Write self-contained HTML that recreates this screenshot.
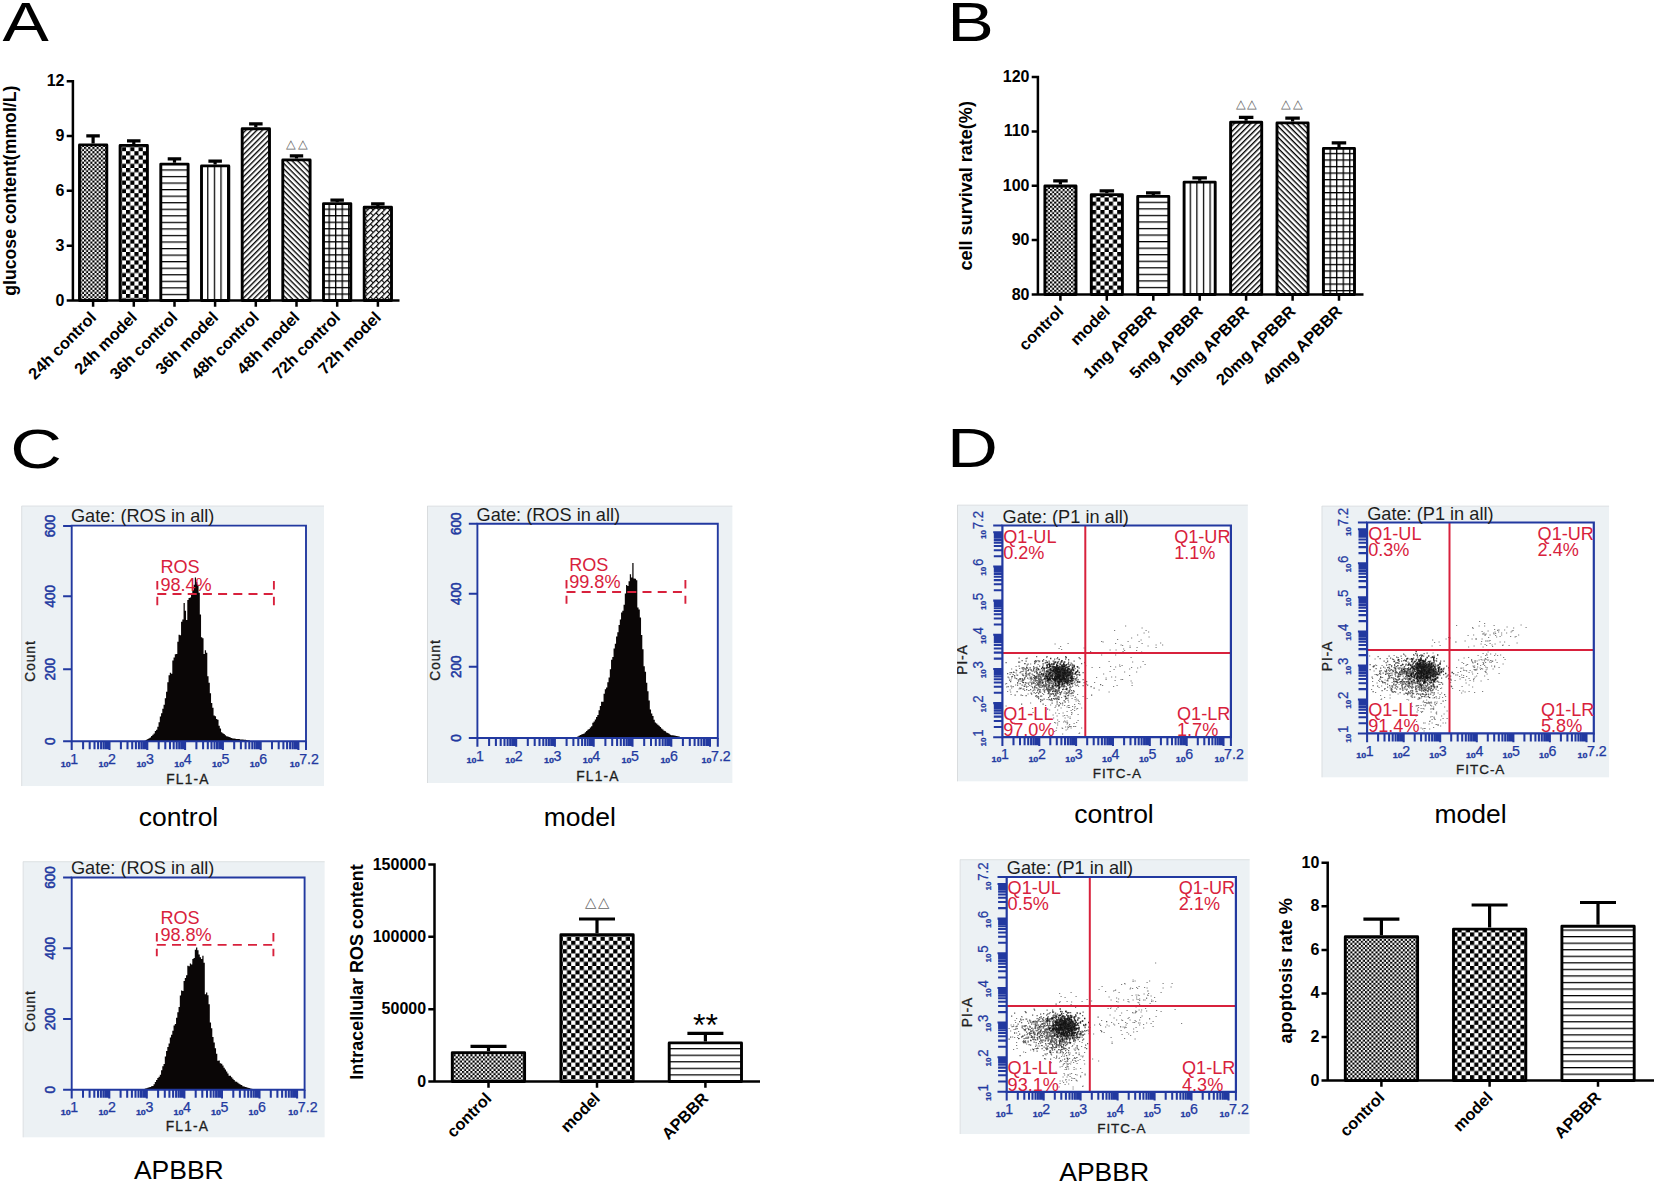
<!DOCTYPE html>
<html lang="en"><head><meta charset="utf-8"><title>Figure</title>
<style>html,body{margin:0;padding:0;background:#fff}svg{display:block}text{font-family:'Liberation Sans', sans-serif}</style>
</head><body>
<svg width="1654" height="1183" viewBox="0 0 1654 1183">
<rect width="1654" height="1183" fill="#fff"/>
<text transform="translate(2.6 40.7) scale(1.25 1)" font-size="55.5" fill="#000">A</text>
<text transform="translate(947.2 41.4) scale(1.26 1)" font-size="55.5" fill="#000">B</text>
<text transform="translate(10.2 467.8) scale(1.29 1)" font-size="55.5" fill="#000">C</text>
<text transform="translate(947 467.2) scale(1.27 1)" font-size="55.5" fill="#000">D</text>
<g><path d="M93.1 143.5V135.8M86.3 135.8H99.8" stroke="#000" stroke-width="3.2" fill="none"/><rect x="79.5" y="144.9" width="27.3" height="155.6" fill="url(#p1)" stroke="#000" stroke-width="2.9" stroke-linejoin="round"/><path d="M133.8 144V140.8M127 140.8H140.5" stroke="#000" stroke-width="3.2" fill="none"/><rect x="120.1" y="145.4" width="27.3" height="155.1" fill="url(#p2)" stroke="#000" stroke-width="2.9" stroke-linejoin="round"/><path d="M174.5 162.7V158.8M167.7 158.8H181.2" stroke="#000" stroke-width="3.2" fill="none"/><rect x="160.8" y="164.1" width="27.3" height="136.4" fill="url(#p3)" stroke="#000" stroke-width="2.9" stroke-linejoin="round"/><path d="M215.1 164.5V161.2M208.4 161.2H221.9" stroke="#000" stroke-width="3.2" fill="none"/><rect x="201.5" y="165.9" width="27.3" height="134.6" fill="url(#p4)" stroke="#000" stroke-width="2.9" stroke-linejoin="round"/><path d="M255.8 127.2V123.8M249.1 123.8H262.6" stroke="#000" stroke-width="3.2" fill="none"/><rect x="242.2" y="128.7" width="27.3" height="171.8" fill="url(#p5)" stroke="#000" stroke-width="2.9" stroke-linejoin="round"/><path d="M296.5 158.5V155.8M289.8 155.8H303.2" stroke="#000" stroke-width="3.2" fill="none"/><rect x="282.8" y="159.9" width="27.3" height="140.6" fill="url(#p6)" stroke="#000" stroke-width="2.9" stroke-linejoin="round"/><path d="M337.2 202.2V200.2M330.4 200.2H343.9" stroke="#000" stroke-width="3.2" fill="none"/><rect x="323.5" y="203.6" width="27.3" height="96.9" fill="url(#p7)" stroke="#000" stroke-width="2.9" stroke-linejoin="round"/><path d="M377.9 205.9V203.9M371.1 203.9H384.6" stroke="#000" stroke-width="3.2" fill="none"/><rect x="364.2" y="207.3" width="27.3" height="93.2" fill="url(#p8)" stroke="#000" stroke-width="2.9" stroke-linejoin="round"/><path d="M72.9 80V300.5M66.7 300.5H399.5M66.7 81.2H72.9M66.7 136H72.9M66.7 190.8H72.9M66.7 245.7H72.9M66.7 300.5H72.9M93.1 300.5V306.7M133.8 300.5V306.7M174.5 300.5V306.7M215.1 300.5V306.7M255.8 300.5V306.7M296.5 300.5V306.7M337.2 300.5V306.7M377.9 300.5V306.7" stroke="#000" stroke-width="2.5" fill="none"/><text x="64.5" y="86.2" text-anchor="end" font-size="16" font-weight="bold">12</text><text x="64.5" y="141" text-anchor="end" font-size="16" font-weight="bold">9</text><text x="64.5" y="195.8" text-anchor="end" font-size="16" font-weight="bold">6</text><text x="64.5" y="250.7" text-anchor="end" font-size="16" font-weight="bold">3</text><text x="64.5" y="305.5" text-anchor="end" font-size="16" font-weight="bold">0</text><text transform="translate(93.6 314.9) rotate(-45)" text-anchor="end" font-size="16.3" font-weight="bold" y="5">24h control</text><text transform="translate(134.3 314.9) rotate(-45)" text-anchor="end" font-size="16.3" font-weight="bold" y="5">24h model</text><text transform="translate(175 314.9) rotate(-45)" text-anchor="end" font-size="16.3" font-weight="bold" y="5">36h control</text><text transform="translate(215.6 314.9) rotate(-45)" text-anchor="end" font-size="16.3" font-weight="bold" y="5">36h model</text><text transform="translate(256.3 314.9) rotate(-45)" text-anchor="end" font-size="16.3" font-weight="bold" y="5">48h control</text><text transform="translate(297 314.9) rotate(-45)" text-anchor="end" font-size="16.3" font-weight="bold" y="5">48h model</text><text transform="translate(337.7 314.9) rotate(-45)" text-anchor="end" font-size="16.3" font-weight="bold" y="5">72h control</text><text transform="translate(378.4 314.9) rotate(-45)" text-anchor="end" font-size="16.3" font-weight="bold" y="5">72h model</text><text transform="translate(10.3 190.7) rotate(-90)" text-anchor="middle" font-size="17.7" font-weight="bold" y="6">glucose content(mmol/L)</text><text transform="translate(297.5 149) scale(1 0.95)" y="-1.45" text-anchor="middle" font-family="'DejaVu Sans', sans-serif" font-size="13" letter-spacing="1.4" fill="#666">△△</text></g>
<g><path d="M1060.4 184.6V180.8M1053.2 180.8H1067.7" stroke="#000" stroke-width="3.2" fill="none"/><rect x="1044.9" y="186" width="31.1" height="108.5" fill="url(#p1)" stroke="#000" stroke-width="2.9" stroke-linejoin="round"/><path d="M1106.8 193.2V190.8M1099.6 190.8H1114.1" stroke="#000" stroke-width="3.2" fill="none"/><rect x="1091.3" y="194.6" width="31.1" height="99.9" fill="url(#p2)" stroke="#000" stroke-width="2.9" stroke-linejoin="round"/><path d="M1153.3 195V192.8M1146 192.8H1160.5" stroke="#000" stroke-width="3.2" fill="none"/><rect x="1137.7" y="196.4" width="31.1" height="98.1" fill="url(#p9)" stroke="#000" stroke-width="2.9" stroke-linejoin="round"/><path d="M1199.7 180.7V177.8M1192.4 177.8H1206.9" stroke="#000" stroke-width="3.2" fill="none"/><rect x="1184.1" y="182.1" width="31.1" height="112.4" fill="url(#p10)" stroke="#000" stroke-width="2.9" stroke-linejoin="round"/><path d="M1246.1 120.8V117.3M1238.9 117.3H1253.4" stroke="#000" stroke-width="3.2" fill="none"/><rect x="1230.6" y="122.2" width="31.1" height="172.2" fill="url(#p5)" stroke="#000" stroke-width="2.9" stroke-linejoin="round"/><path d="M1292.6 121.4V118.2M1285.3 118.2H1299.8" stroke="#000" stroke-width="3.2" fill="none"/><rect x="1277" y="122.9" width="31.1" height="171.6" fill="url(#p6)" stroke="#000" stroke-width="2.9" stroke-linejoin="round"/><path d="M1339 147V142.8M1331.7 142.8H1346.2" stroke="#000" stroke-width="3.2" fill="none"/><rect x="1323.4" y="148.4" width="31.1" height="146.1" fill="url(#p11)" stroke="#000" stroke-width="2.9" stroke-linejoin="round"/><path d="M1037.9 75.8V294.5M1031.7 294.5H1363.5M1031.7 77H1037.9M1031.7 131.4H1037.9M1031.7 185.8H1037.9M1031.7 240.1H1037.9M1031.7 294.5H1037.9M1060.4 294.5V300.7M1106.8 294.5V300.7M1153.3 294.5V300.7M1199.7 294.5V300.7M1246.1 294.5V300.7M1292.6 294.5V300.7M1339 294.5V300.7" stroke="#000" stroke-width="2.5" fill="none"/><text x="1029.5" y="82" text-anchor="end" font-size="16" font-weight="bold">120</text><text x="1029.5" y="136.4" text-anchor="end" font-size="16" font-weight="bold">110</text><text x="1029.5" y="190.8" text-anchor="end" font-size="16" font-weight="bold">100</text><text x="1029.5" y="245.1" text-anchor="end" font-size="16" font-weight="bold">90</text><text x="1029.5" y="299.5" text-anchor="end" font-size="16" font-weight="bold">80</text><text transform="translate(1060.9 308.9) rotate(-45)" text-anchor="end" font-size="16.3" font-weight="bold" y="5">control</text><text transform="translate(1107.3 308.9) rotate(-45)" text-anchor="end" font-size="16.3" font-weight="bold" y="5">model</text><text transform="translate(1153.8 308.9) rotate(-45)" text-anchor="end" font-size="16.3" font-weight="bold" y="5">1mg APBBR</text><text transform="translate(1200.2 308.9) rotate(-45)" text-anchor="end" font-size="16.3" font-weight="bold" y="5">5mg APBBR</text><text transform="translate(1246.6 308.9) rotate(-45)" text-anchor="end" font-size="16.3" font-weight="bold" y="5">10mg APBBR</text><text transform="translate(1293.1 308.9) rotate(-45)" text-anchor="end" font-size="16.3" font-weight="bold" y="5">20mg APBBR</text><text transform="translate(1339.5 308.9) rotate(-45)" text-anchor="end" font-size="16.3" font-weight="bold" y="5">40mg APBBR</text><text transform="translate(965.9 185.8) rotate(-90)" text-anchor="middle" font-size="18.05" font-weight="bold" y="6">cell survival rate(%)</text><text transform="translate(1247.3 109.8) scale(1 0.95)" y="-1.45" text-anchor="middle" font-family="'DejaVu Sans', sans-serif" font-size="13" letter-spacing="1.4" fill="#666">△△</text><text transform="translate(1292.5 109.8) scale(1 0.95)" y="-1.45" text-anchor="middle" font-family="'DejaVu Sans', sans-serif" font-size="13" letter-spacing="1.4" fill="#666">△△</text></g>
<g><path d="M488.5 1051.1V1046.3M470.5 1046.3H506.5" stroke="#000" stroke-width="3.2" fill="none"/><rect x="452.3" y="1052.6" width="72.3" height="28.9" fill="url(#p1)" stroke="#000" stroke-width="2.9" stroke-linejoin="round"/><path d="M597 933.2V919M579 919H615" stroke="#000" stroke-width="3.2" fill="none"/><rect x="560.9" y="934.7" width="72.3" height="146.8" fill="url(#p2)" stroke="#000" stroke-width="2.9" stroke-linejoin="round"/><path d="M705.4 1041.4V1033.3M687.4 1033.3H723.4" stroke="#000" stroke-width="3.2" fill="none"/><rect x="669.2" y="1042.9" width="72.3" height="38.6" fill="url(#p12)" stroke="#000" stroke-width="2.9" stroke-linejoin="round"/><path d="M434.5 863.2V1081.5M428.3 1081.5H760M428.3 864.5H434.5M428.3 936.8H434.5M428.3 1009.2H434.5M428.3 1081.5H434.5M488.5 1081.5V1087.7M597 1081.5V1087.7M705.4 1081.5V1087.7" stroke="#000" stroke-width="2.5" fill="none"/><text x="426.1" y="869.5" text-anchor="end" font-size="16" font-weight="bold">150000</text><text x="426.1" y="941.8" text-anchor="end" font-size="16" font-weight="bold">100000</text><text x="426.1" y="1014.2" text-anchor="end" font-size="16" font-weight="bold">50000</text><text x="426.1" y="1086.5" text-anchor="end" font-size="16" font-weight="bold">0</text><text transform="translate(489 1095.9) rotate(-45)" text-anchor="end" font-size="16.3" font-weight="bold" y="5">control</text><text transform="translate(597.5 1095.9) rotate(-45)" text-anchor="end" font-size="16.3" font-weight="bold" y="5">model</text><text transform="translate(705.9 1095.9) rotate(-45)" text-anchor="end" font-size="16.3" font-weight="bold" y="5">APBBR</text><text transform="translate(356.7 972) rotate(-90)" text-anchor="middle" font-size="17.95" font-weight="bold" y="6">Intracellular ROS content</text><text transform="translate(598.2 908.6) scale(1 0.95)" y="-1.65" text-anchor="middle" font-family="'DejaVu Sans', sans-serif" font-size="14.82" letter-spacing="1.6" fill="#666">△△</text><text x="705.4" y="1035.6" text-anchor="middle" font-size="32">**</text></g>
<g><path d="M1381.4 935.2V919.1M1363.4 919.1H1399.4" stroke="#000" stroke-width="3.2" fill="none"/><rect x="1345.3" y="936.7" width="72.3" height="143.9" fill="url(#p1)" stroke="#000" stroke-width="2.9" stroke-linejoin="round"/><path d="M1489.6 927.6V905M1471.6 905H1507.6" stroke="#000" stroke-width="3.2" fill="none"/><rect x="1453.5" y="929.1" width="72.3" height="151.5" fill="url(#p2)" stroke="#000" stroke-width="2.9" stroke-linejoin="round"/><path d="M1598 924.7V902.5M1580 902.5H1616" stroke="#000" stroke-width="3.2" fill="none"/><rect x="1561.9" y="926.2" width="72.3" height="154.4" fill="url(#p13)" stroke="#000" stroke-width="2.9" stroke-linejoin="round"/><path d="M1327.7 861.5V1080.6M1321.5 1080.6H1654M1321.5 862.7H1327.7M1321.5 906.3H1327.7M1321.5 949.9H1327.7M1321.5 993.4H1327.7M1321.5 1037H1327.7M1321.5 1080.6H1327.7M1381.4 1080.6V1086.8M1489.6 1080.6V1086.8M1598 1080.6V1086.8" stroke="#000" stroke-width="2.5" fill="none"/><text x="1319.3" y="867.7" text-anchor="end" font-size="16" font-weight="bold">10</text><text x="1319.3" y="911.3" text-anchor="end" font-size="16" font-weight="bold">8</text><text x="1319.3" y="954.9" text-anchor="end" font-size="16" font-weight="bold">6</text><text x="1319.3" y="998.4" text-anchor="end" font-size="16" font-weight="bold">4</text><text x="1319.3" y="1042" text-anchor="end" font-size="16" font-weight="bold">2</text><text x="1319.3" y="1085.6" text-anchor="end" font-size="16" font-weight="bold">0</text><text transform="translate(1381.9 1095) rotate(-45)" text-anchor="end" font-size="16.3" font-weight="bold" y="5">control</text><text transform="translate(1490.1 1095) rotate(-45)" text-anchor="end" font-size="16.3" font-weight="bold" y="5">model</text><text transform="translate(1598.5 1095) rotate(-45)" text-anchor="end" font-size="16.3" font-weight="bold" y="5">APBBR</text><text transform="translate(1286.2 970.8) rotate(-90)" text-anchor="middle" font-size="18.15" font-weight="bold" y="6">apoptosis rate %</text></g>
<clipPath id="k1"><rect x="21.2" y="505.4" width="303" height="280.8"/></clipPath><g clip-path="url(#k1)"><rect x="21.2" y="505.4" width="303" height="280.8" fill="#ecf1f4"/><path d="M21.7 786.2V505.9H324.2" fill="none" stroke="#d9dcde" stroke-width="1"/><rect x="71.7" y="525.6" width="234.3" height="215.6" fill="#fff"/><path d="M144.8 741.2V740.6h1.25V739.8h1.25V739h1.25V738.3h1.25V737.5h1.25V736.1h1.25V734.7h1.25V733.5h1.25V731.1h1.25V729.7h1.25V726.8h1.25V722.2h1.25V716.5h1.25V713.2h1.25V708.7h1.25V704.7h1.25V698.2h1.25V691.8h1.25V682.2h1.25V675.3h1.25V672.8h1.25V673.7h1.25V660.5h1.25V657.5h1.25V654.3h1.25V653.9h1.25V641.7h1.25V634.8h1.25V635.3h1.25V621.8h1.25V619.5h1.25V603.1h1.25V610.8h1.25V620h1.25V600.1h1.25V598h1.25V597.4h1.25V593.7h1.25V589.9h1.25V584.8h1.25V577.4h1.25V581.9h1.25V585.2h1.25V592.7h1.25V614.6h1.25V637.3h1.25V638.3h1.25V653.9h1.25V650.3h1.25V652.7h1.25V676.3h1.25V682.8h1.25V693.2h1.25V703.1h1.25V707.8h1.25V715.5h1.25V716.3h1.25V718.9h1.25V719.8h1.25V725.7h1.25V728.6h1.25V732.2h1.25V733.2h1.25V734h1.25V735.2h1.25V736.2h1.25V736.5h1.25V737h1.25V737.4h1.25V738.1h1.25V738.6h1.25V738.6h1.25V738.7h1.25V738.9h1.25V738.9h1.25V739.1h1.25V739.5h1.25V739.5h1.25V739.5h1.25V739.7h1.25V739.8h1.25V740h1.25V740.2h1.25V740.3h1.25V741.2Z" fill="#0a0606"/><path d="M71.7 525.6H306V741.2H71.7Z" fill="none" stroke="#2239a0" stroke-width="1.9"/><path d="M71.7 741.2v8.8M83.1 741.2v8M89.7 741.2v8M94.5 741.2v8M98.1 741.2v8M101.1 741.2v8M103.6 741.2v8M105.8 741.2v8M107.8 741.2v8M109.5 741.2v8.8M120.9 741.2v8M127.5 741.2v8M132.2 741.2v8M135.9 741.2v8M138.9 741.2v8M141.4 741.2v8M143.6 741.2v8M145.6 741.2v8M147.3 741.2v8.8M158.7 741.2v8M165.3 741.2v8M170 741.2v8M173.7 741.2v8M176.7 741.2v8M179.2 741.2v8M181.4 741.2v8M183.3 741.2v8M185.1 741.2v8.8M196.4 741.2v8M203.1 741.2v8M207.8 741.2v8M211.5 741.2v8M214.5 741.2v8M217 741.2v8M219.2 741.2v8M221.1 741.2v8M222.9 741.2v8.8M234.2 741.2v8M240.9 741.2v8M245.6 741.2v8M249.3 741.2v8M252.3 741.2v8M254.8 741.2v8M257 741.2v8M258.9 741.2v8M260.7 741.2v8.8M272 741.2v8M278.7 741.2v8M283.4 741.2v8M287.1 741.2v8M290.1 741.2v8M292.6 741.2v8M294.8 741.2v8M296.7 741.2v8M298.4 741.2v8.8M306 741.2v8.8M71.7 741.2h-8.6M71.7 669.3h-8.6M71.7 596.2h-8.6M71.7 525.9h-8.6" fill="none" stroke="#2239a0" stroke-width="2.05"/><g fill="#2239a0" stroke="#2239a0" stroke-width="0.25"><text transform="translate(60.8 766.6) scale(1.28 1)" font-size="7" font-weight="bold">10</text><text x="70.3" y="763.8" font-size="14.2">1</text><text transform="translate(98.6 766.6) scale(1.28 1)" font-size="7" font-weight="bold">10</text><text x="108.1" y="763.8" font-size="14.2">2</text><text transform="translate(136.4 766.6) scale(1.28 1)" font-size="7" font-weight="bold">10</text><text x="145.9" y="763.8" font-size="14.2">3</text><text transform="translate(174.2 766.6) scale(1.28 1)" font-size="7" font-weight="bold">10</text><text x="183.7" y="763.8" font-size="14.2">4</text><text transform="translate(212 766.6) scale(1.28 1)" font-size="7" font-weight="bold">10</text><text x="221.5" y="763.8" font-size="14.2">5</text><text transform="translate(249.8 766.6) scale(1.28 1)" font-size="7" font-weight="bold">10</text><text x="259.3" y="763.8" font-size="14.2">6</text><text transform="translate(289.7 766.6) scale(1.28 1)" font-size="7" font-weight="bold">10</text><text x="299.2" y="763.8" font-size="14.2">7.2</text></g><text transform="translate(55.4 741.2) rotate(-90) scale(1 1.08)" text-anchor="middle" font-size="13.5" fill="#2239a0" stroke="#2239a0" stroke-width="0.5">0</text><text transform="translate(55.4 669.3) rotate(-90) scale(1 1.08)" text-anchor="middle" font-size="13.5" fill="#2239a0" stroke="#2239a0" stroke-width="0.5">200</text><text transform="translate(55.4 596.2) rotate(-90) scale(1 1.08)" text-anchor="middle" font-size="13.5" fill="#2239a0" stroke="#2239a0" stroke-width="0.5">400</text><text transform="translate(55.4 525.9) rotate(-90) scale(1 1.08)" text-anchor="middle" font-size="13.5" fill="#2239a0" stroke="#2239a0" stroke-width="0.5">600</text><text x="70.9" y="522.4" font-size="18.2" fill="#1d1d1d">Gate: (ROS in all)</text><text transform="translate(35.2 661) rotate(-90)" text-anchor="middle" font-size="13.8" letter-spacing="0.9" fill="#1d1d1d" stroke="#1d1d1d" stroke-width="0.3">Count</text><text x="188" y="783.6" text-anchor="middle" font-size="13.8" letter-spacing="1.2" fill="#1d1d1d" stroke="#1d1d1d" stroke-width="0.3">FL1-A</text><path d="M157.3 594H273.9" stroke="#d8213c" stroke-width="1.9" stroke-dasharray="9 6.2" fill="none"/><path d="M157.3 581V606.5M273.9 581V606.5" stroke="#d8213c" stroke-width="1.9" stroke-dasharray="8.4 7.4" fill="none"/><text font-size="18.1" fill="#d8213c"><tspan x="160.4" y="573.2">ROS</tspan><tspan x="160.4" y="590.9">98.4%</tspan></text></g>
<text x="178.5" y="826" text-anchor="middle" font-size="26.5" fill="#000">control</text>
<clipPath id="k2"><rect x="427" y="505.5" width="305.6" height="277.5"/></clipPath><g clip-path="url(#k2)"><rect x="427" y="505.5" width="305.6" height="277.5" fill="#ecf1f4"/><path d="M427.5 783V506H732.6" fill="none" stroke="#d9dcde" stroke-width="1"/><rect x="477.4" y="523.7" width="240.4" height="214.3" fill="#fff"/><path d="M574.8 738V737.4h1.25V737h1.25V736.4h1.25V735.8h1.25V735.1h1.25V734.6h1.25V734.1h1.25V733.5h1.25V732.3h1.25V731.1h1.25V729.8h1.25V728.9h1.25V727.5h1.25V726.2h1.25V722.7h1.25V721.6h1.25V719.6h1.25V716.9h1.25V714.9h1.25V710.2h1.25V706h1.25V701.8h1.25V701.7h1.25V693.8h1.25V689.2h1.25V687.5h1.25V682.2h1.25V677.4h1.25V669.2h1.25V659.7h1.25V657.1h1.25V648.5h1.25V643.7h1.25V636.4h1.25V632.3h1.25V625h1.25V619.6h1.25V612.6h1.25V610.8h1.25V604.8h1.25V593.5h1.25V585h1.25V585.9h1.25V581.2h1.25V574.2h1.25V577.4h1.25V563.1h1.25V578.4h1.25V578.8h1.25V580.2h1.25V607.5h1.25V609.5h1.25V617.6h1.25V634.9h1.25V649.3h1.25V666.3h1.25V671.8h1.25V682.8h1.25V691.3h1.25V700.5h1.25V709.5h1.25V713.5h1.25V715.9h1.25V719.8h1.25V722.4h1.25V723.6h1.25V724.7h1.25V725.7h1.25V727.1h1.25V728.5h1.25V729.6h1.25V730.7h1.25V731.3h1.25V732.5h1.25V733h1.25V733.8h1.25V734.7h1.25V735.2h1.25V735.3h1.25V735.5h1.25V735.8h1.25V736.1h1.25V736.3h1.25V736.6h1.25V736.9h1.25V737.2h1.25V738Z" fill="#0a0606"/><path d="M477.4 523.7H717.8V738H477.4Z" fill="none" stroke="#2239a0" stroke-width="1.9"/><path d="M477.4 738v8.8M489.1 738v8M495.9 738v8M500.7 738v8M504.5 738v8M507.6 738v8M510.2 738v8M512.4 738v8M514.4 738v8M516.2 738v8.8M527.8 738v8M534.7 738v8M539.5 738v8M543.3 738v8M546.3 738v8M548.9 738v8M551.2 738v8M553.2 738v8M554.9 738v8.8M566.6 738v8M573.4 738v8M578.3 738v8M582.1 738v8M585.1 738v8M587.7 738v8M590 738v8M591.9 738v8M593.7 738v8.8M605.4 738v8M612.2 738v8M617.1 738v8M620.8 738v8M623.9 738v8M626.5 738v8M628.7 738v8M630.7 738v8M632.5 738v8.8M644.2 738v8M651 738v8M655.8 738v8M659.6 738v8M662.7 738v8M665.3 738v8M667.5 738v8M669.5 738v8M671.3 738v8.8M682.9 738v8M689.8 738v8M694.6 738v8M698.4 738v8M701.4 738v8M704 738v8M706.3 738v8M708.3 738v8M710 738v8.8M717.8 738v8.8M477.4 738h-8.6M477.4 666.8h-8.6M477.4 593.8h-8.6M477.4 523.7h-8.6" fill="none" stroke="#2239a0" stroke-width="2.05"/><g fill="#2239a0" stroke="#2239a0" stroke-width="0.25"><text transform="translate(466.5 763.4) scale(1.28 1)" font-size="7" font-weight="bold">10</text><text x="476" y="760.6" font-size="14.2">1</text><text transform="translate(505.3 763.4) scale(1.28 1)" font-size="7" font-weight="bold">10</text><text x="514.8" y="760.6" font-size="14.2">2</text><text transform="translate(544 763.4) scale(1.28 1)" font-size="7" font-weight="bold">10</text><text x="553.5" y="760.6" font-size="14.2">3</text><text transform="translate(582.8 763.4) scale(1.28 1)" font-size="7" font-weight="bold">10</text><text x="592.3" y="760.6" font-size="14.2">4</text><text transform="translate(621.6 763.4) scale(1.28 1)" font-size="7" font-weight="bold">10</text><text x="631.1" y="760.6" font-size="14.2">5</text><text transform="translate(660.4 763.4) scale(1.28 1)" font-size="7" font-weight="bold">10</text><text x="669.9" y="760.6" font-size="14.2">6</text><text transform="translate(701.5 763.4) scale(1.28 1)" font-size="7" font-weight="bold">10</text><text x="711" y="760.6" font-size="14.2">7.2</text></g><text transform="translate(460.9 738) rotate(-90) scale(1 1.08)" text-anchor="middle" font-size="13.5" fill="#2239a0" stroke="#2239a0" stroke-width="0.5">0</text><text transform="translate(460.9 666.8) rotate(-90) scale(1 1.08)" text-anchor="middle" font-size="13.5" fill="#2239a0" stroke="#2239a0" stroke-width="0.5">200</text><text transform="translate(460.9 593.8) rotate(-90) scale(1 1.08)" text-anchor="middle" font-size="13.5" fill="#2239a0" stroke="#2239a0" stroke-width="0.5">400</text><text transform="translate(460.9 523.7) rotate(-90) scale(1 1.08)" text-anchor="middle" font-size="13.5" fill="#2239a0" stroke="#2239a0" stroke-width="0.5">600</text><text x="476.6" y="520.5" font-size="18.2" fill="#1d1d1d">Gate: (ROS in all)</text><text transform="translate(439.6 660) rotate(-90)" text-anchor="middle" font-size="13.8" letter-spacing="0.9" fill="#1d1d1d" stroke="#1d1d1d" stroke-width="0.3">Count</text><text x="598" y="780.6" text-anchor="middle" font-size="13.8" letter-spacing="1.2" fill="#1d1d1d" stroke="#1d1d1d" stroke-width="0.3">FL1-A</text><path d="M566.5 592H685.4" stroke="#d8213c" stroke-width="1.9" stroke-dasharray="9 6.2" fill="none"/><path d="M566.5 580V603.8M685.4 580V603.8" stroke="#d8213c" stroke-width="1.9" stroke-dasharray="8.4 7.4" fill="none"/><text font-size="18.1" fill="#d8213c"><tspan x="569.2" y="571.3">ROS</tspan><tspan x="569.2" y="588.3">99.8%</tspan></text></g>
<text x="579.8" y="826" text-anchor="middle" font-size="26.5" fill="#000">model</text>
<clipPath id="k3"><rect x="22.5" y="861.2" width="302.3" height="276.4"/></clipPath><g clip-path="url(#k3)"><rect x="22.5" y="861.2" width="302.3" height="276.4" fill="#ecf1f4"/><path d="M23 1137.6V861.7H324.8" fill="none" stroke="#d9dcde" stroke-width="1"/><rect x="71.7" y="877.5" width="232.9" height="212.3" fill="#fff"/><path d="M142.3 1089.8V1089.2h1.25V1089h1.25V1088.6h1.25V1088.2h1.25V1087.7h1.25V1087.3h1.25V1086.9h1.25V1086.3h1.25V1086.1h1.25V1084.3h1.25V1082.1h1.25V1080.1h1.25V1078.1h1.25V1076.8h1.25V1074.7h1.25V1070.2h1.25V1066.2h1.25V1064.1h1.25V1056.5h1.25V1050.9h1.25V1047.1h1.25V1043.5h1.25V1037.5h1.25V1034.7h1.25V1030.8h1.25V1025.6h1.25V1024h1.25V1017.7h1.25V1012.2h1.25V1007.1h1.25V995.4h1.25V990.6h1.25V991h1.25V981.1h1.25V977.9h1.25V975.3h1.25V965.7h1.25V966.2h1.25V963.5h1.25V964.4h1.25V959h1.25V958h1.25V949.8h1.25V947.6h1.25V950.3h1.25V954.5h1.25V957.3h1.25V959h1.25V955.7h1.25V962.8h1.25V994.3h1.25V992.4h1.25V995.3h1.25V1004.3h1.25V1022.4h1.25V1028.3h1.25V1037h1.25V1042.4h1.25V1048.3h1.25V1053.8h1.25V1060.8h1.25V1060.5h1.25V1063.3h1.25V1063.7h1.25V1065.6h1.25V1067.7h1.25V1069.6h1.25V1071.6h1.25V1073.4h1.25V1075.8h1.25V1075.8h1.25V1077.3h1.25V1078.7h1.25V1079.9h1.25V1081.5h1.25V1081.7h1.25V1082.8h1.25V1083.8h1.25V1084.5h1.25V1085.1h1.25V1086.2h1.25V1086.5h1.25V1086.9h1.25V1087.2h1.25V1087.7h1.25V1088h1.25V1088.4h1.25V1088.8h1.25V1089.8Z" fill="#0a0606"/><path d="M71.7 877.5H304.6V1089.8H71.7Z" fill="none" stroke="#2239a0" stroke-width="1.9"/><path d="M71.7 1089.8v8.8M83 1089.8v8M89.6 1089.8v8M94.3 1089.8v8M98 1089.8v8M100.9 1089.8v8M103.4 1089.8v8M105.6 1089.8v8M107.5 1089.8v8M109.3 1089.8v8.8M120.6 1089.8v8M127.2 1089.8v8M131.9 1089.8v8M135.5 1089.8v8M138.5 1089.8v8M141 1089.8v8M143.2 1089.8v8M145.1 1089.8v8M146.8 1089.8v8.8M158.1 1089.8v8M164.8 1089.8v8M169.4 1089.8v8M173.1 1089.8v8M176.1 1089.8v8M178.6 1089.8v8M180.8 1089.8v8M182.7 1089.8v8M184.4 1089.8v8.8M195.7 1089.8v8M202.3 1089.8v8M207 1089.8v8M210.7 1089.8v8M213.6 1089.8v8M216.1 1089.8v8M218.3 1089.8v8M220.2 1089.8v8M222 1089.8v8.8M233.3 1089.8v8M239.9 1089.8v8M244.6 1089.8v8M248.2 1089.8v8M251.2 1089.8v8M253.7 1089.8v8M255.9 1089.8v8M257.8 1089.8v8M259.5 1089.8v8.8M270.8 1089.8v8M277.4 1089.8v8M282.1 1089.8v8M285.8 1089.8v8M288.8 1089.8v8M291.3 1089.8v8M293.4 1089.8v8M295.4 1089.8v8M297.1 1089.8v8.8M304.6 1089.8v8.8M71.7 1089.8h-8.6M71.7 1019h-8.6M71.7 948.3h-8.6M71.7 877.5h-8.6" fill="none" stroke="#2239a0" stroke-width="2.05"/><g fill="#2239a0" stroke="#2239a0" stroke-width="0.25"><text transform="translate(60.8 1115.2) scale(1.28 1)" font-size="7" font-weight="bold">10</text><text x="70.3" y="1112.4" font-size="14.2">1</text><text transform="translate(98.4 1115.2) scale(1.28 1)" font-size="7" font-weight="bold">10</text><text x="107.9" y="1112.4" font-size="14.2">2</text><text transform="translate(135.9 1115.2) scale(1.28 1)" font-size="7" font-weight="bold">10</text><text x="145.4" y="1112.4" font-size="14.2">3</text><text transform="translate(173.5 1115.2) scale(1.28 1)" font-size="7" font-weight="bold">10</text><text x="183" y="1112.4" font-size="14.2">4</text><text transform="translate(211.1 1115.2) scale(1.28 1)" font-size="7" font-weight="bold">10</text><text x="220.6" y="1112.4" font-size="14.2">5</text><text transform="translate(248.6 1115.2) scale(1.28 1)" font-size="7" font-weight="bold">10</text><text x="258.1" y="1112.4" font-size="14.2">6</text><text transform="translate(288.3 1115.2) scale(1.28 1)" font-size="7" font-weight="bold">10</text><text x="297.8" y="1112.4" font-size="14.2">7.2</text></g><text transform="translate(55.4 1089.8) rotate(-90) scale(1 1.08)" text-anchor="middle" font-size="13.5" fill="#2239a0" stroke="#2239a0" stroke-width="0.5">0</text><text transform="translate(55.4 1019) rotate(-90) scale(1 1.08)" text-anchor="middle" font-size="13.5" fill="#2239a0" stroke="#2239a0" stroke-width="0.5">200</text><text transform="translate(55.4 948.3) rotate(-90) scale(1 1.08)" text-anchor="middle" font-size="13.5" fill="#2239a0" stroke="#2239a0" stroke-width="0.5">400</text><text transform="translate(55.4 877.5) rotate(-90) scale(1 1.08)" text-anchor="middle" font-size="13.5" fill="#2239a0" stroke="#2239a0" stroke-width="0.5">600</text><text x="70.9" y="874.3" font-size="18.2" fill="#1d1d1d">Gate: (ROS in all)</text><text transform="translate(35.2 1011) rotate(-90)" text-anchor="middle" font-size="13.8" letter-spacing="0.9" fill="#1d1d1d" stroke="#1d1d1d" stroke-width="0.3">Count</text><text x="187.5" y="1131" text-anchor="middle" font-size="13.8" letter-spacing="1.2" fill="#1d1d1d" stroke="#1d1d1d" stroke-width="0.3">FL1-A</text><path d="M156.8 944.9H273.4" stroke="#d8213c" stroke-width="1.9" stroke-dasharray="9 6.2" fill="none"/><path d="M156.8 933V956.2M273.4 933V956.2" stroke="#d8213c" stroke-width="1.9" stroke-dasharray="8.4 7.4" fill="none"/><text font-size="18.1" fill="#d8213c"><tspan x="160.4" y="924.2">ROS</tspan><tspan x="160.4" y="941.2">98.8%</tspan></text></g>
<text x="178.8" y="1179" text-anchor="middle" font-size="26.5" fill="#000">APBBR</text>
<clipPath id="k4"><rect x="957" y="504.5" width="290.9" height="277.1"/></clipPath><g clip-path="url(#k4)"><rect x="957" y="504.5" width="290.9" height="277.1" fill="#ecf1f4"/><path d="M957.5 781.6V505H1247.9" fill="none" stroke="#d9dcde" stroke-width="1"/><rect x="1002.4" y="525.5" width="228.5" height="211.7" fill="#fff"/><path d="M1065.5 679.5h1.4M1058 669.5h1.4M1063.5 681h1.4M1064 668.5h1.4M1058 673h1.4M1066.5 674h1.4M1060 672.5h1.4M1063 670.5h1.4M1062 674.5h1.4M1070 674h1.4M1066.5 669.5h1.4M1066 674.5h1.4M1059.5 673h1.4M1066.5 672.5h1.4M1067 680.5h1.4M1070 681h1.4M1055.5 674.5h1.4M1058.5 677.5h1.4M1062.5 674.5h1.4M1064 671h1.4M1062.5 670.5h1.4M1072 672.5h1.4M1062 666h1.4M1054.5 669.5h1.4M1066 677h1.4M1063.5 671h1.4M1071 670h1.4M1058 675.5h1.4M1057 674.5h1.4M1066.5 673.5h1.4M1064 674h1.4M1058.5 659.5h1.4M1056 673h1.4M1054 670.5h1.4M1063 679.5h1.4M1055.5 670.5h1.4M1063 676h1.4M1055 681h1.4M1058 678h1.4M1061 675h1.4M1070 677.5h1.4M1062.5 669.5h1.4M1058.5 667h1.4M1072 667.5h1.4M1049.5 679.5h1.4M1068.5 672.5h1.4M1066 670.5h1.4M1059 675.5h1.4M1064 672h1.4M1070 677.5h1.4M1062.5 668.5h1.4M1062.5 672.5h1.4M1061.5 677h1.4M1059 674.5h1.4M1066 675.5h1.4M1073.5 667h1.4M1061.5 668.5h1.4M1061.5 684.5h1.4M1054 671.5h1.4M1065 674h1.4M1066.5 667h1.4M1067 670h1.4M1056 675.5h1.4M1064.5 670.5h1.4M1058 672.5h1.4M1062 673h1.4M1057 663h1.4M1068.5 675h1.4M1056 666h1.4M1058.5 671.5h1.4M1051.5 678.5h1.4M1064 672.5h1.4M1063.5 674.5h1.4M1067 674.5h1.4M1068 681h1.4M1060.5 671.5h1.4M1057.5 672h1.4M1058.5 673h1.4M1063.5 676h1.4M1056 677.5h1.4M1060.5 673h1.4M1059.5 664.5h1.4M1063 666h1.4M1067.5 674h1.4M1069.5 677h1.4M1065.5 680h1.4M1061.5 680h1.4M1061 674.5h1.4M1058.5 675.5h1.4M1065 671.5h1.4M1055.5 672.5h1.4M1064 673h1.4M1057 670h1.4M1060.5 662h1.4M1059 679.5h1.4M1055.5 672h1.4M1070.5 677.5h1.4M1066.5 673h1.4M1055 685.5h1.4M1063.5 674.5h1.4M1070 677.5h1.4M1062 668.5h1.4M1061 672.5h1.4M1058.5 669.5h1.4M1057 672.5h1.4M1059 675h1.4M1067 675.5h1.4M1062 680h1.4M1065 667.5h1.4M1058.5 674h1.4M1057.5 676.5h1.4M1053 664.5h1.4M1066.5 676.5h1.4M1054 673h1.4M1068.5 669h1.4M1056 667.5h1.4M1057 665.5h1.4M1059.5 667h1.4M1062 683h1.4M1056.5 677h1.4M1067.5 664h1.4M1062.5 673.5h1.4M1060 676.5h1.4M1059.5 675h1.4M1060 672.5h1.4M1058 683h1.4M1061.5 668.5h1.4M1071.5 681h1.4M1061 670.5h1.4M1058 678.5h1.4M1060 670h1.4M1066 672.5h1.4M1061.5 682h1.4M1066 679h1.4M1064 679h1.4M1061 677.5h1.4M1067 672h1.4M1055.5 675h1.4M1061 676h1.4M1059 675.5h1.4M1066.5 684h1.4M1070.5 676h1.4M1069 671.5h1.4M1067.5 674.5h1.4M1068.5 675.5h1.4M1060.5 670h1.4M1068 674h1.4M1065.5 676h1.4M1051.5 675h1.4M1060 675h1.4M1064 666h1.4M1060 673h1.4M1063.5 677.5h1.4M1058.5 672h1.4M1065 665.5h1.4M1071 670h1.4M1068.5 674.5h1.4M1071 679h1.4M1061.5 666h1.4M1062.5 675h1.4M1064.5 668h1.4M1057.5 669.5h1.4M1063 669.5h1.4M1061 677.5h1.4M1059.5 679h1.4M1063.5 672.5h1.4M1067.5 676h1.4M1060.5 670.5h1.4M1061.5 675h1.4M1067.5 675h1.4M1058.5 667.5h1.4M1063 675h1.4M1067.5 671.5h1.4M1055.5 676.5h1.4M1061 668h1.4M1070 678h1.4M1062 674.5h1.4M1058 677.5h1.4M1059.5 671.5h1.4M1060.5 668.5h1.4M1067 681h1.4M1065.5 665h1.4M1060.5 670.5h1.4M1063.5 664.5h1.4M1051 670.5h1.4M1066.5 673h1.4M1073 670.5h1.4M1062 673h1.4M1057.5 678h1.4M1055 668h1.4M1060 671h1.4M1067.5 671.5h1.4M1064.5 671.5h1.4M1068 674h1.4M1063 666.5h1.4M1065.5 671h1.4M1066 676h1.4M1064.5 678.5h1.4M1063.5 670h1.4M1062.5 674h1.4M1056 675.5h1.4M1069 675h1.4M1062.5 675.5h1.4M1067.5 671.5h1.4M1066.5 670.5h1.4M1064.5 676h1.4M1055.5 675.5h1.4M1063 666.5h1.4M1059.5 670.5h1.4M1057.5 675h1.4M1058 673.5h1.4M1056.5 672h1.4M1071 676h1.4M1054 668.5h1.4M1061 666.5h1.4M1066.5 673.5h1.4M1061.5 673.5h1.4M1058.5 668h1.4M1046.5 665h1.4M1063 676.5h1.4M1061 665.5h1.4M1060 673.5h1.4M1055.5 679h1.4M1056 673h1.4M1056.5 677h1.4M1055.5 669h1.4M1067.5 668.5h1.4M1059 675.5h1.4M1063.5 666h1.4M1065 672.5h1.4M1068 666.5h1.4M1065.5 675.5h1.4M1060 671.5h1.4M1063.5 670.5h1.4M1060 670h1.4M1062.5 676.5h1.4M1054 673h1.4M1063.5 680h1.4M1058 678.5h1.4M1059.5 675.5h1.4M1063 674.5h1.4M1060 669h1.4M1069 680.5h1.4M1061 672.5h1.4M1060.5 667.5h1.4M1056.5 674.5h1.4M1066.5 673h1.4M1057 668.5h1.4M1058.5 676h1.4M1062 667h1.4M1056 674.5h1.4M1063.5 681h1.4M1069 675h1.4M1058.5 674h1.4M1056 670h1.4M1067 676.5h1.4M1066.5 680.5h1.4M1059.5 676.5h1.4M1062 675h1.4M1063 676h1.4M1055 667h1.4M1062 675.5h1.4M1059.5 672.5h1.4M1055 677h1.4M1064 680h1.4M1060 673h1.4M1062 679.5h1.4M1064.5 675.5h1.4M1053.5 669h1.4M1054.5 672h1.4M1066 674h1.4M1057 682h1.4M1056.5 679h1.4M1067.5 675h1.4M1068.5 669h1.4M1059 672h1.4M1063.5 673h1.4M1070 672.5h1.4M1060.5 668h1.4M1064 677h1.4M1058 667.5h1.4M1055 678h1.4M1065.5 675h1.4M1065.5 676h1.4M1064 666.5h1.4M1064.5 676.5h1.4M1067.5 678h1.4M1058.5 674h1.4M1055 679h1.4M1055 676h1.4M1058 669.5h1.4M1057.5 671.5h1.4M1063.5 678.5h1.4M1060.5 677h1.4M1066 682.5h1.4M1059 674.5h1.4M1065 674.5h1.4M1065 671h1.4M1060 670.5h1.4M1058.5 669h1.4M1059 666.5h1.4M1055 677.5h1.4M1046.5 666.5h1.4M1056.5 667h1.4M1051.5 686h1.4M1062.5 671.5h1.4M1053.5 664h1.4M1050 658.5h1.4M1064.5 671.5h1.4M1067.5 675h1.4M1043 685h1.4M1064 680.5h1.4M1055 670.5h1.4M1058 685.5h1.4M1049 666.5h1.4M1064 662h1.4M1072 668h1.4M1069.5 674h1.4M1056.5 667h1.4M1072 673.5h1.4M1048.5 677.5h1.4M1058.5 677.5h1.4M1056.5 676.5h1.4M1063.5 675h1.4M1046 676.5h1.4M1071.5 678h1.4M1067.5 680h1.4M1057 681h1.4M1057.5 668h1.4M1049 680h1.4M1065.5 679h1.4M1055 662.5h1.4M1066.5 674.5h1.4M1054.5 670h1.4M1055 662h1.4M1065 679.5h1.4M1067 672.5h1.4M1049 665h1.4M1057 685.5h1.4M1067.5 675h1.4M1063.5 680h1.4M1060 676h1.4M1061.5 671h1.4M1050 670h1.4M1069.5 665h1.4M1056 671.5h1.4M1060 671.5h1.4M1066.5 672.5h1.4M1059.5 679h1.4M1048 680.5h1.4M1068.5 666.5h1.4M1059 669.5h1.4M1056.5 679h1.4M1044 678.5h1.4M1063.5 674.5h1.4M1078.5 672.5h1.4M1047 676h1.4M1061 670.5h1.4M1042 661h1.4M1073.5 665.5h1.4M1071.5 680.5h1.4M1041 674h1.4M1065 682h1.4M1071 683.5h1.4M1059.5 673h1.4M1058 677.5h1.4M1052 667h1.4M1079 682h1.4M1068.5 673.5h1.4M1052.5 671h1.4M1053 670h1.4M1046.5 677.5h1.4M1062.5 679.5h1.4M1060.5 670h1.4M1077 681.5h1.4M1064.5 680.5h1.4M1057 679h1.4M1053.5 680.5h1.4M1067.5 680.5h1.4M1063 675.5h1.4M1061.5 679h1.4M1056 678.5h1.4M1066.5 667h1.4M1045.5 675h1.4M1057 669h1.4M1049.5 666.5h1.4M1046 671h1.4M1046.5 662.5h1.4M1058.5 684h1.4M1070 674h1.4M1063 673h1.4M1058.5 669.5h1.4M1060 667.5h1.4M1053.5 673h1.4M1059 687.5h1.4M1052.5 666.5h1.4M1065 678.5h1.4M1065.5 674h1.4M1047 671h1.4M1049 673h1.4M1074.5 673.5h1.4M1060.5 681.5h1.4M1048.5 678.5h1.4M1057 669.5h1.4M1056.5 667.5h1.4M1067 675.5h1.4M1056 677h1.4M1048.5 664h1.4M1048.5 674h1.4M1062 673h1.4M1054.5 679h1.4M1055 680h1.4M1072 678.5h1.4M1066 673.5h1.4M1063 680h1.4M1061.5 670h1.4M1060.5 670.5h1.4M1048.5 667.5h1.4M1058 672h1.4M1075.5 672h1.4M1043 674.5h1.4M1055.5 672h1.4M1047 680.5h1.4M1057.5 674.5h1.4M1062.5 678h1.4M1049.5 669h1.4M1051.5 676h1.4M1067.5 673.5h1.4M1057 670.5h1.4M1054.5 673.5h1.4M1065.5 678.5h1.4M1066 679h1.4M1053.5 667h1.4M1062.5 667.5h1.4M1071.5 680.5h1.4M1048 679.5h1.4M1070 674h1.4M1060 680.5h1.4M1052.5 674h1.4M1066.5 679h1.4M1051 664h1.4M1061 661h1.4M1062.5 668.5h1.4M1058 672.5h1.4M1063.5 665h1.4M1059 681.5h1.4M1057.5 685.5h1.4M1046.5 678.5h1.4M1073 670h1.4M1054 678h1.4M1077 671h1.4M1063 680.5h1.4M1063 664h1.4M1058 681h1.4M1063.5 674h1.4M1058 683.5h1.4M1077 667h1.4M1045 675.5h1.4M1067.5 674h1.4M1060.5 679.5h1.4M1060.5 671h1.4M1041 668.5h1.4M1063.5 683.5h1.4M1038 669.5h1.4M1050 673h1.4M1071.5 669h1.4M1069 684.5h1.4M1042 683h1.4M1069.5 673.5h1.4M1054.5 676.5h1.4M1059 678.5h1.4M1066.5 684h1.4M1070.5 678h1.4M1048.5 667.5h1.4M1042 667h1.4M1059 677h1.4M1054 671.5h1.4M1079 675h1.4M1053.5 662.5h1.4M1060 682h1.4M1054 678h1.4M1053 679h1.4M1058.5 673h1.4M1055.5 673h1.4M1070.5 673.5h1.4M1053.5 671h1.4M1056 664.5h1.4M1069.5 670.5h1.4M1058.5 683.5h1.4M1073 678.5h1.4M1055 683.5h1.4M1067.5 681.5h1.4M1061 676h1.4M1058.5 687h1.4M1052 679h1.4M1065.5 657.5h1.4M1059 684.5h1.4M1063 663.5h1.4M1054.5 680h1.4M1061 669.5h1.4M1048 674.5h1.4M1063.5 671h1.4M1057 670.5h1.4M1065 681h1.4M1052.5 666.5h1.4M1064.5 673.5h1.4M1050.5 672.5h1.4M1058.5 688.5h1.4M1064 678.5h1.4M1071.5 677.5h1.4M1056.5 670.5h1.4M1070.5 671h1.4M1066 689.5h1.4M1064.5 670.5h1.4M1063 672h1.4M1054.5 679.5h1.4M1066.5 673.5h1.4M1055.5 677h1.4M1062 671h1.4M1064.5 670h1.4M1043.5 669h1.4M1058.5 682h1.4M1052.5 667.5h1.4M1049.5 678.5h1.4M1058 677.5h1.4M1071.5 676h1.4M1046 668h1.4M1067 683h1.4M1050 676h1.4" stroke="#000" stroke-opacity="0.8" stroke-width="1.4" fill="none"/><path d="M1063 675.5h1.25M1100 684.5h1.25M1059 680.5h1.25M1050.5 669h1.25M1063.5 672.5h1.25M1067 675h1.25M1034.5 662.5h1.25M1046 657h1.25M1056 673.5h1.25M1068.5 669h1.25M1054 681.5h1.25M1066 667.5h1.25M1076 672h1.25M1072 674.5h1.25M1051.5 664.5h1.25M1055 698.5h1.25M1049 690h1.25M1073.5 674h1.25M1071 690.5h1.25M1053 671h1.25M1071 681h1.25M1083.5 682.5h1.25M1042.5 675h1.25M1042 682.5h1.25M1065.5 673h1.25M1045.5 684h1.25M1052 687.5h1.25M1044.5 673h1.25M1050 666h1.25M1091 695h1.25M1049 683.5h1.25M1034 686.5h1.25M1070.5 674.5h1.25M1052.5 678.5h1.25M1062.5 673.5h1.25M1046 673h1.25M1051.5 683.5h1.25M1058 679h1.25M1036 671.5h1.25M1052 671h1.25M1055.5 673.5h1.25M1037.5 684h1.25M1068.5 672.5h1.25M1065 668.5h1.25M1041 673.5h1.25M1076.5 677h1.25M1037.5 677.5h1.25M1050 669.5h1.25M1061.5 660.5h1.25M1034.5 661h1.25M1071 678.5h1.25M1049.5 669.5h1.25M1065.5 689h1.25M1048 678.5h1.25M1087 685h1.25M1053 679.5h1.25M1058.5 683.5h1.25M1062 672.5h1.25M1056 680.5h1.25M1049 677h1.25M1046 687.5h1.25M1077 670h1.25M1068 679.5h1.25M1058.5 674.5h1.25M1061 686.5h1.25M1042 685.5h1.25M1054 666.5h1.25M1057 683h1.25M1056.5 679.5h1.25M1053 671.5h1.25M1070 669h1.25M1070 681h1.25M1054 674.5h1.25M1054 676.5h1.25M1057 675.5h1.25M1058.5 687.5h1.25M1064 683h1.25M1071.5 665h1.25M1068.5 678h1.25M1052 672h1.25M1065 659h1.25M1046 673h1.25M1065 668.5h1.25M1060.5 683.5h1.25M1069 691.5h1.25M1038.5 674h1.25M1036.5 685h1.25M1057.5 667.5h1.25M1052.5 671h1.25M1059 679h1.25M1050.5 680.5h1.25M1025.5 671.5h1.25M1065.5 686.5h1.25M1067.5 668h1.25M1036.5 672.5h1.25M1086 681.5h1.25M1048.5 661h1.25M1059.5 673h1.25M1063.5 679h1.25M1028.5 673.5h1.25M1067 672h1.25M1042.5 665h1.25M1041 696h1.25M1075 672.5h1.25M1074.5 668.5h1.25M1050.5 669.5h1.25M1055 683h1.25M1082.5 685.5h1.25M1056 678h1.25M1054.5 680h1.25M1046.5 678.5h1.25M1063 686h1.25M1047 680h1.25M1061 669.5h1.25M1033 670h1.25M1068 675h1.25M1085.5 684h1.25M1048.5 675h1.25M1063 681.5h1.25M1054.5 681h1.25M1093.5 688h1.25M1059.5 672.5h1.25M1035.5 676.5h1.25M1052.5 676h1.25M1050.5 683.5h1.25M1070.5 671.5h1.25M1040.5 678.5h1.25M1074 682h1.25M1063 664.5h1.25M1050.5 681.5h1.25M1062 677h1.25M1064 685h1.25M1058.5 670.5h1.25M1040 677.5h1.25M1055 675h1.25M1071 672h1.25M1054 682.5h1.25M1046.5 656.5h1.25M1050.5 683.5h1.25M1050 674h1.25M1034.5 686h1.25M1036 669h1.25M1055 694.5h1.25M1058.5 670.5h1.25M1039 672.5h1.25M1042 670h1.25M1058 688h1.25M1043.5 688h1.25M1033.5 692.5h1.25M1049.5 672.5h1.25M1051.5 678.5h1.25M1056.5 673.5h1.25M1048.5 671h1.25M1058 672h1.25M1049 663h1.25M1057.5 681h1.25M1044.5 685h1.25M1056.5 677.5h1.25M1036.5 680.5h1.25M1072.5 695.5h1.25M1049.5 675.5h1.25M1066 682h1.25M1049.5 676.5h1.25M1069 682.5h1.25M1056.5 686h1.25M1039 679.5h1.25M1049 673h1.25M1067 693h1.25M1062.5 678.5h1.25M1077 685h1.25M1030.5 669.5h1.25M1049 670h1.25M1039 681h1.25M1059.5 692.5h1.25M1054 677.5h1.25M1048.5 685.5h1.25M1072.5 693h1.25M1069.5 672.5h1.25M1072 670h1.25M1050 674.5h1.25M1082.5 672.5h1.25M1045.5 678h1.25M1071.5 683h1.25M1064 670h1.25M1053 688h1.25M1059 671.5h1.25M1053.5 688.5h1.25M1078 682h1.25M1047.5 691h1.25M1050 677.5h1.25M1062.5 677.5h1.25M1055.5 691.5h1.25M1061.5 664.5h1.25M1050.5 688.5h1.25M1055.5 668h1.25M1068.5 682h1.25M1058 682h1.25M1053 678.5h1.25M1064.5 672.5h1.25M1072.5 669h1.25M1082.5 679.5h1.25M1062 666.5h1.25M1067 670.5h1.25M1063.5 677.5h1.25M1048 692h1.25M1059.5 672.5h1.25M1053.5 679.5h1.25M1058.5 685h1.25M1051 678.5h1.25M1052 670.5h1.25M1067.5 670.5h1.25M1038.5 681.5h1.25M1051.5 681.5h1.25M1064 682h1.25M1058.5 691h1.25M1045.5 686.5h1.25M1056 679.5h1.25M1053 684.5h1.25M1063.5 673.5h1.25M1058.5 681.5h1.25M1056 699h1.25M1064.5 674.5h1.25M1070 680.5h1.25M1052 674h1.25M1039 682.5h1.25M1076 678h1.25M1048.5 661.5h1.25M1043.5 676h1.25M1050.5 675.5h1.25M1048 675h1.25M1055 678.5h1.25M1059 679h1.25M1048.5 674h1.25M1043.5 672h1.25M1057.5 681h1.25M1042 667.5h1.25M1051.5 666h1.25M1054.5 675.5h1.25M1049.5 691h1.25M1053 679h1.25M1037 683h1.25M1061.5 679.5h1.25M1032.5 675h1.25M1050 680h1.25M1057.5 672.5h1.25M1052 687.5h1.25M1070.5 663h1.25M1052.5 682.5h1.25M1053 679.5h1.25M1054 691.5h1.25M1066 676h1.25M1074.5 684h1.25M1077.5 674.5h1.25M1040 683h1.25M1058 661.5h1.25M1012.5 674.5h1.25M1058.5 670h1.25M1052 677.5h1.25M1041 687h1.25M1042 676h1.25M1057.5 672.5h1.25M1048.5 684h1.25M1038.5 675.5h1.25M1076.5 671.5h1.25M1039.5 671.5h1.25M1022.5 667.5h1.25M1043.5 668.5h1.25M1047 681.5h1.25M1058 668h1.25M1072.5 669.5h1.25M1075 674h1.25M1046.5 672h1.25M1074.5 679h1.25M1057 662h1.25M1057 674h1.25M1053 669.5h1.25M1038.5 686.5h1.25M1045.5 681h1.25M1064 678.5h1.25M1059 682.5h1.25M1053 675.5h1.25M1061 678.5h1.25M1050.5 675.5h1.25M1058 672h1.25M1069.5 682.5h1.25M1063.5 671h1.25M1064 671h1.25M1076 675h1.25M1079.5 658.5h1.25M1060 671h1.25M1042 674h1.25M1055.5 670h1.25M1048 672.5h1.25M1062 686h1.25M1062 666h1.25M1051.5 681h1.25M1049 683h1.25M1055.5 684h1.25M1058 684h1.25M1049 664.5h1.25M1037.5 660.5h1.25M1053.5 672h1.25M1045 681.5h1.25M1056.5 665.5h1.25M1068 683h1.25M1045 662.5h1.25M1049 678h1.25M1070.5 679.5h1.25M1057 672h1.25M1041 673.5h1.25M1048.5 673.5h1.25M1059 677.5h1.25M1048 693.5h1.25M1026 687h1.25M1064 666.5h1.25M1042.5 679.5h1.25M1062.5 670h1.25M1071 693.5h1.25M1049 669.5h1.25M1052.5 678.5h1.25M1037.5 668.5h1.25M1038 675h1.25M1056 668.5h1.25M1036 656.5h1.25M1055 670.5h1.25M1048 664.5h1.25M1060 663h1.25M1085 665.5h1.25M1060.5 686.5h1.25M1090.5 686.5h1.25M1066.5 683h1.25M1047.5 669.5h1.25M1063.5 686h1.25M1059 687h1.25M1054.5 669h1.25M1041 679.5h1.25M1035.5 671.5h1.25M1081 663.5h1.25M1064 686h1.25M1070.5 687h1.25M1038 685.5h1.25M1035.5 676.5h1.25M1073 680h1.25M1037.5 683.5h1.25M1061 679h1.25M1052.5 668.5h1.25M1045.5 679h1.25M1073.5 676.5h1.25M1068 662.5h1.25M1065 669.5h1.25M1053 686.5h1.25M1076.5 666.5h1.25M1031 677h1.25M1057 674h1.25M1042.5 663.5h1.25M1068 679.5h1.25M1048 667.5h1.25M1051.5 675.5h1.25M1055 694.5h1.25M1049 684h1.25M1048.5 672h1.25M1044.5 681h1.25M1072.5 665h1.25M1063 686.5h1.25M1057 657.5h1.25M1040 672.5h1.25M1046 665h1.25M1084 662.5h1.25M1063 676.5h1.25M1054.5 667.5h1.25M1056 680.5h1.25M1078.5 668h1.25M1043 673.5h1.25M1064.5 696.5h1.25M1057 671h1.25M1021.5 660.5h1.25M1056 685h1.25M1049 682.5h1.25M1069.5 686h1.25M1057.5 690h1.25M1034 678h1.25M1056.5 658.5h1.25M1069 690.5h1.25M1058.5 669h1.25M1062.5 677h1.25M1057.5 685.5h1.25M1072.5 683h1.25M1071.5 664h1.25M1068 695h1.25M1058.5 671.5h1.25M1073.5 661h1.25M1071.5 667h1.25M1063 666.5h1.25M1075 678.5h1.25M1050 676h1.25M1073.5 691.5h1.25M1060 675h1.25M1075 679.5h1.25M1050.5 693.5h1.25M1038.5 678.5h1.25M1076.5 682.5h1.25M1061 685.5h1.25M1046 676.5h1.25M1057.5 686h1.25M1063.5 678.5h1.25M1073 690.5h1.25M1043.5 699h1.25M1062.5 673.5h1.25M1078.5 657.5h1.25M1044 679h1.25M1050.5 666.5h1.25M1055 691h1.25M1059 685h1.25M1067.5 678.5h1.25M1059 672h1.25M1061 685h1.25M1056.5 677.5h1.25M1064.5 679h1.25M1062.5 662h1.25M1063 664h1.25M1066 677h1.25M1053.5 666.5h1.25M1069.5 675h1.25M1053.5 661h1.25M1076.5 674.5h1.25M1048.5 687h1.25M1065 656.5h1.25M1057 691h1.25M1055.5 671h1.25M1068 685h1.25M1048 671h1.25M1052 672.5h1.25M1043.5 670.5h1.25M1066 664.5h1.25M1070 683h1.25M1067 685h1.25M1048.5 663h1.25M1071.5 678h1.25M1063.5 686.5h1.25M1043 676h1.25M1057.5 669h1.25M1048 676.5h1.25M1062.5 689h1.25M1068.5 691h1.25M1052.5 679h1.25M1057.5 674.5h1.25M1052 688.5h1.25M1075.5 679h1.25M1026.5 665h1.25M1048 691.5h1.25M1071 676h1.25M1066.5 681h1.25M1057 676.5h1.25M1047 667.5h1.25M1056 668h1.25M1062 675h1.25M1048 679.5h1.25M1049 673.5h1.25M1047 682h1.25M1059.5 675.5h1.25M1055.5 681h1.25M1052.5 661h1.25M1077.5 679.5h1.25M1066.5 670.5h1.25M1039 666h1.25M1064.5 674h1.25M1055.5 673h1.25M1039.5 690h1.25M1046.5 667.5h1.25M1044.5 679h1.25M1072 680h1.25M1062.5 675h1.25M1073 680.5h1.25M1062.5 668.5h1.25M1071.5 684h1.25M1052 670.5h1.25M1062.5 666.5h1.25M1059 670h1.25M1045.5 685.5h1.25M1045.5 660.5h1.25M1075 673h1.25M1070 678h1.25M1046.5 662h1.25M1055 679h1.25M1050 673h1.25M1048 675h1.25M1059 675h1.25M1034 668h1.25M1052.5 672h1.25M1035.5 670h1.25M1039 661h1.25M1061.5 668.5h1.25M1070 687h1.25M1035 676.5h1.25M1039 680h1.25M1069.5 689h1.25M1071.5 665.5h1.25M1059.5 663.5h1.25M1062 684h1.25M1055 683.5h1.25M1047 671.5h1.25M1043 659.5h1.25M1058 676.5h1.25M1044.5 668h1.25M1039 681h1.25M1063.5 672.5h1.25M1052 672h1.25M1046.5 678.5h1.25M1068 659.5h1.25M1067 669h1.25M1052.5 663.5h1.25M1050.5 674.5h1.25M1053 698.5h1.25M1052 673.5h1.25M1053 680h1.25M1065 683h1.25M1035 680h1.25M1022 680.5h1.25M1027.5 683h1.25M1031.5 683.5h1.25M1007.5 686.5h1.25M1016.5 691.5h1.25M1016 678.5h1.25M1022 679.5h1.25M1050 671h1.25M1040 685h1.25M1021.5 685h1.25M1028 683h1.25M1021 704h1.25M1034 661.5h1.25M1042 675.5h1.25M1014 675.5h1.25M1018.5 679.5h1.25M1022.5 669.5h1.25M1038 681h1.25M1035.5 680.5h1.25M1034.5 680.5h1.25M1052 686h1.25M1043.5 691h1.25M1012.5 686.5h1.25M1009.5 672.5h1.25M1023 682.5h1.25M1055 673h1.25M1010.5 686h1.25M1033 666.5h1.25M1064.5 681.5h1.25M1038 679.5h1.25M1031 683h1.25M1036.5 688h1.25M1014.5 678h1.25M1050 668.5h1.25M1045.5 671.5h1.25M1049 689h1.25M1044.5 678h1.25M1025.5 673h1.25M1039.5 678h1.25M1022.5 679.5h1.25M1020 688.5h1.25M1047 678.5h1.25M1051 676.5h1.25M1055 679.5h1.25M1018 662h1.25M1061.5 664.5h1.25M1034.5 686h1.25M1031.5 671h1.25M1033 680h1.25M1038 682.5h1.25M1020.5 688h1.25M1040 685h1.25M1048 682.5h1.25M1019.5 672.5h1.25M1025.5 670h1.25M1027.5 664h1.25M1036 678h1.25M1050.5 674.5h1.25M1059.5 678h1.25M1031.5 679h1.25M1055.5 687h1.25M1040.5 678.5h1.25M1029.5 667.5h1.25M1033.5 675.5h1.25M1058.5 674.5h1.25M1054 679h1.25M1031 684h1.25M1005.5 662.5h1.25M1060.5 681.5h1.25M1041 677h1.25M1037.5 677.5h1.25M1034.5 680h1.25M1039.5 683h1.25M1022 675h1.25M1059 675.5h1.25M1040.5 680h1.25M1031 694h1.25M1044.5 663h1.25M1051 668h1.25M1011 672.5h1.25M1047.5 664.5h1.25M1048.5 671h1.25M1052.5 684.5h1.25M1025.5 658.5h1.25M1035 660.5h1.25M1046.5 674.5h1.25M1052 673.5h1.25M1022 682h1.25M1021.5 678.5h1.25M1034 672h1.25M1017 683h1.25M1058 676h1.25M1023 675.5h1.25M1019 662h1.25M1049.5 679.5h1.25M1030.5 693h1.25M1035.5 678h1.25M1047 673h1.25M1040 681.5h1.25M1045.5 681h1.25M1055 685h1.25M1045.5 685.5h1.25M1027.5 670.5h1.25M1032 687.5h1.25M1018 681h1.25M1025.5 674.5h1.25M1024 663.5h1.25M1055 676h1.25M1035.5 678.5h1.25M1058 677.5h1.25M1039 684h1.25M1044 686h1.25M1045 676.5h1.25M1043 668.5h1.25M1034 687.5h1.25M1054.5 682.5h1.25M1046 674h1.25M1047 677h1.25M1022.5 689h1.25M1036.5 680.5h1.25M1019.5 678.5h1.25M1040.5 683h1.25M1042.5 682h1.25M1047.5 688.5h1.25M1050.5 671h1.25M1038 689h1.25M1048.5 676h1.25M1035.5 677.5h1.25M1038.5 661.5h1.25M1007 673.5h1.25M1015.5 670h1.25M1022 679h1.25M1033.5 689h1.25M1036.5 676h1.25M1034 676.5h1.25M1022 668h1.25M1053.5 672h1.25M1023.5 668h1.25M1026 667h1.25M1024.5 663.5h1.25M1014.5 695h1.25M1037.5 681h1.25M1052.5 682h1.25M1040.5 675h1.25M1048 672h1.25M1031.5 674h1.25M1051.5 678h1.25M1037 690h1.25M1055.5 682h1.25M1039.5 674.5h1.25M1035.5 685h1.25M1042.5 689.5h1.25M1042 670h1.25M1025.5 661h1.25M1041.5 671h1.25M1043 675h1.25M1038.5 675h1.25M1033 682h1.25M1029.5 677h1.25M1029 675h1.25M1028 669.5h1.25M1033 682.5h1.25M1036 673h1.25M1020.5 695h1.25M1052 669h1.25M1018.5 666h1.25M1049.5 664.5h1.25M1036 669.5h1.25M1036.5 670h1.25M1033 677.5h1.25M1047.5 689h1.25M1041.5 680.5h1.25M1057 665.5h1.25M1060 676h1.25M1030 689.5h1.25M1030 678h1.25M1046 688.5h1.25M1019.5 683.5h1.25M1040.5 677h1.25M1057 698h1.25M1046 684h1.25M1025.5 676h1.25M1029.5 682h1.25M1039.5 672.5h1.25M1033 669h1.25M1030 678.5h1.25M1037.5 677.5h1.25M1037.5 677h1.25M1024.5 684.5h1.25M1027.5 674h1.25M1048.5 678.5h1.25M1040 692h1.25M1025.5 668.5h1.25M1063.5 673.5h1.25M1025.5 695.5h1.25M1039.5 676.5h1.25M1007.5 677h1.25M1025.5 683h1.25M1009 680h1.25M1056 679.5h1.25M1026.5 658h1.25M1029 673h1.25M1022.5 667.5h1.25M1052.5 689h1.25M1020.5 671.5h1.25M1024.5 669h1.25M1040.5 682.5h1.25M1048 678.5h1.25M1039.5 689.5h1.25M1042 681h1.25M1011.5 676.5h1.25M1031 678.5h1.25M1052 673.5h1.25M1056 671h1.25M1057 669.5h1.25M1035.5 661.5h1.25M1018.5 658h1.25M1043 676h1.25M1027 668h1.25M1030.5 680h1.25M1034.5 679h1.25M1043.5 686.5h1.25M1017 682.5h1.25M1016 670.5h1.25M1013 672h1.25M1051 680.5h1.25M1057.5 673h1.25M1054 659h1.25M1044.5 686.5h1.25M1045 673.5h1.25M1027 678h1.25M1063.5 686.5h1.25M1034 663.5h1.25M1050 672h1.25M1049 666h1.25M1020.5 681h1.25M1040 687h1.25M1038 676.5h1.25M1044.5 676.5h1.25M1024 678h1.25M1055 681h1.25M1042 686.5h1.25M1043.5 670.5h1.25M1031.5 682h1.25M1061 680h1.25M1024 679h1.25M1036.5 668h1.25M1040.5 700h1.25M1025 682.5h1.25M1050.5 677.5h1.25M1010 681.5h1.25M1029.5 673h1.25M1040.5 679.5h1.25M1050 689.5h1.25M1023.5 686h1.25M1035 681h1.25M1066.5 688.5h1.25M1046.5 680.5h1.25M1069.5 693.5h1.25M1057 685.5h1.25M1068 675.5h1.25M1062 703h1.25M1068 692.5h1.25M1057.5 689h1.25M1050 690h1.25M1048.5 689h1.25M1045.5 689.5h1.25M1057.5 699h1.25M1052 693.5h1.25M1049.5 696h1.25M1046 681h1.25M1038.5 684h1.25M1050 700h1.25M1056 690.5h1.25M1038.5 685.5h1.25M1047 709h1.25M1065.5 698h1.25M1039 687h1.25M1048.5 690.5h1.25M1038 693.5h1.25M1051 676.5h1.25M1048 697.5h1.25M1059.5 694.5h1.25M1036 695.5h1.25M1054.5 690.5h1.25M1039 680.5h1.25M1065.5 694h1.25M1063.5 700.5h1.25M1047.5 686h1.25M1038 698.5h1.25M1054.5 689h1.25M1047.5 691h1.25M1075.5 685.5h1.25M1035 696h1.25M1051.5 703h1.25M1055.5 695h1.25M1035.5 687.5h1.25M1047 690h1.25M1057.5 690.5h1.25M1049 699.5h1.25M1060 703.5h1.25M1046.5 684.5h1.25M1034.5 683.5h1.25M1051 699.5h1.25M1040 679.5h1.25M1050 687.5h1.25M1056.5 685.5h1.25M1048 687h1.25M1056 676.5h1.25M1057 679h1.25M1062.5 685h1.25M1056.5 685h1.25M1056.5 693h1.25M1037.5 696.5h1.25M1053 683.5h1.25M1055 674.5h1.25M1040 696h1.25M1049 696h1.25M1054 695.5h1.25M1060.5 692.5h1.25M1053.5 685h1.25M1056.5 704h1.25M1047.5 693.5h1.25M1053 691h1.25M1063.5 681.5h1.25M1072 686h1.25M1034.5 677.5h1.25M1051.5 700.5h1.25M1054 685.5h1.25M1075.5 680.5h1.25M1053 693.5h1.25M1057 692h1.25M1042 700h1.25M1053 694.5h1.25M1044 678h1.25M1069.5 689.5h1.25M1048 684h1.25M1048.5 690h1.25M1051 689.5h1.25M1051.5 681h1.25M1055 693.5h1.25M1044.5 686.5h1.25M1053 680h1.25M1052.5 686h1.25M1058.5 705.5h1.25M1050 682h1.25M1055.5 689.5h1.25M1047.5 687h1.25M1049.5 694h1.25M1049 691h1.25M1058.5 699h1.25M1057.5 696.5h1.25M1069 687.5h1.25M1065 696h1.25M1041 685h1.25M1059.5 672.5h1.25M1040 699.5h1.25M1055.5 698h1.25M1065 681.5h1.25M1040 701.5h1.25M1033.5 682h1.25M1055.5 682h1.25M1048.5 692.5h1.25M1056 687h1.25M1059 692.5h1.25M1056.5 693.5h1.25M1049 683.5h1.25M1058 684h1.25M1064.5 679.5h1.25M1051 698.5h1.25M1049 685.5h1.25M1071.5 692.5h1.25M1058.5 690h1.25M1065 699h1.25M1045 682.5h1.25M1026 689.5h1.25M1056.5 702h1.25M1049.5 694.5h1.25M1048 682.5h1.25M1038.5 684.5h1.25M1061 691.5h1.25M1036.5 697h1.25M1054 682h1.25M1038 697h1.25M1051.5 687.5h1.25M1059 676.5h1.25M1048.5 699.5h1.25M1044 690h1.25M1063.5 693h1.25M1050.5 682h1.25M1048 686h1.25M1059.5 679.5h1.25M1047 689.5h1.25M1062 689.5h1.25M1052 691.5h1.25M1042.5 704h1.25M1036.5 688h1.25M1044 692h1.25M1058.5 697h1.25M1047.5 681.5h1.25M1039 691.5h1.25M1058.5 705h1.25M1055.5 686.5h1.25M1061.5 681h1.25M1068.5 692h1.25M1055 684h1.25" stroke="#000" stroke-opacity="0.62" stroke-width="1.25" fill="none"/><path d="M1068.5 669h1.2M1037.5 678.5h1.2M1017 675h1.2M1023 680.5h1.2M1038.5 692.5h1.2M1035 693.5h1.2M1039 682h1.2M1027.5 670.5h1.2M1028 684.5h1.2M1036.5 667h1.2M1019 668.5h1.2M1047.5 679.5h1.2M1033 671h1.2M1009.5 674.5h1.2M1029 685.5h1.2M1005 684h1.2M1016 675h1.2M1025 676h1.2M1038.5 690h1.2M1036.5 675h1.2M1037.5 684.5h1.2M1045 683.5h1.2M1024 690.5h1.2M1028.5 690.5h1.2M1035.5 667.5h1.2M1031.5 686.5h1.2M1037.5 664.5h1.2M1037.5 674.5h1.2M1054.5 707.5h1.2M1048.5 685.5h1.2M1062.5 684.5h1.2M1052 677h1.2M1060 680h1.2M1005.5 706h1.2M1024 686.5h1.2M1048.5 687h1.2M1045 705.5h1.2M1043 679h1.2M1048.5 689.5h1.2M1042 693.5h1.2M1037 673.5h1.2M1017 685h1.2M1056 669h1.2M1052.5 671h1.2M1009.5 690h1.2M1043.5 667.5h1.2M1033 690.5h1.2M1007 691.5h1.2M1011.5 676.5h1.2M1035.5 676.5h1.2M1021.5 674h1.2M1032 708.5h1.2M1051 688h1.2M1020 679.5h1.2M1014 677h1.2M1006 687h1.2M1048.5 681.5h1.2M1034 675.5h1.2M1039.5 676h1.2M1027.5 675h1.2M1015 685h1.2M1055 690h1.2M1006 683.5h1.2M1011 678h1.2M1017.5 680h1.2M1037.5 678.5h1.2M1056 666h1.2M1021 668h1.2M1028 690.5h1.2M1023.5 689h1.2M1047 679h1.2M1018.5 689h1.2M1039.5 670h1.2M1019.5 678.5h1.2M1030.5 686h1.2M1034.5 690h1.2M1044 671h1.2M1046.5 689h1.2M1047.5 691h1.2M1030 703h1.2M1032.5 712.5h1.2M1028.5 679h1.2M1036.5 673h1.2M1025.5 686h1.2M1035.5 677.5h1.2M1030.5 670.5h1.2M1025.5 673h1.2M1065 693h1.2M1026 676h1.2M1069 678h1.2M1033 683.5h1.2M1024.5 677.5h1.2M1029.5 669h1.2M1026 667.5h1.2M1036 661h1.2M1013.5 672.5h1.2M1027.5 686.5h1.2M1060 693.5h1.2M1036.5 692.5h1.2M1022 695.5h1.2M1017 685.5h1.2M1015.5 666.5h1.2M1045 677h1.2M1068 661h1.2M1040.5 681h1.2M1010.5 694.5h1.2M1034 678.5h1.2M1010 692h1.2M1033 668h1.2M1036 692.5h1.2M1045.5 685h1.2M1017 675.5h1.2M1032 691h1.2M1023 671h1.2M1046.5 699.5h1.2M1008.5 678h1.2M1011 688h1.2M1073.5 666.5h1.2M1022 671.5h1.2M1062 689.5h1.2M1019 688h1.2M1036 682.5h1.2M1030 664h1.2M1025 673.5h1.2M1043 694.5h1.2M1052.5 687h1.2M1010.5 680h1.2M1036.5 684h1.2M1022.5 682.5h1.2M1022.5 674h1.2M1011 669h1.2M1015.5 673h1.2M1037 691h1.2M1045 680h1.2M1027.5 694h1.2M1019.5 708.5h1.2M1078 703.5h1.2M1048 693h1.2M1071 712.5h1.2M1075 697h1.2M1077.5 714.5h1.2M1067.5 700.5h1.2M1065.5 698h1.2M1076 709h1.2M1060 679h1.2M1057.5 693.5h1.2M1062.5 713h1.2M1075.5 701h1.2M1067.5 697h1.2M1062.5 687h1.2M1077 708.5h1.2M1066.5 707h1.2M1074.5 706.5h1.2M1077.5 720.5h1.2M1078.5 701.5h1.2M1064.5 689.5h1.2M1051 694.5h1.2M1061 697.5h1.2M1066 693.5h1.2M1055.5 696h1.2M1070.5 696h1.2M1066 698.5h1.2M1058.5 713.5h1.2M1052.5 690.5h1.2M1067.5 717h1.2M1065 696.5h1.2M1070.5 710.5h1.2M1074.5 699.5h1.2M1055 706h1.2M1067.5 691h1.2M1053.5 698.5h1.2M1077 694.5h1.2M1067 695.5h1.2M1052 691.5h1.2M1060 679.5h1.2M1067.5 699h1.2M1056.5 701h1.2M1066.5 711.5h1.2M1077.5 700h1.2M1068.5 705.5h1.2M1052.5 715h1.2M1059 702.5h1.2M1058 699.5h1.2M1074 704.5h1.2M1077.5 700.5h1.2M1063.5 696h1.2M1053.5 696.5h1.2M1064.5 691.5h1.2M1081 708h1.2M1062.5 716h1.2M1050 705h1.2M1062 705h1.2M1055.5 706h1.2M1066 692.5h1.2M1060 694h1.2M1063.5 696h1.2M1078 686.5h1.2M1079.5 704h1.2M1066 688h1.2M1074 710.5h1.2M1065.5 689h1.2M1082.5 696.5h1.2M1051.5 686h1.2M1068 707.5h1.2M1054 699.5h1.2M1074.5 697.5h1.2M1055.5 692.5h1.2M1071.5 698.5h1.2M1063 689h1.2M1058 706h1.2M1064.5 702.5h1.2M1060.5 708h1.2M1072 706.5h1.2M1053 718h1.2M1066 688.5h1.2M1067.5 695.5h1.2M1072 709.5h1.2M1067 727h1.2M1049 710h1.2M1064 705.5h1.2M1055 691.5h1.2M1063 722h1.2M1076 699h1.2M1086.5 698.5h1.2M1071.5 713h1.2M1063.5 687h1.2M1062 734h1.2M1055 713h1.2M1073 726.5h1.2M1068.5 726h1.2M1069.5 726.5h1.2M1054 731.5h1.2M1065 727h1.2M1064 715.5h1.2M1056.5 716h1.2M1056 728h1.2M1057 710h1.2M1068 702h1.2M1066.5 715.5h1.2M1055 723h1.2M1069 707.5h1.2M1074 708h1.2M1057 720h1.2M1074.5 726.5h1.2M1064.5 701.5h1.2M1071 714.5h1.2M1064.5 718h1.2M1081 728h1.2M1064 721h1.2M1076 722.5h1.2M1067.5 705.5h1.2M1055.5 730.5h1.2M1070.5 728h1.2M1066.5 724h1.2M1069.5 718.5h1.2M1069.5 717h1.2M1065.5 730h1.2M1070.5 726.5h1.2M1075 726.5h1.2M1073.5 723.5h1.2M1066.5 721h1.2M1061.5 728h1.2M1057 725h1.2M1079 733h1.2M1069 726.5h1.2M1068 727.5h1.2M1067 729h1.2M1078.5 733.5h1.2M1058.5 721.5h1.2M1054 722.5h1.2M1069 724.5h1.2M1066.5 722.5h1.2M1057 723h1.2M1067 723h1.2M1062 728.5h1.2M1065 722h1.2M1067 698.5h1.2M1102.5 642h1.2M1145.5 630.5h1.2M1137 635h1.2M1155.5 647.5h1.2M1143.5 633h1.2M1108.5 661.5h1.2M1117 639.5h1.2M1131 638h1.2M1130.5 657.5h1.2M1162 645h1.2M1109.5 650h1.2M1114 630.5h1.2M1129.5 646h1.2M1115 643.5h1.2M1120.5 645h1.2M1147.5 646h1.2M1141.5 643.5h1.2M1122 645.5h1.2M1141.5 628h1.2M1160 643h1.2M1141 652h1.2M1155.5 645h1.2M1140.5 640h1.2M1136.5 647.5h1.2M1148 632h1.2M1149.5 653.5h1.2M1125 626h1.2M1138.5 641.5h1.2M1127.5 641.5h1.2M1136 650.5h1.2M1129.5 647.5h1.2M1115.5 650h1.2M1148.5 637h1.2M1101 641.5h1.2M1131.5 685.5h1.2M1124 650.5h1.2M1105.5 678h1.2M1136 672h1.2M1101 655h1.2M1132 662h1.2M1123 649h1.2M1142.5 661.5h1.2M1108.5 692h1.2M1140 667h1.2M1094 682.5h1.2M1115 667h1.2M1124 672h1.2M1122.5 651.5h1.2M1115 677h1.2M1113.5 669.5h1.2M1109.5 671.5h1.2M1113 686.5h1.2M1122 679.5h1.2M1091.5 667.5h1.2M1129 675.5h1.2M1120.5 679.5h1.2M1096 677.5h1.2M1131.5 683h1.2M1105.5 679.5h1.2M1103 674h1.2M1130.5 681h1.2M1102 685.5h1.2M1110 666.5h1.2M1131 667.5h1.2M1129 669h1.2M1119.5 666.5h1.2M1121.5 665.5h1.2M1116.5 685.5h1.2M1137 668h1.2M1144.5 664.5h1.2M1098.5 690h1.2M1099 667.5h1.2M1114.5 680.5h1.2M1115 655h1.2M1119 665h1.2M1111 677h1.2M1061 649.5h1.2M1060 646.5h1.2M1058.5 648.5h1.2M1054.5 644h1.2M1090 651.5h1.2M1083.5 648h1.2M1067.5 643.5h1.2" stroke="#000" stroke-opacity="0.5" stroke-width="1.2" fill="none"/><path d="M1085.3 525.5V737.2M1002.4 653H1230.9" stroke="#d8213c" stroke-width="2" fill="none"/><path d="M1002.4 525.5H1230.9V737.2H1002.4Z" fill="none" stroke="#2239a0" stroke-width="2.2"/><path d="M1002.4 737.2v8.8M1013.5 737.2v8M1020 737.2v8M1024.6 737.2v8M1028.2 737.2v8M1031.1 737.2v8M1033.5 737.2v8M1035.7 737.2v8M1037.6 737.2v8M1039.3 737.2v8.8M1050.3 737.2v8M1056.8 737.2v8M1061.4 737.2v8M1065 737.2v8M1067.9 737.2v8M1070.4 737.2v8M1072.5 737.2v8M1074.4 737.2v8M1076.1 737.2v8.8M1087.2 737.2v8M1093.7 737.2v8M1098.3 737.2v8M1101.9 737.2v8M1104.8 737.2v8M1107.3 737.2v8M1109.4 737.2v8M1111.3 737.2v8M1113 737.2v8.8M1124.1 737.2v8M1130.5 737.2v8M1135.2 737.2v8M1138.7 737.2v8M1141.6 737.2v8M1144.1 737.2v8M1146.2 737.2v8M1148.1 737.2v8M1149.8 737.2v8.8M1160.9 737.2v8M1167.4 737.2v8M1172 737.2v8M1175.6 737.2v8M1178.5 737.2v8M1181 737.2v8M1183.1 737.2v8M1185 737.2v8M1186.7 737.2v8.8M1197.8 737.2v8M1204.3 737.2v8M1208.9 737.2v8M1212.4 737.2v8M1215.4 737.2v8M1217.8 737.2v8M1220 737.2v8M1221.8 737.2v8M1223.5 737.2v8.8M1230.9 737.2v8.8M1002.4 737.2h-9.2M1002.4 726.9h-8.6M1002.4 720.9h-8.6M1002.4 716.6h-8.6M1002.4 713.3h-8.6M1002.4 710.6h-8.6M1002.4 708.3h-8.6M1002.4 706.4h-8.6M1002.4 704.6h-8.6M1002.4 703.1h-9.2M1002.4 692.8h-8.6M1002.4 686.8h-8.6M1002.4 682.5h-8.6M1002.4 679.2h-8.6M1002.4 676.5h-8.6M1002.4 674.2h-8.6M1002.4 672.2h-8.6M1002.4 670.5h-8.6M1002.4 668.9h-9.2M1002.4 658.6h-8.6M1002.4 652.6h-8.6M1002.4 648.4h-8.6M1002.4 645h-8.6M1002.4 642.3h-8.6M1002.4 640.1h-8.6M1002.4 638.1h-8.6M1002.4 636.3h-8.6M1002.4 634.8h-9.2M1002.4 624.5h-8.6M1002.4 618.5h-8.6M1002.4 614.2h-8.6M1002.4 610.9h-8.6M1002.4 608.2h-8.6M1002.4 605.9h-8.6M1002.4 603.9h-8.6M1002.4 602.2h-8.6M1002.4 600.6h-9.2M1002.4 590.3h-8.6M1002.4 584.3h-8.6M1002.4 580.1h-8.6M1002.4 576.8h-8.6M1002.4 574h-8.6M1002.4 571.8h-8.6M1002.4 569.8h-8.6M1002.4 568h-8.6M1002.4 566.5h-9.2M1002.4 556.2h-8.6M1002.4 550.2h-8.6M1002.4 545.9h-8.6M1002.4 542.6h-8.6M1002.4 539.9h-8.6M1002.4 537.6h-8.6M1002.4 535.6h-8.6M1002.4 533.9h-8.6M1002.4 532.3h-9.2M1002.4 525.5h-9.2" fill="none" stroke="#2239a0" stroke-width="2.05"/><g fill="#2239a0" stroke="#2239a0" stroke-width="0.25"><text transform="translate(991.5 762.2) scale(1.28 1)" font-size="7" font-weight="bold">10</text><text x="1001" y="759.4" font-size="14.2">1</text><text transform="translate(1028.4 762.2) scale(1.28 1)" font-size="7" font-weight="bold">10</text><text x="1037.9" y="759.4" font-size="14.2">2</text><text transform="translate(1065.2 762.2) scale(1.28 1)" font-size="7" font-weight="bold">10</text><text x="1074.7" y="759.4" font-size="14.2">3</text><text transform="translate(1102.1 762.2) scale(1.28 1)" font-size="7" font-weight="bold">10</text><text x="1111.6" y="759.4" font-size="14.2">4</text><text transform="translate(1138.9 762.2) scale(1.28 1)" font-size="7" font-weight="bold">10</text><text x="1148.4" y="759.4" font-size="14.2">5</text><text transform="translate(1175.8 762.2) scale(1.28 1)" font-size="7" font-weight="bold">10</text><text x="1185.3" y="759.4" font-size="14.2">6</text><text transform="translate(1214.6 762.2) scale(1.28 1)" font-size="7" font-weight="bold">10</text><text x="1224.1" y="759.4" font-size="14.2">7.2</text></g><g fill="#2239a0" stroke="#2239a0" stroke-width="0.25"><text transform="translate(986.2 746.5) rotate(-90) scale(1.08 1)" font-size="7.6" font-weight="bold">10</text><text transform="translate(983.3 736.8) rotate(-90) scale(0.9 1)" font-size="14.8">1</text><text transform="translate(986.2 712.4) rotate(-90) scale(1.08 1)" font-size="7.6" font-weight="bold">10</text><text transform="translate(983.3 702.7) rotate(-90) scale(0.9 1)" font-size="14.8">2</text><text transform="translate(986.2 678.2) rotate(-90) scale(1.08 1)" font-size="7.6" font-weight="bold">10</text><text transform="translate(983.3 668.5) rotate(-90) scale(0.9 1)" font-size="14.8">3</text><text transform="translate(986.2 644.1) rotate(-90) scale(1.08 1)" font-size="7.6" font-weight="bold">10</text><text transform="translate(983.3 634.4) rotate(-90) scale(0.9 1)" font-size="14.8">4</text><text transform="translate(986.2 609.9) rotate(-90) scale(1.08 1)" font-size="7.6" font-weight="bold">10</text><text transform="translate(983.3 600.2) rotate(-90) scale(0.9 1)" font-size="14.8">5</text><text transform="translate(986.2 575.8) rotate(-90) scale(1.08 1)" font-size="7.6" font-weight="bold">10</text><text transform="translate(983.3 566.1) rotate(-90) scale(0.9 1)" font-size="14.8">6</text><text transform="translate(986.2 539) rotate(-90) scale(1.08 1)" font-size="7.6" font-weight="bold">10</text><text transform="translate(983.3 529.3) rotate(-90) scale(0.9 1)" font-size="14.8">7.2</text></g><text x="1002.5" y="522.5" font-size="18.2" fill="#1d1d1d">Gate: (P1 in all)</text><text transform="translate(966.6 659.5) rotate(-90)" text-anchor="middle" font-size="13.8" letter-spacing="0.9" fill="#1d1d1d" stroke="#1d1d1d" stroke-width="0.3">PI-A</text><text x="1117.3" y="778.4" text-anchor="middle" font-size="13.5" letter-spacing="0.95" fill="#1d1d1d" stroke="#1d1d1d" stroke-width="0.3">FITC-A</text><text font-size="18.1" fill="#d8213c"><tspan x="1003.2" y="543">Q1-UL</tspan><tspan x="1003.2" y="558.6">0.2%</tspan></text><text font-size="18.1" fill="#d8213c"><tspan x="1174.2" y="543">Q1-UR</tspan><tspan x="1174.2" y="558.6">1.1%</tspan></text><text font-size="18.1" fill="#d8213c"><tspan x="1003.2" y="719.8">Q1-LL</tspan><tspan x="1003.2" y="736.2">97.0%</tspan></text><text font-size="18.1" fill="#d8213c"><tspan x="1177" y="719.8">Q1-LR</tspan><tspan x="1177" y="736.2">1.7%</tspan></text></g>
<text x="1114" y="822.6" text-anchor="middle" font-size="26.5" fill="#000">control</text>
<clipPath id="k5"><rect x="1321.4" y="505.5" width="287.9" height="272.1"/></clipPath><g clip-path="url(#k5)"><rect x="1321.4" y="505.5" width="287.9" height="272.1" fill="#ecf1f4"/><path d="M1321.9 777.6V506H1609.3" fill="none" stroke="#d9dcde" stroke-width="1"/><rect x="1367.1" y="522.5" width="226.7" height="210.9" fill="#fff"/><path d="M1427.5 670h1.4M1419.5 673.5h1.4M1427 671.5h1.4M1426.5 677h1.4M1430 676h1.4M1424 667.5h1.4M1420 668.5h1.4M1411 676h1.4M1426 670.5h1.4M1430 668.5h1.4M1426.5 673.5h1.4M1417 677.5h1.4M1426 673h1.4M1420 666.5h1.4M1434.5 668h1.4M1423 672h1.4M1433 659h1.4M1433.5 672h1.4M1430 665.5h1.4M1427 677.5h1.4M1425 667h1.4M1423 667h1.4M1429.5 671h1.4M1423 673.5h1.4M1419.5 662.5h1.4M1438.5 668h1.4M1434 670.5h1.4M1424 672.5h1.4M1421 665.5h1.4M1424.5 668h1.4M1429.5 679.5h1.4M1419 665h1.4M1429.5 672.5h1.4M1431.5 667h1.4M1428.5 670h1.4M1416.5 671h1.4M1417 671.5h1.4M1423 669h1.4M1437 678h1.4M1427.5 672h1.4M1421.5 675.5h1.4M1429 666h1.4M1416.5 669h1.4M1424.5 674h1.4M1420 665.5h1.4M1427.5 670.5h1.4M1430.5 675.5h1.4M1420.5 658.5h1.4M1425.5 666.5h1.4M1426.5 657.5h1.4M1425 670.5h1.4M1422.5 672h1.4M1426 671h1.4M1432.5 676.5h1.4M1432 672h1.4M1426 672.5h1.4M1427 666.5h1.4M1427.5 674.5h1.4M1423 664.5h1.4M1428.5 666.5h1.4M1417.5 668h1.4M1417.5 671h1.4M1422.5 670h1.4M1431.5 675.5h1.4M1425 659.5h1.4M1423 664h1.4M1430 677.5h1.4M1429 673.5h1.4M1428.5 673.5h1.4M1423.5 674h1.4M1424 664.5h1.4M1425.5 677.5h1.4M1424.5 661.5h1.4M1432 671.5h1.4M1428.5 668h1.4M1428 677.5h1.4M1422 673h1.4M1427.5 666h1.4M1426.5 673h1.4M1421 675h1.4M1419.5 675h1.4M1429 671.5h1.4M1421.5 666h1.4M1413.5 669h1.4M1425 672.5h1.4M1431 671.5h1.4M1423.5 674.5h1.4M1425.5 670h1.4M1419 674.5h1.4M1422 678.5h1.4M1421 667.5h1.4M1426 666.5h1.4M1417.5 664h1.4M1421 668.5h1.4M1430.5 673.5h1.4M1427 674h1.4M1414 666h1.4M1422.5 665h1.4M1428 667h1.4M1419.5 673.5h1.4M1422 668.5h1.4M1417.5 673.5h1.4M1425.5 676.5h1.4M1437 674h1.4M1423.5 666h1.4M1434 670h1.4M1429 671.5h1.4M1407.5 669h1.4M1426.5 671h1.4M1424.5 671h1.4M1420 672.5h1.4M1422.5 670.5h1.4M1434 671.5h1.4M1420 671h1.4M1418 670h1.4M1433 665.5h1.4M1424.5 666h1.4M1426.5 671.5h1.4M1426.5 668.5h1.4M1415.5 665h1.4M1423 673.5h1.4M1415 674h1.4M1421.5 662h1.4M1433 672h1.4M1420.5 670.5h1.4M1428.5 663.5h1.4M1432 666.5h1.4M1430 667.5h1.4M1417 666.5h1.4M1422.5 670.5h1.4M1416.5 664.5h1.4M1427 668.5h1.4M1422.5 671.5h1.4M1418.5 678.5h1.4M1421.5 671.5h1.4M1424.5 674.5h1.4M1423 666h1.4M1426.5 673h1.4M1424.5 679h1.4M1429.5 676.5h1.4M1432 675h1.4M1424.5 677.5h1.4M1423.5 670.5h1.4M1432.5 675h1.4M1419.5 668h1.4M1420.5 675h1.4M1423.5 670h1.4M1422 667h1.4M1429 665.5h1.4M1425.5 667.5h1.4M1423.5 664h1.4M1431.5 663h1.4M1419 667.5h1.4M1425.5 666.5h1.4M1417 667h1.4M1420 666.5h1.4M1433.5 661h1.4M1425 671.5h1.4M1423 668h1.4M1431 669.5h1.4M1416.5 667.5h1.4M1427 668h1.4M1422.5 670.5h1.4M1422.5 670h1.4M1428.5 667h1.4M1417 675h1.4M1427.5 666.5h1.4M1418 669h1.4M1426.5 672h1.4M1427 668h1.4M1423 662.5h1.4M1421.5 667.5h1.4M1431 664.5h1.4M1435 674.5h1.4M1422.5 667h1.4M1426.5 671.5h1.4M1429 662h1.4M1423.5 672h1.4M1430 672h1.4M1425 671h1.4M1422.5 677.5h1.4M1430 672h1.4M1422.5 669.5h1.4M1427 670.5h1.4M1433.5 680h1.4M1430.5 665h1.4M1429 668h1.4M1425.5 678.5h1.4M1416.5 663h1.4M1422 673h1.4M1423 660.5h1.4M1427.5 673h1.4M1431.5 671h1.4M1431 667.5h1.4M1430 675.5h1.4M1424 668h1.4M1431.5 667h1.4M1420.5 669.5h1.4M1428.5 674h1.4M1423 672h1.4M1421 664.5h1.4M1438 667.5h1.4M1417.5 670.5h1.4M1421.5 673h1.4M1412.5 663.5h1.4M1430.5 671.5h1.4M1420.5 676h1.4M1430.5 669h1.4M1431 673h1.4M1419 666h1.4M1426 665h1.4M1417 667h1.4M1429 670.5h1.4M1420 658h1.4M1429 669h1.4M1429.5 669.5h1.4M1422.5 670.5h1.4M1421.5 667h1.4M1420.5 659.5h1.4M1430.5 675h1.4M1422 667.5h1.4M1437 673h1.4M1423 664h1.4M1434 676h1.4M1421 672.5h1.4M1420 667.5h1.4M1430.5 669h1.4M1421.5 662.5h1.4M1428 669h1.4M1419 678.5h1.4M1421.5 667h1.4M1427 668.5h1.4M1425.5 671.5h1.4M1422.5 665h1.4M1423.5 674h1.4M1425 676.5h1.4M1425.5 665.5h1.4M1426.5 669h1.4M1422.5 668.5h1.4M1430 674h1.4M1427 671h1.4M1428.5 673.5h1.4M1427.5 667h1.4M1431.5 675.5h1.4M1432 657h1.4M1428 671h1.4M1411 674h1.4M1415.5 666.5h1.4M1426 675h1.4M1424 667h1.4M1416 668h1.4M1428.5 664h1.4M1433 657.5h1.4M1422.5 667.5h1.4M1425.5 671.5h1.4M1431 667.5h1.4M1417 663.5h1.4M1423.5 665.5h1.4M1423.5 668.5h1.4M1425 674h1.4M1427.5 664h1.4M1421.5 667h1.4M1422.5 673h1.4M1430 671.5h1.4M1433 666h1.4M1425.5 675h1.4M1425 667h1.4M1421 674h1.4M1429.5 679h1.4M1435.5 672h1.4M1423 665.5h1.4M1423 678h1.4M1424.5 667h1.4M1424.5 671.5h1.4M1421.5 666h1.4M1422 675.5h1.4M1425 672h1.4M1428.5 661.5h1.4M1427.5 665h1.4M1423.5 661h1.4M1429.5 671h1.4M1420.5 675h1.4M1421 676h1.4M1424.5 680.5h1.4M1419 671.5h1.4M1419 663.5h1.4M1422 668.5h1.4M1419.5 671.5h1.4M1433.5 674h1.4M1421.5 678.5h1.4M1417 677h1.4M1424.5 665.5h1.4M1425.5 669.5h1.4M1431 673h1.4M1423.5 674h1.4M1423.5 665h1.4M1419 664.5h1.4M1426.5 668h1.4M1429 664h1.4M1425.5 671.5h1.4M1424.5 673.5h1.4M1398 660h1.4M1416.5 670.5h1.4M1434 687h1.4M1417.5 669h1.4M1431 668h1.4M1433.5 671h1.4M1423 675h1.4M1439 673h1.4M1417 679.5h1.4M1428 665.5h1.4M1409.5 669h1.4M1418.5 665.5h1.4M1425.5 676h1.4M1435.5 673h1.4M1414 661.5h1.4M1410.5 673.5h1.4M1408 665h1.4M1411 667h1.4M1418.5 668h1.4M1437 677.5h1.4M1419.5 663.5h1.4M1428 669h1.4M1422 663h1.4M1427 673h1.4M1428.5 672h1.4M1425 663.5h1.4M1433 673.5h1.4M1438 670h1.4M1420 677.5h1.4M1419 674h1.4M1422.5 669.5h1.4M1404 672h1.4M1424 661.5h1.4M1433.5 657.5h1.4M1420.5 686h1.4M1431 666.5h1.4M1430 677.5h1.4M1395 669h1.4M1423.5 681h1.4M1424 662h1.4M1419.5 684.5h1.4M1423 683.5h1.4M1431.5 666.5h1.4M1429.5 673h1.4M1428.5 673h1.4M1416.5 677h1.4M1424 669h1.4M1423 667.5h1.4M1423 670h1.4M1411 681.5h1.4M1425.5 669.5h1.4M1409 679h1.4M1427.5 677.5h1.4M1423 676h1.4M1418.5 670.5h1.4M1436.5 686.5h1.4M1424 662h1.4M1426.5 673.5h1.4M1415 664h1.4M1445 673.5h1.4M1418.5 674h1.4M1411 659h1.4M1417.5 676.5h1.4M1432.5 673.5h1.4M1439.5 663h1.4M1413.5 680.5h1.4M1430.5 671h1.4M1427.5 667h1.4M1441 669h1.4M1432 670h1.4M1418 661h1.4M1421 669.5h1.4M1415.5 660h1.4M1412 659h1.4M1435 669.5h1.4M1417 676.5h1.4M1426 675h1.4M1432.5 670.5h1.4M1406 672h1.4M1424 669h1.4M1414.5 674.5h1.4M1424.5 682h1.4M1411 661.5h1.4M1427 674h1.4M1420 678h1.4M1423 678.5h1.4M1421.5 672.5h1.4M1428 664h1.4M1431.5 667h1.4M1430.5 664.5h1.4M1403 669.5h1.4M1408.5 683.5h1.4M1405.5 661h1.4M1432 676h1.4M1417 681.5h1.4M1437.5 665h1.4M1421 672h1.4M1429 670.5h1.4M1428.5 663.5h1.4M1421.5 660.5h1.4M1424 677h1.4M1413.5 676.5h1.4M1421 673.5h1.4M1412.5 673h1.4M1422.5 669.5h1.4M1427 680h1.4M1428 656h1.4M1432 679.5h1.4M1412.5 672.5h1.4M1420 664.5h1.4M1406 659h1.4M1434 672.5h1.4M1440.5 672h1.4M1423 682h1.4M1431 668h1.4M1416.5 668.5h1.4M1428.5 671h1.4M1415.5 651.5h1.4M1428.5 665.5h1.4M1439 667h1.4M1416 673h1.4M1419.5 675.5h1.4M1415.5 667.5h1.4M1423.5 671h1.4M1416 666h1.4M1451.5 672.5h1.4M1420 660.5h1.4M1413.5 677h1.4M1424 682.5h1.4M1418 668.5h1.4M1425.5 677h1.4M1416 678h1.4M1421 671h1.4M1419 677h1.4M1442.5 671.5h1.4M1407 658.5h1.4M1426.5 674.5h1.4M1427 675h1.4M1421.5 678.5h1.4M1429.5 667.5h1.4M1419 677h1.4M1433 669h1.4M1430.5 670.5h1.4M1412 667h1.4M1420 658.5h1.4M1427.5 674h1.4M1435 678.5h1.4M1413.5 670.5h1.4M1438 674.5h1.4M1424.5 670.5h1.4M1433 671h1.4M1425 672h1.4M1418.5 659.5h1.4M1409 676.5h1.4M1440.5 672.5h1.4M1426.5 674.5h1.4M1419.5 675.5h1.4M1431.5 667h1.4M1409.5 675h1.4M1416.5 672.5h1.4M1417 677.5h1.4M1439.5 664h1.4M1431.5 672.5h1.4M1420 663.5h1.4M1421.5 655.5h1.4M1436 674.5h1.4M1424 680h1.4M1425 674h1.4M1430.5 663.5h1.4M1417.5 665h1.4M1423 673h1.4M1437.5 668.5h1.4M1423.5 668h1.4M1433 672h1.4M1432.5 677h1.4M1418 681h1.4M1428.5 677.5h1.4M1418 673h1.4M1420.5 674.5h1.4M1420.5 677h1.4M1413.5 676h1.4M1430.5 666h1.4M1426.5 678.5h1.4M1433 681.5h1.4M1430 672h1.4M1433.5 668h1.4M1422 672h1.4M1430.5 682.5h1.4M1435 676.5h1.4M1431 680.5h1.4M1426.5 673.5h1.4M1430.5 686.5h1.4M1433 672.5h1.4M1434 666.5h1.4M1436 672.5h1.4M1421 675h1.4M1426 673.5h1.4M1410 665.5h1.4M1433 666h1.4M1406 675h1.4M1432.5 684.5h1.4M1434 670.5h1.4M1423 662h1.4M1419 661h1.4M1418.5 661.5h1.4M1418 671h1.4M1419.5 675.5h1.4M1421.5 667.5h1.4M1420 663.5h1.4M1431 668h1.4M1423 667h1.4M1433.5 681.5h1.4M1426 666.5h1.4M1410.5 675h1.4M1434.5 676.5h1.4M1416.5 655.5h1.4M1438 671.5h1.4M1435 679.5h1.4M1427 675.5h1.4M1427.5 664h1.4M1407.5 676h1.4M1427.5 666.5h1.4M1437 655h1.4M1421 666.5h1.4M1412.5 668.5h1.4M1420 681h1.4M1427 674h1.4M1430.5 669.5h1.4" stroke="#000" stroke-opacity="0.8" stroke-width="1.4" fill="none"/><path d="M1427.5 676.5h1.25M1412 690.5h1.25M1401 671.5h1.25M1432 680h1.25M1428.5 664.5h1.25M1443.5 668h1.25M1420 673h1.25M1420.5 668h1.25M1439.5 675h1.25M1433 659.5h1.25M1428 671.5h1.25M1425.5 675.5h1.25M1426 672.5h1.25M1421.5 674.5h1.25M1423.5 674h1.25M1416 676.5h1.25M1410 691h1.25M1431 688h1.25M1419 661h1.25M1402 664.5h1.25M1413 669h1.25M1416 678.5h1.25M1391.5 686h1.25M1416 674h1.25M1398.5 673.5h1.25M1402.5 676h1.25M1424 675h1.25M1418.5 670.5h1.25M1416.5 681h1.25M1421.5 675h1.25M1450 676h1.25M1443 669.5h1.25M1409.5 664.5h1.25M1411.5 672h1.25M1406.5 682h1.25M1428 690h1.25M1404 671h1.25M1428 661.5h1.25M1426 678.5h1.25M1423 673h1.25M1435.5 670.5h1.25M1441 671.5h1.25M1407.5 693.5h1.25M1432 669h1.25M1429.5 677.5h1.25M1426 680.5h1.25M1437 681h1.25M1428.5 672.5h1.25M1423.5 661.5h1.25M1394.5 673h1.25M1404.5 683h1.25M1450.5 680h1.25M1420.5 673.5h1.25M1434.5 664h1.25M1411 658.5h1.25M1416 675.5h1.25M1408 692h1.25M1429 672.5h1.25M1408 675.5h1.25M1421.5 672.5h1.25M1424.5 667h1.25M1414.5 671h1.25M1442 684h1.25M1388 670h1.25M1433.5 662.5h1.25M1434.5 679.5h1.25M1434.5 673.5h1.25M1427.5 675.5h1.25M1453 673.5h1.25M1420.5 680.5h1.25M1417 662h1.25M1434 697.5h1.25M1412 666.5h1.25M1434.5 675.5h1.25M1420.5 667h1.25M1436.5 681.5h1.25M1430.5 669.5h1.25M1403.5 673.5h1.25M1414 671.5h1.25M1419 678.5h1.25M1422 676.5h1.25M1414 676.5h1.25M1426.5 667h1.25M1441.5 670.5h1.25M1419.5 678h1.25M1408 667.5h1.25M1414.5 671.5h1.25M1400.5 668.5h1.25M1411.5 674.5h1.25M1429 670h1.25M1438.5 674h1.25M1433.5 674h1.25M1433 686.5h1.25M1416 674.5h1.25M1441 669.5h1.25M1408 664.5h1.25M1451 686.5h1.25M1415.5 683h1.25M1407 672.5h1.25M1445.5 677h1.25M1408.5 672.5h1.25M1435.5 660.5h1.25M1415 653.5h1.25M1417 676h1.25M1411 682h1.25M1425 659h1.25M1409 663h1.25M1412.5 662h1.25M1435.5 675h1.25M1419.5 676h1.25M1403 660.5h1.25M1416.5 685.5h1.25M1407.5 662h1.25M1433 664h1.25M1435 680h1.25M1413 680h1.25M1417 667.5h1.25M1400.5 656h1.25M1441 682.5h1.25M1417 664h1.25M1421 669h1.25M1442.5 701h1.25M1415 668.5h1.25M1429.5 680.5h1.25M1385.5 662.5h1.25M1427 685h1.25M1406 676h1.25M1426 671.5h1.25M1430 661h1.25M1419.5 677h1.25M1420 655h1.25M1416.5 676.5h1.25M1403.5 667h1.25M1412.5 679.5h1.25M1425.5 676h1.25M1424 688h1.25M1426 677.5h1.25M1412.5 673.5h1.25M1421.5 687.5h1.25M1422 684.5h1.25M1433 679h1.25M1416 663h1.25M1421.5 675h1.25M1418.5 681.5h1.25M1430.5 679h1.25M1416 672.5h1.25M1398.5 676.5h1.25M1448 667.5h1.25M1440 669.5h1.25M1439.5 669h1.25M1417.5 677h1.25M1401.5 672.5h1.25M1419 681h1.25M1423.5 674.5h1.25M1419 690h1.25M1426.5 675h1.25M1395 685h1.25M1421 675.5h1.25M1431 676h1.25M1438 674.5h1.25M1427.5 675.5h1.25M1428.5 676.5h1.25M1426.5 676h1.25M1423.5 679h1.25M1412.5 666h1.25M1421 674h1.25M1436 661h1.25M1438 669.5h1.25M1410.5 675.5h1.25M1424.5 682h1.25M1395.5 681.5h1.25M1426 686.5h1.25M1418 659.5h1.25M1417.5 671h1.25M1429 682h1.25M1396 657h1.25M1422 667h1.25M1432.5 686h1.25M1446.5 676h1.25M1434 680h1.25M1423 670h1.25M1434 681.5h1.25M1420 671.5h1.25M1399.5 674.5h1.25M1422 664h1.25M1437 674.5h1.25M1408 670h1.25M1407 665h1.25M1405.5 673h1.25M1401 665.5h1.25M1421 671h1.25M1422 666.5h1.25M1413 675h1.25M1416 681h1.25M1415 673.5h1.25M1416.5 682h1.25M1409 679h1.25M1434 678.5h1.25M1436.5 666h1.25M1400 665.5h1.25M1415 676h1.25M1413.5 668h1.25M1417.5 687.5h1.25M1413 672h1.25M1424.5 687.5h1.25M1405 656h1.25M1419.5 665.5h1.25M1413 654.5h1.25M1440 661h1.25M1426 678.5h1.25M1430.5 688h1.25M1415 661.5h1.25M1424.5 682h1.25M1419 670.5h1.25M1435 665h1.25M1443.5 661h1.25M1410 671.5h1.25M1410 679h1.25M1412.5 668h1.25M1417 683h1.25M1420 671.5h1.25M1434.5 666.5h1.25M1405 671.5h1.25M1426 664.5h1.25M1418 676h1.25M1418 675.5h1.25M1420 685.5h1.25M1404 687h1.25M1398 674.5h1.25M1429 697.5h1.25M1436 658.5h1.25M1425.5 663h1.25M1433.5 688h1.25M1433 671h1.25M1422 660.5h1.25M1423.5 653.5h1.25M1416.5 668.5h1.25M1406.5 676h1.25M1423 687h1.25M1418 676h1.25M1408 683h1.25M1413.5 666.5h1.25M1404.5 678.5h1.25M1423.5 669.5h1.25M1424.5 682h1.25M1422 678.5h1.25M1418 677.5h1.25M1432.5 676h1.25M1405 676.5h1.25M1446 666h1.25M1410.5 673h1.25M1410.5 665.5h1.25M1397 660h1.25M1420 659.5h1.25M1435 671.5h1.25M1407.5 679.5h1.25M1428 688h1.25M1409 671h1.25M1412 659.5h1.25M1412.5 667h1.25M1418.5 672.5h1.25M1418 673.5h1.25M1416.5 670.5h1.25M1422.5 688.5h1.25M1418 666.5h1.25M1450 679h1.25M1416.5 674h1.25M1398.5 668.5h1.25M1412 668h1.25M1409 671h1.25M1440.5 669h1.25M1424.5 685h1.25M1423 667.5h1.25M1430 682.5h1.25M1412 665h1.25M1404.5 668.5h1.25M1418.5 669h1.25M1416.5 677h1.25M1425 692.5h1.25M1404 660h1.25M1413.5 676h1.25M1438 682h1.25M1433 662.5h1.25M1424 688h1.25M1428.5 668.5h1.25M1386 671h1.25M1425.5 685.5h1.25M1423 661.5h1.25M1432.5 668.5h1.25M1426.5 680.5h1.25M1414.5 682h1.25M1404.5 683.5h1.25M1405 660.5h1.25M1416.5 670.5h1.25M1423 677h1.25M1418 664.5h1.25M1431.5 657h1.25M1431 663h1.25M1420.5 676.5h1.25M1399 672h1.25M1424 670.5h1.25M1432 676.5h1.25M1412 667.5h1.25M1413 658h1.25M1433.5 656h1.25M1433.5 692.5h1.25M1435 679h1.25M1421 668.5h1.25M1418.5 686h1.25M1415 674.5h1.25M1436 678h1.25M1425 677h1.25M1419 684h1.25M1429.5 677.5h1.25M1418.5 679.5h1.25M1420 663h1.25M1426.5 653h1.25M1428.5 671h1.25M1417.5 668h1.25M1437 677h1.25M1413.5 671.5h1.25M1415 686h1.25M1416 669.5h1.25M1421.5 671.5h1.25M1406.5 678.5h1.25M1420.5 678h1.25M1394.5 668h1.25M1423.5 676.5h1.25M1409.5 693.5h1.25M1436 677.5h1.25M1403 654h1.25M1433.5 685h1.25M1397.5 679.5h1.25M1435.5 669h1.25M1416 669.5h1.25M1410.5 690.5h1.25M1414.5 667h1.25M1428 689h1.25M1425 660.5h1.25M1423.5 667.5h1.25M1396 672.5h1.25M1418.5 664h1.25M1402 683h1.25M1417.5 667.5h1.25M1415.5 678h1.25M1412.5 680h1.25M1422 673h1.25M1419 663h1.25M1433.5 674.5h1.25M1413.5 666h1.25M1427 691h1.25M1425.5 663h1.25M1411.5 660.5h1.25M1410.5 668.5h1.25M1414 677h1.25M1417.5 675.5h1.25M1423 666h1.25M1428.5 674h1.25M1426.5 662.5h1.25M1421.5 675.5h1.25M1408 678.5h1.25M1415.5 669.5h1.25M1423 656h1.25M1389.5 664.5h1.25M1421 679.5h1.25M1427.5 691.5h1.25M1425.5 668.5h1.25M1418.5 664.5h1.25M1424 666h1.25M1408 663.5h1.25M1401 661h1.25M1413.5 668h1.25M1414 677.5h1.25M1407.5 671h1.25M1410 672h1.25M1424.5 664h1.25M1407.5 673.5h1.25M1409 672h1.25M1418 673h1.25M1412 672h1.25M1416 675h1.25M1430 677.5h1.25M1419.5 672.5h1.25M1427.5 670.5h1.25M1417 679h1.25M1443 668.5h1.25M1439.5 671h1.25M1421 669h1.25M1415.5 691.5h1.25M1413.5 674h1.25M1409.5 678h1.25M1412 660h1.25M1411.5 672.5h1.25M1405 665h1.25M1392.5 692h1.25M1415.5 673.5h1.25M1409.5 679.5h1.25M1409 685h1.25M1417.5 663h1.25M1417 657h1.25M1426.5 703h1.25M1450 676h1.25M1421 656.5h1.25M1443 674.5h1.25M1422 680h1.25M1430.5 666.5h1.25M1438 671h1.25M1432.5 665.5h1.25M1437 671h1.25M1413 677.5h1.25M1412 670h1.25M1448.5 674.5h1.25M1437.5 665.5h1.25M1431 664h1.25M1426.5 673h1.25M1423.5 683h1.25M1423 675h1.25M1409.5 659h1.25M1438 669h1.25M1428.5 669.5h1.25M1420.5 683h1.25M1425.5 673.5h1.25M1412.5 683h1.25M1430.5 667h1.25M1414 669h1.25M1437.5 667.5h1.25M1418.5 673.5h1.25M1419.5 664h1.25M1421.5 666.5h1.25M1432 665h1.25M1408 671h1.25M1417.5 680.5h1.25M1413 682h1.25M1426 676h1.25M1422.5 668.5h1.25M1447.5 675h1.25M1421 688h1.25M1408.5 692.5h1.25M1427 678h1.25M1416.5 668h1.25M1413 679.5h1.25M1427.5 661.5h1.25M1411 673h1.25M1450.5 686h1.25M1416.5 676h1.25M1415 674.5h1.25M1413.5 676h1.25M1410 664.5h1.25M1448.5 670h1.25M1414.5 683.5h1.25M1444 694.5h1.25M1428 666h1.25M1419.5 666.5h1.25M1423 673h1.25M1414.5 682h1.25M1420 679.5h1.25M1418 666.5h1.25M1417 680.5h1.25M1448 678.5h1.25M1418 670.5h1.25M1429 675h1.25M1426 678.5h1.25M1420 655h1.25M1420.5 671h1.25M1416.5 659h1.25M1414 669h1.25M1415.5 669.5h1.25M1398.5 669h1.25M1419 655.5h1.25M1429 670h1.25M1422 681h1.25M1417.5 666h1.25M1432.5 682.5h1.25M1421 671h1.25M1410 668.5h1.25M1407.5 681.5h1.25M1425 665.5h1.25M1423.5 679h1.25M1427.5 672h1.25M1409 669.5h1.25M1423 664h1.25M1397 662.5h1.25M1430.5 657.5h1.25M1413.5 662.5h1.25M1417.5 683.5h1.25M1433 680.5h1.25M1394.5 674.5h1.25M1432.5 670h1.25M1403 684h1.25M1406.5 677.5h1.25M1428.5 689h1.25M1412 664.5h1.25M1432 674h1.25M1433 660.5h1.25M1430 672.5h1.25M1412.5 673.5h1.25M1420 663.5h1.25M1433.5 677h1.25M1429 689h1.25M1420.5 670h1.25M1405.5 669h1.25M1416 674h1.25M1417.5 676h1.25M1426.5 673h1.25M1430 676h1.25M1410 670h1.25M1416.5 654h1.25M1415 678h1.25M1431.5 679h1.25M1418 676h1.25M1397.5 657.5h1.25M1419.5 666h1.25M1420 660.5h1.25M1421.5 671h1.25M1405.5 676h1.25M1402 679.5h1.25M1401 685h1.25M1410.5 665h1.25M1380 676.5h1.25M1393.5 681h1.25M1387 667.5h1.25M1424.5 687h1.25M1396.5 681h1.25M1395 692h1.25M1415.5 667.5h1.25M1410.5 675.5h1.25M1415.5 678h1.25M1402 680.5h1.25M1399.5 671.5h1.25M1404.5 671h1.25M1419.5 672h1.25M1405.5 668.5h1.25M1380 668h1.25M1413 669h1.25M1431.5 690.5h1.25M1412 683h1.25M1382 681.5h1.25M1403.5 678h1.25M1396 679.5h1.25M1406 682h1.25M1395.5 672.5h1.25M1439 664h1.25M1419 681h1.25M1383 667h1.25M1394.5 668h1.25M1393 659.5h1.25M1395 679h1.25M1405.5 664.5h1.25M1405.5 674h1.25M1419.5 676.5h1.25M1388.5 676h1.25M1369.5 669.5h1.25M1391 688.5h1.25M1387 687h1.25M1391.5 675h1.25M1394 665.5h1.25M1421 655h1.25M1408 682h1.25M1402 670h1.25M1432.5 689.5h1.25M1413.5 680.5h1.25M1388.5 664.5h1.25M1380 677.5h1.25M1402 688h1.25M1393 679.5h1.25M1408 676.5h1.25M1410.5 667.5h1.25M1411.5 671h1.25M1388 675h1.25M1421 696.5h1.25M1423.5 679.5h1.25M1390.5 690h1.25M1388.5 673.5h1.25M1420.5 670.5h1.25M1403 671.5h1.25M1404 670h1.25M1397 677h1.25M1379 671h1.25M1399.5 674h1.25M1409.5 681h1.25M1403.5 669h1.25M1408 671h1.25M1381 681h1.25M1399.5 676h1.25M1422.5 685.5h1.25M1406.5 670.5h1.25M1416 675h1.25M1430 667.5h1.25M1408 675.5h1.25M1397.5 663h1.25M1393.5 661.5h1.25M1407.5 686h1.25M1392 659h1.25M1406.5 672h1.25M1394.5 667h1.25M1415 687.5h1.25M1395.5 681.5h1.25M1395 670.5h1.25M1408.5 669.5h1.25M1389 685.5h1.25M1419.5 694h1.25M1399.5 672h1.25M1411.5 688.5h1.25M1399.5 674.5h1.25M1397 665.5h1.25M1391 666.5h1.25M1415 689.5h1.25M1397.5 673.5h1.25M1391.5 691.5h1.25M1421.5 665h1.25M1396 666.5h1.25M1405.5 664h1.25M1411 674.5h1.25M1414.5 668h1.25M1404 681.5h1.25M1393 671h1.25M1393.5 667.5h1.25M1413 687h1.25M1423.5 670h1.25M1389 668.5h1.25M1376 674.5h1.25M1419 667h1.25M1395 676h1.25M1403.5 668h1.25M1419.5 671.5h1.25M1388.5 676.5h1.25M1372.5 666.5h1.25M1371.5 677h1.25M1398.5 661.5h1.25M1395 671h1.25M1402 674h1.25M1407 670h1.25M1387 661.5h1.25M1404 678h1.25M1394 664.5h1.25M1415.5 668h1.25M1391 669.5h1.25M1407 686h1.25M1415.5 673h1.25M1381.5 690.5h1.25M1398 659.5h1.25M1397.5 668h1.25M1415.5 674h1.25M1386.5 673.5h1.25M1396 689h1.25M1386.5 658.5h1.25M1390 670h1.25M1384.5 682.5h1.25M1406.5 673.5h1.25M1410.5 678.5h1.25M1400 683h1.25M1418.5 689.5h1.25M1421 686h1.25M1388.5 656h1.25M1395.5 671.5h1.25M1430 683h1.25M1373.5 665.5h1.25M1386 670.5h1.25M1417.5 665h1.25M1385.5 672h1.25M1408.5 664h1.25M1387 680h1.25M1391 677.5h1.25M1408.5 692.5h1.25M1404 670.5h1.25M1409.5 683.5h1.25M1385.5 671h1.25M1397.5 677h1.25M1401.5 671h1.25M1387.5 678.5h1.25M1394.5 678.5h1.25M1431.5 676h1.25M1387 661h1.25M1420.5 662.5h1.25M1408 687h1.25M1397 682.5h1.25M1410 675h1.25M1399 674h1.25M1418 673.5h1.25M1416.5 691.5h1.25M1402 664h1.25M1383.5 682.5h1.25M1391 690.5h1.25M1401.5 685.5h1.25M1400.5 670.5h1.25M1414 682.5h1.25M1401.5 687h1.25M1394 661h1.25M1403 672h1.25M1380.5 670.5h1.25M1447.5 675h1.25M1407.5 683.5h1.25M1377 686h1.25M1404 666.5h1.25M1396 657h1.25M1390 675.5h1.25M1411 687.5h1.25M1412 676.5h1.25M1394.5 685h1.25M1403 681.5h1.25M1388.5 667h1.25M1402.5 664.5h1.25M1388.5 678h1.25M1384 689h1.25M1420 680h1.25M1382.5 673h1.25M1418 683h1.25M1382 682.5h1.25M1402.5 690h1.25M1410.5 677h1.25M1418.5 687h1.25M1377.5 656.5h1.25M1386.5 680.5h1.25M1424.5 669.5h1.25M1394.5 688h1.25M1386 665h1.25M1402 671.5h1.25M1394.5 681.5h1.25M1401 681.5h1.25M1400.5 674.5h1.25M1372.5 691.5h1.25M1417.5 673.5h1.25M1391 665.5h1.25M1424.5 670.5h1.25M1395.5 662.5h1.25M1405 683.5h1.25M1407 668.5h1.25M1399.5 689h1.25M1411.5 668h1.25M1399.5 681.5h1.25M1389 671h1.25M1414 682.5h1.25M1383.5 661h1.25M1423 674.5h1.25M1415.5 679h1.25M1379 673.5h1.25M1389 673.5h1.25M1388 667.5h1.25M1401.5 668h1.25M1417.5 663.5h1.25M1392 670.5h1.25M1379.5 658.5h1.25M1390 658h1.25M1407 668.5h1.25M1388.5 677h1.25M1380 674h1.25M1412 676.5h1.25M1422 670h1.25M1398.5 668h1.25M1396 672h1.25M1397.5 665.5h1.25M1401.5 670h1.25M1379.5 672h1.25M1394 668h1.25M1375.5 668.5h1.25M1398 676h1.25M1400.5 673h1.25M1405.5 668.5h1.25M1411.5 677.5h1.25M1385 674h1.25M1372.5 685.5h1.25M1408.5 673.5h1.25M1390.5 689h1.25M1369.5 664.5h1.25M1401.5 679.5h1.25M1393 678h1.25M1399 679h1.25M1394.5 672.5h1.25M1405 684h1.25M1415.5 675.5h1.25M1422.5 694h1.25M1405 686h1.25M1433 685h1.25M1430 694h1.25M1390.5 673h1.25M1416 673h1.25M1432 690h1.25M1415 689.5h1.25M1414.5 683h1.25M1412 687h1.25M1425.5 689.5h1.25M1420.5 672h1.25M1399.5 681.5h1.25M1413 693.5h1.25M1427 683h1.25M1428 678h1.25M1415 688h1.25M1435.5 689h1.25M1407 681.5h1.25M1412 693.5h1.25M1417 673h1.25M1417.5 680.5h1.25M1430.5 682h1.25M1407.5 675h1.25M1395.5 684.5h1.25M1394 691.5h1.25M1421 687h1.25M1403.5 682h1.25M1419.5 683.5h1.25M1415.5 675h1.25M1402.5 673h1.25M1417 683.5h1.25M1425 677h1.25M1412.5 687h1.25M1418 694h1.25M1401.5 680.5h1.25M1421 688.5h1.25M1418.5 684.5h1.25M1405 693h1.25M1417.5 687h1.25M1411.5 681h1.25M1408 691.5h1.25M1410.5 692.5h1.25M1414 675.5h1.25M1423 690.5h1.25M1408.5 686h1.25M1405 683.5h1.25M1397.5 680h1.25M1421 684.5h1.25M1428 694h1.25M1431.5 692.5h1.25M1412 684.5h1.25M1418.5 697.5h1.25M1423.5 679h1.25M1425 695h1.25M1415.5 686.5h1.25M1426 682h1.25M1410.5 690.5h1.25M1407 694.5h1.25M1427 684h1.25M1427.5 688.5h1.25M1411.5 697h1.25M1405 686.5h1.25M1426 694h1.25M1410.5 665h1.25M1418.5 681h1.25M1433.5 694h1.25M1401.5 685h1.25M1404.5 689h1.25M1431 682h1.25M1416 673.5h1.25M1421.5 690h1.25M1420 690h1.25M1419.5 687.5h1.25M1416 691h1.25M1410.5 696h1.25M1416 694h1.25M1423.5 682.5h1.25M1420.5 684.5h1.25M1426.5 688h1.25M1433 686.5h1.25M1400 681.5h1.25M1421 686h1.25M1420.5 686h1.25M1417.5 699h1.25M1392 687h1.25M1396.5 682h1.25M1416.5 705.5h1.25M1421 691h1.25M1423 680h1.25M1416 689h1.25M1406.5 689h1.25M1393 684h1.25M1401.5 680h1.25M1424 689.5h1.25M1420 695h1.25M1434.5 682h1.25M1411.5 686h1.25M1413.5 680h1.25M1402 690h1.25M1441 678h1.25M1411.5 684.5h1.25M1427 685.5h1.25M1413 674.5h1.25M1391.5 685.5h1.25M1397 687h1.25M1430 690.5h1.25M1401.5 683h1.25M1427.5 696.5h1.25M1406 690h1.25M1428 681h1.25M1399.5 688.5h1.25M1420 672.5h1.25M1425 690.5h1.25M1407.5 685h1.25M1406.5 693h1.25M1416 677.5h1.25M1420.5 678.5h1.25M1411.5 695h1.25M1415.5 688.5h1.25M1416.5 675h1.25M1414 697h1.25M1412 697h1.25M1421.5 685h1.25M1424 696.5h1.25M1430.5 685.5h1.25M1415 687.5h1.25M1425.5 682.5h1.25M1429 684h1.25M1414 677.5h1.25M1403.5 694h1.25M1424 681.5h1.25M1420.5 685h1.25M1419 682.5h1.25M1422 693.5h1.25M1426.5 690.5h1.25M1409.5 683h1.25M1406.5 681.5h1.25M1408 687h1.25M1403.5 681.5h1.25M1424.5 695h1.25M1399.5 692.5h1.25M1427.5 684h1.25M1401.5 686h1.25M1414 682.5h1.25M1412 692h1.25M1425 689h1.25M1410 686.5h1.25M1426.5 677h1.25M1419 698.5h1.25" stroke="#000" stroke-opacity="0.62" stroke-width="1.25" fill="none"/><path d="M1373.5 671h1.2M1401 669.5h1.2M1374.5 659h1.2M1404.5 674h1.2M1381.5 665.5h1.2M1377 675.5h1.2M1418 672.5h1.2M1390.5 687h1.2M1389.5 678h1.2M1373.5 666.5h1.2M1415 671.5h1.2M1392 673h1.2M1440 688.5h1.2M1393 685h1.2M1418 666.5h1.2M1406 684.5h1.2M1396 686.5h1.2M1416 678.5h1.2M1389.5 688h1.2M1398.5 682.5h1.2M1429 682.5h1.2M1395 663.5h1.2M1402 682h1.2M1406 684.5h1.2M1408 681h1.2M1398.5 684.5h1.2M1384.5 668h1.2M1379.5 679.5h1.2M1393 681.5h1.2M1379 679h1.2M1397 672.5h1.2M1397.5 676.5h1.2M1377.5 674.5h1.2M1381 699h1.2M1392.5 671.5h1.2M1372 678.5h1.2M1402.5 679h1.2M1373 667h1.2M1378 680.5h1.2M1382 677.5h1.2M1426.5 658h1.2M1392 678h1.2M1371 689.5h1.2M1391.5 682.5h1.2M1406 693.5h1.2M1385 671.5h1.2M1375 665h1.2M1426.5 673.5h1.2M1426 668h1.2M1395.5 663h1.2M1376 665.5h1.2M1396.5 682.5h1.2M1392.5 692h1.2M1385 674.5h1.2M1411 703h1.2M1430.5 688.5h1.2M1398.5 663.5h1.2M1421 677.5h1.2M1435.5 679h1.2M1399 672.5h1.2M1398.5 678.5h1.2M1401 658.5h1.2M1396.5 683h1.2M1375 692.5h1.2M1393.5 655.5h1.2M1423 674h1.2M1397 676h1.2M1429 678.5h1.2M1384 671h1.2M1406 685h1.2M1384.5 688.5h1.2M1384.5 680h1.2M1405.5 681.5h1.2M1400.5 681.5h1.2M1387.5 681h1.2M1402 664.5h1.2M1372 681.5h1.2M1395.5 680h1.2M1409 682.5h1.2M1387 684h1.2M1384 697.5h1.2M1414 678.5h1.2M1385 684h1.2M1393.5 670h1.2M1405 679.5h1.2M1411 676.5h1.2M1429 697.5h1.2M1369 656h1.2M1380 695.5h1.2M1407.5 680h1.2M1401 665h1.2M1399.5 667.5h1.2M1400 674.5h1.2M1387.5 673h1.2M1406.5 699.5h1.2M1389.5 695h1.2M1415 669.5h1.2M1397.5 694h1.2M1424.5 672h1.2M1379 681.5h1.2M1419 688.5h1.2M1402 684.5h1.2M1405.5 679h1.2M1381 686h1.2M1403.5 688h1.2M1395.5 673h1.2M1409 688h1.2M1426.5 664h1.2M1388.5 676h1.2M1432.5 653h1.2M1412 670h1.2M1378.5 687.5h1.2M1380.5 677.5h1.2M1374.5 674.5h1.2M1391.5 689.5h1.2M1406 673.5h1.2M1395 687h1.2M1404.5 670.5h1.2M1413.5 655.5h1.2M1417 664h1.2M1401.5 689h1.2M1401 670.5h1.2M1409.5 673.5h1.2M1398.5 679.5h1.2M1386.5 690.5h1.2M1389.5 698h1.2M1381.5 665.5h1.2M1402.5 669h1.2M1386 669.5h1.2M1393.5 683h1.2M1404 655h1.2M1422 681h1.2M1411.5 682h1.2M1380.5 699.5h1.2M1376.5 683h1.2M1387 684.5h1.2M1395.5 681.5h1.2M1416.5 679h1.2M1393.5 661.5h1.2M1392.5 710.5h1.2M1411 683.5h1.2M1425 702.5h1.2M1439.5 694.5h1.2M1430.5 702h1.2M1430 689.5h1.2M1425 705h1.2M1422.5 708.5h1.2M1423.5 709h1.2M1436.5 702h1.2M1421 694h1.2M1439.5 682.5h1.2M1423 690h1.2M1433 708.5h1.2M1426 703h1.2M1422 696.5h1.2M1418.5 686h1.2M1438.5 698.5h1.2M1430 705.5h1.2M1424 675h1.2M1422 711.5h1.2M1416.5 715.5h1.2M1433 709.5h1.2M1436 703.5h1.2M1426.5 678h1.2M1428.5 686.5h1.2M1418 705.5h1.2M1420.5 688h1.2M1424.5 683.5h1.2M1437.5 693h1.2M1436.5 687.5h1.2M1417 709h1.2M1417.5 710.5h1.2M1439.5 684.5h1.2M1437.5 690.5h1.2M1420.5 698h1.2M1416.5 683h1.2M1424 702.5h1.2M1428 678h1.2M1428.5 702.5h1.2M1435 705h1.2M1430.5 692h1.2M1428 695h1.2M1430 709h1.2M1428 687.5h1.2M1424.5 690h1.2M1420.5 705.5h1.2M1432.5 698h1.2M1420.5 708.5h1.2M1429.5 704h1.2M1439 697h1.2M1415.5 706h1.2M1424 681.5h1.2M1417 693.5h1.2M1434 703h1.2M1422.5 702h1.2M1416.5 712h1.2M1428 702h1.2M1425 702.5h1.2M1445 700.5h1.2M1425.5 697h1.2M1422.5 696.5h1.2M1408 700h1.2M1435.5 696.5h1.2M1429 687.5h1.2M1434.5 702h1.2M1432.5 683.5h1.2M1423.5 671.5h1.2M1418 707.5h1.2M1435 679h1.2M1438.5 684.5h1.2M1423 705h1.2M1424.5 694.5h1.2M1424.5 706h1.2M1428.5 703.5h1.2M1423.5 691.5h1.2M1440.5 703.5h1.2M1432.5 695.5h1.2M1426 694.5h1.2M1428 703h1.2M1421 689h1.2M1432.5 686h1.2M1428 679.5h1.2M1422.5 694.5h1.2M1435.5 713h1.2M1432 686h1.2M1441 693h1.2M1423 701h1.2M1411.5 706.5h1.2M1428 697h1.2M1436 698h1.2M1441 688h1.2M1431.5 716.5h1.2M1424.5 723h1.2M1431.5 719.5h1.2M1416 721.5h1.2M1426 700h1.2M1434 719h1.2M1430.5 712h1.2M1442.5 718.5h1.2M1436 712h1.2M1442.5 723h1.2M1420.5 711.5h1.2M1437.5 725.5h1.2M1434.5 704.5h1.2M1433 727.5h1.2M1423 723h1.2M1446.5 718.5h1.2M1440 720h1.2M1415.5 716h1.2M1444 707h1.2M1431.5 723h1.2M1431.5 708.5h1.2M1431.5 709h1.2M1420.5 728h1.2M1424.5 728.5h1.2M1422 729h1.2M1437.5 724.5h1.2M1421 712.5h1.2M1436 714h1.2M1441 716h1.2M1423.5 728.5h1.2M1423.5 731h1.2M1445 723h1.2M1429.5 721h1.2M1436 724.5h1.2M1429 729h1.2M1443.5 714h1.2M1433.5 718h1.2M1440 726h1.2M1428.5 724h1.2M1435.5 724.5h1.2M1434.5 719.5h1.2M1433 707h1.2M1445 696.5h1.2M1433.5 717h1.2M1429.5 702.5h1.2M1429 721.5h1.2M1431 706h1.2M1431 703h1.2M1430 717h1.2M1446.5 711h1.2M1506 633h1.2M1480.5 644h1.2M1494 629.5h1.2M1479 621.5h1.2M1468 647h1.2M1504 642h1.2M1498.5 630h1.2M1488.5 641h1.2M1481 641.5h1.2M1481.5 639h1.2M1482 634h1.2M1489.5 643.5h1.2M1501 633h1.2M1502 645.5h1.2M1484.5 634.5h1.2M1501 635h1.2M1483.5 633h1.2M1497.5 630h1.2M1472.5 628.5h1.2M1487.5 631h1.2M1484.5 644.5h1.2M1467.5 635.5h1.2M1496 637h1.2M1518 635h1.2M1502.5 645h1.2M1455 642h1.2M1472 627.5h1.2M1516.5 643h1.2M1488 637.5h1.2M1498 632h1.2M1489.5 635h1.2M1475.5 639.5h1.2M1464.5 641h1.2M1483 650h1.2M1512 649.5h1.2M1486 645.5h1.2M1511.5 631h1.2M1495 633.5h1.2M1495 635.5h1.2M1478.5 626h1.2M1493.5 625.5h1.2M1456 625.5h1.2M1496.5 650h1.2M1494.5 632h1.2M1475.5 638.5h1.2M1508.5 645.5h1.2M1506.5 627h1.2M1514.5 637h1.2M1512.5 630.5h1.2M1525.5 627.5h1.2M1484 626h1.2M1482.5 647h1.2M1486.5 641h1.2M1485 641h1.2M1499.5 636.5h1.2M1489.5 640.5h1.2M1515.5 636.5h1.2M1497 630.5h1.2M1484 623.5h1.2M1510 636.5h1.2M1483 634h1.2M1513 628h1.2M1473 635h1.2M1493.5 634h1.2M1504 630h1.2M1487 641h1.2M1484.5 635.5h1.2M1498 630h1.2M1520.5 625h1.2M1493 633h1.2M1491.5 645h1.2M1510.5 632h1.2M1473.5 646h1.2M1471.5 639h1.2M1455.5 642h1.2M1485.5 634h1.2M1481.5 631.5h1.2M1499.5 642h1.2M1487.5 652h1.2M1494.5 644h1.2M1491 661h1.2M1471 660.5h1.2M1471 659.5h1.2M1472.5 663h1.2M1497 655.5h1.2M1504.5 659.5h1.2M1486.5 667.5h1.2M1463.5 658h1.2M1485 667h1.2M1460.5 668.5h1.2M1460 671.5h1.2M1485 662.5h1.2M1461 675h1.2M1492 646.5h1.2M1475 669.5h1.2M1468 657.5h1.2M1485 655.5h1.2M1494 667h1.2M1480 665.5h1.2M1492 661h1.2M1468.5 672.5h1.2M1465.5 670.5h1.2M1474.5 662.5h1.2M1486 654h1.2M1486.5 655h1.2M1456 667.5h1.2M1474.5 661.5h1.2M1485.5 659.5h1.2M1476 676h1.2M1473 667h1.2M1494 655.5h1.2M1492 661.5h1.2M1474 669.5h1.2M1478.5 660h1.2M1502.5 664h1.2M1467 664.5h1.2M1495 654h1.2M1487 657.5h1.2M1476 670h1.2M1463 670h1.2M1485.5 670h1.2M1500 655h1.2M1495 660h1.2M1477 663.5h1.2M1503 657.5h1.2M1465.5 665.5h1.2M1471.5 661.5h1.2M1466.5 664.5h1.2M1471.5 672h1.2M1496.5 662.5h1.2M1481 668.5h1.2M1492.5 669h1.2M1463.5 670.5h1.2M1462.5 668h1.2M1473.5 669.5h1.2M1482.5 653.5h1.2M1484 665.5h1.2M1466 676.5h1.2M1476.5 669h1.2M1466 671h1.2M1472 662.5h1.2M1450 682.5h1.2M1480.5 659.5h1.2M1472.5 666h1.2M1490 660.5h1.2M1488 660h1.2M1482 669h1.2M1474.5 670.5h1.2M1469.5 670.5h1.2M1494 666h1.2M1476.5 661h1.2M1482.5 664.5h1.2M1486.5 669h1.2M1458 660h1.2M1483.5 660h1.2M1479.5 668h1.2M1483 664h1.2M1448.5 668.5h1.2M1483 663h1.2M1480 669.5h1.2M1484 661h1.2M1455.5 675h1.2M1481.5 660h1.2M1460.5 668h1.2M1498.5 667.5h1.2M1474.5 660.5h1.2M1477 667h1.2M1487 660h1.2M1463 663.5h1.2M1461.5 662.5h1.2M1477 673.5h1.2M1485 672h1.2M1480.5 657h1.2M1477.5 655.5h1.2M1489 662h1.2M1485 671.5h1.2M1484.5 659h1.2M1487.5 660h1.2M1457 675h1.2M1474.5 677h1.2M1490.5 662.5h1.2M1490 654h1.2M1491 666h1.2M1477 664.5h1.2M1482.5 662.5h1.2M1484.5 671.5h1.2M1461.5 677.5h1.2M1468.5 691.5h1.2M1473 679.5h1.2M1452 688.5h1.2M1486.5 674h1.2M1485.5 672.5h1.2M1442 697.5h1.2M1487.5 679.5h1.2M1473 681h1.2M1480.5 681h1.2M1474 666h1.2M1459.5 679h1.2M1464.5 692h1.2M1461 693h1.2M1465 680h1.2M1473.5 678.5h1.2M1469.5 680.5h1.2M1498.5 673.5h1.2M1462.5 691h1.2M1468.5 678.5h1.2M1449 677.5h1.2M1465.5 683h1.2M1482 691.5h1.2M1474 692.5h1.2M1455 675h1.2M1459 676.5h1.2M1474 667.5h1.2M1468.5 685h1.2M1454.5 680.5h1.2M1463 677.5h1.2M1484 676h1.2M1461.5 686.5h1.2M1472 687h1.2M1463 675.5h1.2M1472 674h1.2M1485 658.5h1.2M1457.5 672.5h1.2M1464.5 692h1.2M1459 690.5h1.2M1445.5 639h1.2M1449.5 638h1.2M1439.5 645.5h1.2M1434 642.5h1.2M1448 637.5h1.2M1432 640h1.2M1438.5 642h1.2M1431.5 646h1.2" stroke="#000" stroke-opacity="0.5" stroke-width="1.2" fill="none"/><path d="M1449.5 522.5V733.4M1367.1 649.9H1593.8" stroke="#d8213c" stroke-width="2" fill="none"/><path d="M1367.1 522.5H1593.8V733.4H1367.1Z" fill="none" stroke="#2239a0" stroke-width="2.2"/><path d="M1367.1 733.4v8.8M1378.1 733.4v8M1384.5 733.4v8M1389.1 733.4v8M1392.7 733.4v8M1395.6 733.4v8M1398 733.4v8M1400.1 733.4v8M1402 733.4v8M1403.7 733.4v8.8M1414.7 733.4v8M1421.1 733.4v8M1425.7 733.4v8M1429.2 733.4v8M1432.1 733.4v8M1434.6 733.4v8M1436.7 733.4v8M1438.6 733.4v8M1440.2 733.4v8.8M1451.2 733.4v8M1457.7 733.4v8M1462.2 733.4v8M1465.8 733.4v8M1468.7 733.4v8M1471.1 733.4v8M1473.3 733.4v8M1475.1 733.4v8M1476.8 733.4v8.8M1487.8 733.4v8M1494.2 733.4v8M1498.8 733.4v8M1502.4 733.4v8M1505.2 733.4v8M1507.7 733.4v8M1509.8 733.4v8M1511.7 733.4v8M1513.4 733.4v8.8M1524.4 733.4v8M1530.8 733.4v8M1535.4 733.4v8M1538.9 733.4v8M1541.8 733.4v8M1544.3 733.4v8M1546.4 733.4v8M1548.2 733.4v8M1549.9 733.4v8.8M1560.9 733.4v8M1567.4 733.4v8M1571.9 733.4v8M1575.5 733.4v8M1578.4 733.4v8M1580.8 733.4v8M1582.9 733.4v8M1584.8 733.4v8M1586.5 733.4v8.8M1593.8 733.4v8.8M1367.1 733.4h-9.2M1367.1 723.2h-8.6M1367.1 717.2h-8.6M1367.1 712.9h-8.6M1367.1 709.6h-8.6M1367.1 706.9h-8.6M1367.1 704.7h-8.6M1367.1 702.7h-8.6M1367.1 700.9h-8.6M1367.1 699.4h-9.2M1367.1 689.1h-8.6M1367.1 683.2h-8.6M1367.1 678.9h-8.6M1367.1 675.6h-8.6M1367.1 672.9h-8.6M1367.1 670.6h-8.6M1367.1 668.7h-8.6M1367.1 666.9h-8.6M1367.1 665.4h-9.2M1367.1 655.1h-8.6M1367.1 649.1h-8.6M1367.1 644.9h-8.6M1367.1 641.6h-8.6M1367.1 638.9h-8.6M1367.1 636.6h-8.6M1367.1 634.6h-8.6M1367.1 632.9h-8.6M1367.1 631.4h-9.2M1367.1 621.1h-8.6M1367.1 615.1h-8.6M1367.1 610.9h-8.6M1367.1 607.6h-8.6M1367.1 604.9h-8.6M1367.1 602.6h-8.6M1367.1 600.6h-8.6M1367.1 598.9h-8.6M1367.1 597.3h-9.2M1367.1 587.1h-8.6M1367.1 581.1h-8.6M1367.1 576.9h-8.6M1367.1 573.6h-8.6M1367.1 570.9h-8.6M1367.1 568.6h-8.6M1367.1 566.6h-8.6M1367.1 564.9h-8.6M1367.1 563.3h-9.2M1367.1 553.1h-8.6M1367.1 547.1h-8.6M1367.1 542.8h-8.6M1367.1 539.5h-8.6M1367.1 536.8h-8.6M1367.1 534.6h-8.6M1367.1 532.6h-8.6M1367.1 530.9h-8.6M1367.1 529.3h-9.2M1367.1 522.5h-9.2" fill="none" stroke="#2239a0" stroke-width="2.05"/><g fill="#2239a0" stroke="#2239a0" stroke-width="0.25"><text transform="translate(1356.2 758.4) scale(1.28 1)" font-size="7" font-weight="bold">10</text><text x="1365.7" y="755.6" font-size="14.2">1</text><text transform="translate(1392.8 758.4) scale(1.28 1)" font-size="7" font-weight="bold">10</text><text x="1402.3" y="755.6" font-size="14.2">2</text><text transform="translate(1429.3 758.4) scale(1.28 1)" font-size="7" font-weight="bold">10</text><text x="1438.8" y="755.6" font-size="14.2">3</text><text transform="translate(1465.9 758.4) scale(1.28 1)" font-size="7" font-weight="bold">10</text><text x="1475.4" y="755.6" font-size="14.2">4</text><text transform="translate(1502.5 758.4) scale(1.28 1)" font-size="7" font-weight="bold">10</text><text x="1512" y="755.6" font-size="14.2">5</text><text transform="translate(1539 758.4) scale(1.28 1)" font-size="7" font-weight="bold">10</text><text x="1548.5" y="755.6" font-size="14.2">6</text><text transform="translate(1577.5 758.4) scale(1.28 1)" font-size="7" font-weight="bold">10</text><text x="1587" y="755.6" font-size="14.2">7.2</text></g><g fill="#2239a0" stroke="#2239a0" stroke-width="0.25"><text transform="translate(1350.9 742.7) rotate(-90) scale(1.08 1)" font-size="7.6" font-weight="bold">10</text><text transform="translate(1348 733) rotate(-90) scale(0.9 1)" font-size="14.8">1</text><text transform="translate(1350.9 708.7) rotate(-90) scale(1.08 1)" font-size="7.6" font-weight="bold">10</text><text transform="translate(1348 699) rotate(-90) scale(0.9 1)" font-size="14.8">2</text><text transform="translate(1350.9 674.7) rotate(-90) scale(1.08 1)" font-size="7.6" font-weight="bold">10</text><text transform="translate(1348 665) rotate(-90) scale(0.9 1)" font-size="14.8">3</text><text transform="translate(1350.9 640.7) rotate(-90) scale(1.08 1)" font-size="7.6" font-weight="bold">10</text><text transform="translate(1348 631) rotate(-90) scale(0.9 1)" font-size="14.8">4</text><text transform="translate(1350.9 606.6) rotate(-90) scale(1.08 1)" font-size="7.6" font-weight="bold">10</text><text transform="translate(1348 596.9) rotate(-90) scale(0.9 1)" font-size="14.8">5</text><text transform="translate(1350.9 572.6) rotate(-90) scale(1.08 1)" font-size="7.6" font-weight="bold">10</text><text transform="translate(1348 562.9) rotate(-90) scale(0.9 1)" font-size="14.8">6</text><text transform="translate(1350.9 536) rotate(-90) scale(1.08 1)" font-size="7.6" font-weight="bold">10</text><text transform="translate(1348 526.3) rotate(-90) scale(0.9 1)" font-size="14.8">7.2</text></g><text x="1367.2" y="519.5" font-size="18.2" fill="#1d1d1d">Gate: (P1 in all)</text><text transform="translate(1331.6 656) rotate(-90)" text-anchor="middle" font-size="13.8" letter-spacing="0.9" fill="#1d1d1d" stroke="#1d1d1d" stroke-width="0.3">PI-A</text><text x="1480.7" y="774.4" text-anchor="middle" font-size="13.5" letter-spacing="0.95" fill="#1d1d1d" stroke="#1d1d1d" stroke-width="0.3">FITC-A</text><text font-size="18.1" fill="#d8213c"><tspan x="1368.2" y="539.6">Q1-UL</tspan><tspan x="1368.2" y="555.6">0.3%</tspan></text><text font-size="18.1" fill="#d8213c"><tspan x="1537.6" y="539.6">Q1-UR</tspan><tspan x="1537.6" y="555.6">2.4%</tspan></text><text font-size="18.1" fill="#d8213c"><tspan x="1368.2" y="716.2">Q1-LL</tspan><tspan x="1368.2" y="732.4">91.4%</tspan></text><text font-size="18.1" fill="#d8213c"><tspan x="1541" y="716.2">Q1-LR</tspan><tspan x="1541" y="732.4">5.8%</tspan></text></g>
<text x="1470.5" y="822.6" text-anchor="middle" font-size="26.5" fill="#000">model</text>
<clipPath id="k6"><rect x="959.5" y="859.2" width="290.3" height="275"/></clipPath><g clip-path="url(#k6)"><rect x="959.5" y="859.2" width="290.3" height="275" fill="#ecf1f4"/><path d="M960 1134.2V859.7H1249.8" fill="none" stroke="#d9dcde" stroke-width="1"/><rect x="1006.7" y="877" width="229.2" height="214.8" fill="#fff"/><path d="M1063.5 1028h1.4M1071.5 1035h1.4M1059 1022.5h1.4M1061.5 1024h1.4M1065 1020h1.4M1067.5 1020h1.4M1069 1022.5h1.4M1067.5 1028h1.4M1065.5 1023.5h1.4M1062 1020.5h1.4M1074 1029.5h1.4M1076 1028.5h1.4M1068 1023.5h1.4M1065 1019h1.4M1071.5 1031h1.4M1074 1033.5h1.4M1061 1014h1.4M1070 1027.5h1.4M1061 1021.5h1.4M1070.5 1034.5h1.4M1068.5 1023h1.4M1070.5 1031.5h1.4M1060 1029h1.4M1061 1025.5h1.4M1068.5 1026.5h1.4M1058 1027h1.4M1058.5 1028.5h1.4M1056 1023h1.4M1063.5 1022.5h1.4M1067 1027.5h1.4M1075.5 1029h1.4M1072 1021.5h1.4M1071.5 1030.5h1.4M1073.5 1033h1.4M1061.5 1019.5h1.4M1062 1023h1.4M1073.5 1017.5h1.4M1066.5 1030.5h1.4M1065 1019.5h1.4M1061.5 1028h1.4M1070 1025.5h1.4M1068 1032.5h1.4M1064 1035h1.4M1061 1034.5h1.4M1058.5 1031.5h1.4M1066 1019h1.4M1066.5 1028.5h1.4M1069 1027h1.4M1065 1024.5h1.4M1066.5 1031.5h1.4M1068.5 1029.5h1.4M1067 1032.5h1.4M1078.5 1037.5h1.4M1059.5 1021.5h1.4M1060.5 1024h1.4M1076.5 1025h1.4M1066.5 1025h1.4M1056 1019.5h1.4M1062 1021.5h1.4M1064 1023.5h1.4M1065 1018.5h1.4M1071.5 1028.5h1.4M1062 1023.5h1.4M1061.5 1016.5h1.4M1069.5 1024h1.4M1071.5 1033.5h1.4M1059 1020h1.4M1069 1023.5h1.4M1062.5 1023.5h1.4M1068.5 1020h1.4M1066.5 1031h1.4M1063 1024h1.4M1068.5 1030.5h1.4M1071.5 1028.5h1.4M1074.5 1024h1.4M1075 1029.5h1.4M1064.5 1019h1.4M1074.5 1028h1.4M1069 1033.5h1.4M1064 1029.5h1.4M1070.5 1034h1.4M1068 1035h1.4M1063 1025.5h1.4M1062.5 1021h1.4M1075 1028h1.4M1066 1027h1.4M1067 1019h1.4M1063.5 1027.5h1.4M1059.5 1024.5h1.4M1064 1021h1.4M1058.5 1022.5h1.4M1067 1028.5h1.4M1057.5 1026h1.4M1069 1018h1.4M1058.5 1028h1.4M1070 1029h1.4M1074.5 1030h1.4M1073.5 1026.5h1.4M1066 1022h1.4M1066.5 1024.5h1.4M1063 1028.5h1.4M1068 1024h1.4M1067 1027.5h1.4M1068.5 1023h1.4M1069.5 1024h1.4M1067.5 1023.5h1.4M1077 1020h1.4M1071.5 1022h1.4M1075 1021h1.4M1070 1025.5h1.4M1071 1020.5h1.4M1064.5 1028h1.4M1070.5 1023.5h1.4M1056 1023.5h1.4M1062 1026h1.4M1063.5 1021h1.4M1065 1032.5h1.4M1069 1024.5h1.4M1069 1019.5h1.4M1063 1025.5h1.4M1064 1023h1.4M1066 1034.5h1.4M1065.5 1028h1.4M1075 1015h1.4M1064.5 1030h1.4M1058 1023.5h1.4M1073 1027h1.4M1067 1036h1.4M1055.5 1030.5h1.4M1059 1027.5h1.4M1069.5 1027h1.4M1064.5 1030h1.4M1068.5 1030.5h1.4M1071.5 1029.5h1.4M1075.5 1025h1.4M1056 1016.5h1.4M1065 1020h1.4M1064 1026.5h1.4M1074.5 1021h1.4M1068.5 1020h1.4M1071 1016h1.4M1074.5 1025.5h1.4M1078 1028h1.4M1061 1023.5h1.4M1062.5 1027h1.4M1073 1028h1.4M1064.5 1024.5h1.4M1075.5 1022.5h1.4M1070 1022.5h1.4M1062 1029h1.4M1057.5 1033h1.4M1075.5 1022.5h1.4M1060 1025h1.4M1064.5 1022.5h1.4M1072 1038h1.4M1065.5 1029.5h1.4M1064 1026h1.4M1063 1025.5h1.4M1067 1024.5h1.4M1067.5 1023h1.4M1068 1018.5h1.4M1069 1025.5h1.4M1069 1026h1.4M1065.5 1026.5h1.4M1064 1026h1.4M1055 1021.5h1.4M1067.5 1020h1.4M1078.5 1034h1.4M1058 1033.5h1.4M1068.5 1029h1.4M1074 1024.5h1.4M1068 1030.5h1.4M1062.5 1025h1.4M1066.5 1028h1.4M1061 1025.5h1.4M1062.5 1030h1.4M1063 1029.5h1.4M1066 1023.5h1.4M1070.5 1029h1.4M1064.5 1030.5h1.4M1073.5 1018.5h1.4M1070.5 1017.5h1.4M1066.5 1030h1.4M1069 1028.5h1.4M1066 1029h1.4M1060 1034.5h1.4M1055.5 1024h1.4M1058 1024h1.4M1063 1020.5h1.4M1072 1024h1.4M1062.5 1025.5h1.4M1070.5 1029h1.4M1064 1027h1.4M1067 1026h1.4M1062.5 1027h1.4M1058 1030h1.4M1071 1025.5h1.4M1063.5 1017h1.4M1064.5 1030h1.4M1057.5 1028.5h1.4M1062.5 1034.5h1.4M1069 1032.5h1.4M1065 1025h1.4M1061.5 1033h1.4M1064.5 1026.5h1.4M1060 1026.5h1.4M1061 1026.5h1.4M1073 1024h1.4M1061 1027h1.4M1066.5 1023h1.4M1057.5 1026h1.4M1068.5 1027.5h1.4M1073 1028.5h1.4M1068.5 1020h1.4M1065 1025h1.4M1062.5 1029.5h1.4M1064 1028.5h1.4M1063.5 1028h1.4M1072 1029h1.4M1071.5 1027h1.4M1058.5 1030h1.4M1064.5 1021h1.4M1074 1027h1.4M1065 1019.5h1.4M1072 1026h1.4M1061 1029h1.4M1071.5 1030h1.4M1071 1031h1.4M1060 1021h1.4M1069 1032.5h1.4M1079.5 1022.5h1.4M1066.5 1023.5h1.4M1066.5 1023.5h1.4M1067.5 1026h1.4M1071 1027h1.4M1077 1032h1.4M1069.5 1025h1.4M1069 1023.5h1.4M1067 1024h1.4M1071 1024.5h1.4M1066.5 1031h1.4M1067.5 1026h1.4M1059.5 1026.5h1.4M1072 1026.5h1.4M1064 1028.5h1.4M1077 1028.5h1.4M1065 1022.5h1.4M1066.5 1019.5h1.4M1062.5 1022h1.4M1074 1019.5h1.4M1066 1023h1.4M1059 1027.5h1.4M1071.5 1025h1.4M1064 1026h1.4M1069.5 1027.5h1.4M1064.5 1023h1.4M1066 1019.5h1.4M1064.5 1031h1.4M1066.5 1025h1.4M1060 1020.5h1.4M1070.5 1025.5h1.4M1060 1019.5h1.4M1063 1033h1.4M1066 1015h1.4M1064 1027h1.4M1058.5 1024.5h1.4M1073 1023h1.4M1056.5 1022.5h1.4M1070 1021.5h1.4M1066 1026.5h1.4M1065.5 1025.5h1.4M1057 1036h1.4M1065.5 1032.5h1.4M1065.5 1022h1.4M1057.5 1020h1.4M1065.5 1022h1.4M1073.5 1026.5h1.4M1066.5 1034h1.4M1068 1017.5h1.4M1070.5 1019.5h1.4M1059.5 1030h1.4M1067 1018h1.4M1069 1039h1.4M1056.5 1021h1.4M1057.5 1024.5h1.4M1062.5 1023.5h1.4M1056.5 1025.5h1.4M1064 1035.5h1.4M1065 1018.5h1.4M1058.5 1024h1.4M1062.5 1022.5h1.4M1072.5 1026.5h1.4M1063.5 1020.5h1.4M1061 1029h1.4M1071.5 1030.5h1.4M1068.5 1027h1.4M1077 1032h1.4M1072 1023h1.4M1069 1025h1.4M1063 1021.5h1.4M1072.5 1033h1.4M1069.5 1031h1.4M1068 1031h1.4M1072 1023h1.4M1059.5 1025.5h1.4M1066.5 1029.5h1.4M1060.5 1018.5h1.4M1063.5 1018.5h1.4M1064 1033.5h1.4M1051 1037h1.4M1059.5 1015h1.4M1052 1012h1.4M1064 1027h1.4M1066 1028h1.4M1068.5 1024.5h1.4M1053 1028h1.4M1065 1032h1.4M1068 1024.5h1.4M1068.5 1021h1.4M1061 1021h1.4M1058 1017.5h1.4M1057.5 1029h1.4M1051.5 1030.5h1.4M1070 1027.5h1.4M1056 1034.5h1.4M1058 1026.5h1.4M1072 1022h1.4M1070.5 1023.5h1.4M1074.5 1025h1.4M1061 1030h1.4M1065.5 1023.5h1.4M1071 1017h1.4M1073 1035.5h1.4M1063 1024h1.4M1065 1011.5h1.4M1058.5 1033.5h1.4M1058.5 1029h1.4M1070.5 1035.5h1.4M1068.5 1026.5h1.4M1074.5 1029h1.4M1062.5 1040h1.4M1063.5 1028.5h1.4M1061 1033h1.4M1056 1029h1.4M1059 1043h1.4M1070 1028h1.4M1066.5 1023.5h1.4M1066 1033.5h1.4M1053.5 1017.5h1.4M1065 1023h1.4M1069 1025.5h1.4M1070 1015.5h1.4M1070 1031.5h1.4M1066 1034h1.4M1067 1016h1.4M1064 1025.5h1.4M1059.5 1041h1.4M1063 1016h1.4M1066.5 1030.5h1.4M1052.5 1026.5h1.4M1076.5 1037h1.4M1046.5 1019h1.4M1071 1024h1.4M1061.5 1039h1.4M1052.5 1026.5h1.4M1059.5 1009h1.4M1054.5 1025.5h1.4M1066 1025h1.4M1058.5 1028.5h1.4M1052 1018.5h1.4M1059 1028.5h1.4M1077 1037.5h1.4M1047 1018h1.4M1063 1032h1.4M1069 1035.5h1.4M1048.5 1021h1.4M1057.5 1023.5h1.4M1076 1034.5h1.4M1071 1025.5h1.4M1060 1034h1.4M1054 1034h1.4M1054.5 1027h1.4M1059.5 1030h1.4M1082 1021h1.4M1066 1033h1.4M1062.5 1021h1.4M1054 1029h1.4M1063 1033.5h1.4M1060 1011.5h1.4M1080 1033.5h1.4M1074.5 1032.5h1.4M1074 1030.5h1.4M1066 1039h1.4M1074 1029h1.4M1074 1026h1.4M1052.5 1029.5h1.4M1067.5 1018h1.4M1059 1029h1.4M1066 1019.5h1.4M1071.5 1026h1.4M1060.5 1033.5h1.4M1078.5 1027.5h1.4M1060.5 1036.5h1.4M1065.5 1025h1.4M1064 1019.5h1.4M1074.5 1020.5h1.4M1061.5 1029h1.4M1057 1030h1.4M1067.5 1036.5h1.4M1070 1022h1.4M1072 1033h1.4M1062.5 1028.5h1.4M1071 1031h1.4M1068.5 1028h1.4M1074 1025h1.4M1065 1029h1.4M1062.5 1032.5h1.4M1069 1026h1.4M1073 1024h1.4M1067.5 1019.5h1.4M1085 1024.5h1.4M1058.5 1022.5h1.4M1062.5 1030.5h1.4M1065.5 1036h1.4M1055 1030.5h1.4M1077 1025h1.4M1077 1023.5h1.4M1064 1029h1.4M1062.5 1023.5h1.4M1062 1024.5h1.4M1055 1022.5h1.4M1049 1029h1.4M1062 1022.5h1.4M1055 1026.5h1.4M1059.5 1029.5h1.4M1066 1036h1.4M1072.5 1030h1.4M1054.5 1026.5h1.4M1058.5 1015.5h1.4M1059 1025.5h1.4M1073 1041h1.4M1054.5 1028h1.4M1066.5 1036h1.4M1056 1032h1.4M1046.5 1021h1.4M1067 1013h1.4M1066.5 1025h1.4M1059 1023h1.4M1058.5 1033h1.4M1053 1025h1.4M1060 1028h1.4M1066.5 1027h1.4M1088 1022.5h1.4M1061 1023h1.4M1061.5 1021.5h1.4M1053.5 1036h1.4M1063.5 1025.5h1.4M1072 1025.5h1.4M1061.5 1033h1.4M1066.5 1033.5h1.4M1076.5 1013h1.4M1070.5 1020h1.4M1055.5 1029.5h1.4M1068 1031.5h1.4M1078 1031.5h1.4M1068 1030h1.4M1050 1031h1.4M1076.5 1033h1.4M1061.5 1033h1.4M1040 1031h1.4M1070.5 1027.5h1.4M1058 1023h1.4M1056.5 1037h1.4M1057.5 1020h1.4M1061 1032.5h1.4M1048.5 1028h1.4M1063 1035.5h1.4M1065 1025h1.4M1066 1038h1.4M1082.5 1035h1.4M1053 1030h1.4M1071 1032h1.4M1049.5 1028h1.4M1060 1024.5h1.4M1070 1030h1.4M1060.5 1025h1.4M1068.5 1032.5h1.4M1065 1036h1.4M1065 1031.5h1.4M1064 1018h1.4M1063.5 1023.5h1.4M1058 1022h1.4M1058 1027.5h1.4M1070.5 1016.5h1.4M1056 1028h1.4M1064 1034.5h1.4M1061 1033.5h1.4M1051 1018h1.4M1066 1025.5h1.4M1065.5 1021h1.4M1071 1032.5h1.4M1070 1023h1.4M1060.5 1034.5h1.4M1046.5 1020h1.4M1084 1018.5h1.4M1076.5 1032.5h1.4M1052.5 1027h1.4M1068 1022.5h1.4M1070.5 1027.5h1.4M1083 1025h1.4M1059.5 1027.5h1.4M1063.5 1021.5h1.4M1071.5 1022h1.4M1063 1029h1.4M1063 1033h1.4M1060 1037h1.4M1071 1020h1.4M1052 1029h1.4M1073.5 1030h1.4M1052.5 1024h1.4M1062 1040h1.4M1058.5 1032.5h1.4M1071.5 1033h1.4M1074.5 1028h1.4M1069.5 1043h1.4M1058 1028h1.4M1061.5 1024h1.4M1055 1025.5h1.4M1077 1024.5h1.4M1079.5 1013.5h1.4" stroke="#000" stroke-opacity="0.8" stroke-width="1.4" fill="none"/><path d="M1059.5 1027.5h1.25M1059.5 1035h1.25M1059.5 1015.5h1.25M1065 1027h1.25M1058.5 1030h1.25M1064 1039.5h1.25M1069 1030.5h1.25M1052 1019h1.25M1064 1041h1.25M1061.5 1028h1.25M1067.5 1016.5h1.25M1057.5 1033h1.25M1071.5 1027.5h1.25M1065.5 1031.5h1.25M1070.5 1019.5h1.25M1068 1016h1.25M1029.5 1021h1.25M1050 1036h1.25M1069 1018.5h1.25M1071 1021h1.25M1060 1026.5h1.25M1062.5 1036.5h1.25M1068.5 1032.5h1.25M1069 1034h1.25M1053.5 1022h1.25M1055.5 1033h1.25M1058 1049.5h1.25M1051 1018.5h1.25M1070 1042.5h1.25M1067 1037h1.25M1078 1029.5h1.25M1044 1023h1.25M1072.5 1017h1.25M1061.5 1031.5h1.25M1057 1035h1.25M1068 1050.5h1.25M1068.5 1024h1.25M1054.5 1021h1.25M1072.5 1025h1.25M1060 1035.5h1.25M1052.5 1025.5h1.25M1039 1017.5h1.25M1054 1032h1.25M1075.5 1030h1.25M1064 1030.5h1.25M1074 1038h1.25M1064.5 1020h1.25M1072 1033h1.25M1075.5 1030h1.25M1084.5 1027.5h1.25M1080 1031.5h1.25M1055 1018.5h1.25M1059 1041.5h1.25M1071 1036h1.25M1032.5 1033h1.25M1067.5 1024.5h1.25M1053.5 1028.5h1.25M1081.5 1021h1.25M1056 1041h1.25M1055.5 1025.5h1.25M1062 1018h1.25M1063.5 1018.5h1.25M1071.5 1030h1.25M1088.5 1033.5h1.25M1077.5 1018.5h1.25M1059.5 1032h1.25M1082 1015.5h1.25M1073 1035h1.25M1079.5 1037h1.25M1061.5 1024.5h1.25M1046 1029.5h1.25M1058.5 1047h1.25M1053.5 1031.5h1.25M1042 1024h1.25M1064 1036.5h1.25M1078.5 1030h1.25M1047.5 1032h1.25M1067 1034h1.25M1052.5 1038.5h1.25M1062 1035.5h1.25M1076.5 1035.5h1.25M1064.5 1048.5h1.25M1064 1026.5h1.25M1062.5 1042.5h1.25M1062.5 1034h1.25M1075.5 1025.5h1.25M1040.5 1030h1.25M1064 1024h1.25M1071.5 1035h1.25M1049 1032.5h1.25M1058.5 1015.5h1.25M1066.5 1029h1.25M1052 1033h1.25M1067 1024.5h1.25M1066 1038.5h1.25M1052.5 1032h1.25M1061 1049.5h1.25M1038.5 1033.5h1.25M1057.5 1028h1.25M1084 1030.5h1.25M1088 1027h1.25M1065 1025h1.25M1052.5 1029h1.25M1057.5 1030.5h1.25M1035.5 1045h1.25M1059 1044.5h1.25M1049 1030.5h1.25M1099 1024h1.25M1043 1023h1.25M1066.5 1035.5h1.25M1076.5 1028h1.25M1042 1023.5h1.25M1076 1034.5h1.25M1037.5 1027h1.25M1078 1049.5h1.25M1067.5 1032.5h1.25M1046 1020.5h1.25M1061.5 1033.5h1.25M1068 1025h1.25M1047 1021h1.25M1047 1033.5h1.25M1033.5 1024h1.25M1066.5 1043h1.25M1062 1038h1.25M1056 1022h1.25M1053 1042h1.25M1073 1034.5h1.25M1101 1031.5h1.25M1068.5 1032.5h1.25M1058.5 1049.5h1.25M1079 1018h1.25M1056 1032.5h1.25M1070.5 1017.5h1.25M1034 1010h1.25M1060 1028h1.25M1065 1022.5h1.25M1046.5 1010h1.25M1065 1032.5h1.25M1073 1037h1.25M1058.5 1041h1.25M1059.5 1023h1.25M1055 1023.5h1.25M1035 1028.5h1.25M1064 1026h1.25M1052.5 1031.5h1.25M1081.5 1031h1.25M1055 1023h1.25M1060 1017.5h1.25M1059.5 1029.5h1.25M1083 1039h1.25M1073.5 1023.5h1.25M1069 1019.5h1.25M1064.5 1033h1.25M1052 1046h1.25M1068 1012.5h1.25M1067.5 1026h1.25M1061 1033h1.25M1065.5 1011h1.25M1047 1035h1.25M1076.5 1047h1.25M1082.5 1012h1.25M1070 1012.5h1.25M1080.5 1032.5h1.25M1047.5 1046h1.25M1068.5 1012.5h1.25M1064.5 1022.5h1.25M1062.5 1025h1.25M1077.5 1017.5h1.25M1065 1045.5h1.25M1051 1030h1.25M1063.5 1023h1.25M1069 1030.5h1.25M1049.5 1044h1.25M1070.5 1028h1.25M1053.5 1021.5h1.25M1076 1029h1.25M1066.5 1028h1.25M1068.5 1028.5h1.25M1070 1028h1.25M1071 1036h1.25M1059.5 1021h1.25M1049.5 1021.5h1.25M1049 1036h1.25M1060.5 1043h1.25M1088.5 1031.5h1.25M1042.5 1024h1.25M1060 1015.5h1.25M1058 1031.5h1.25M1055.5 1021.5h1.25M1052 1044.5h1.25M1059 1021.5h1.25M1056.5 1037h1.25M1053 1032.5h1.25M1069.5 1036.5h1.25M1078 1025.5h1.25M1074.5 1023h1.25M1056 1039.5h1.25M1071 1030h1.25M1046.5 1033h1.25M1053.5 1020h1.25M1053 1030.5h1.25M1035.5 1030.5h1.25M1063 1024h1.25M1073.5 1035.5h1.25M1053.5 1022.5h1.25M1069.5 1016h1.25M1057 1023h1.25M1062 1031h1.25M1061.5 1039h1.25M1063.5 1026.5h1.25M1046.5 1034.5h1.25M1067.5 1042.5h1.25M1052 1028.5h1.25M1060.5 1028h1.25M1061 1013.5h1.25M1071 1035.5h1.25M1074.5 1050h1.25M1057 1028.5h1.25M1061 1046.5h1.25M1040 1032h1.25M1085 1025h1.25M1046.5 1018.5h1.25M1038.5 1027h1.25M1036.5 1021.5h1.25M1060.5 1019h1.25M1060.5 1035.5h1.25M1047.5 1016.5h1.25M1044.5 1026h1.25M1060.5 1032.5h1.25M1059 1036h1.25M1054.5 1038.5h1.25M1066.5 1034.5h1.25M1054.5 1015.5h1.25M1072.5 1033.5h1.25M1049 1025.5h1.25M1064.5 1038.5h1.25M1074 1023.5h1.25M1053 1012h1.25M1062 1020.5h1.25M1072 1030h1.25M1061.5 1011.5h1.25M1073 1027h1.25M1061 1017.5h1.25M1054.5 1024.5h1.25M1063.5 1038.5h1.25M1071.5 1031.5h1.25M1055.5 1020.5h1.25M1068 1038h1.25M1072.5 1039h1.25M1073 1031.5h1.25M1058.5 1028h1.25M1057 1025h1.25M1057.5 1029.5h1.25M1055 1033h1.25M1051.5 1041.5h1.25M1046.5 1038h1.25M1065.5 1023.5h1.25M1063 1030h1.25M1011 1016h1.25M1051 1038.5h1.25M1064.5 1016.5h1.25M1068 1030h1.25M1073.5 1039.5h1.25M1053.5 1026h1.25M1054.5 1014h1.25M1069 1040.5h1.25M1061 1024.5h1.25M1071 1031h1.25M1060 1025.5h1.25M1055 1017h1.25M1077.5 1039.5h1.25M1070.5 1020h1.25M1086 1048.5h1.25M1063.5 1021h1.25M1050.5 1032h1.25M1050 1028h1.25M1074 1016.5h1.25M1085 1045h1.25M1046 1015h1.25M1057.5 1019.5h1.25M1066.5 1019h1.25M1048 1029h1.25M1060 1022h1.25M1074.5 1016.5h1.25M1082 1040h1.25M1061.5 1039h1.25M1052 1022.5h1.25M1084 1034h1.25M1064.5 1035h1.25M1064 1021.5h1.25M1074.5 1020.5h1.25M1060.5 1030h1.25M1066 1028h1.25M1058.5 1018.5h1.25M1062 1015.5h1.25M1052.5 1020h1.25M1062.5 1025.5h1.25M1064.5 1043h1.25M1055.5 1039.5h1.25M1046.5 1030h1.25M1043.5 1034.5h1.25M1052 1040.5h1.25M1060 1035.5h1.25M1066.5 1033.5h1.25M1072 1037.5h1.25M1061.5 1023.5h1.25M1064 1039.5h1.25M1060 1033h1.25M1064 1035.5h1.25M1062 1030.5h1.25M1051.5 1027h1.25M1076 1028.5h1.25M1059 1024.5h1.25M1070.5 1022h1.25M1072 1021.5h1.25M1048.5 1030h1.25M1062.5 1032h1.25M1074 1026.5h1.25M1066.5 1021.5h1.25M1076 1036h1.25M1067.5 1031h1.25M1051.5 1025.5h1.25M1067 1029.5h1.25M1062.5 1017h1.25M1063 1023h1.25M1048 1026.5h1.25M1038.5 1033.5h1.25M1071 1029.5h1.25M1049 1019.5h1.25M1065.5 1042h1.25M1065 1034h1.25M1062 1029.5h1.25M1045.5 1031.5h1.25M1059 1035h1.25M1056 1015h1.25M1043.5 1031.5h1.25M1080 1023h1.25M1048.5 1018.5h1.25M1072.5 1026h1.25M1044.5 1024h1.25M1080 1021.5h1.25M1067.5 1032h1.25M1054 1042.5h1.25M1052 1025h1.25M1074 1039.5h1.25M1056 1029h1.25M1073.5 1032.5h1.25M1057 1035h1.25M1087 1043.5h1.25M1069 1019.5h1.25M1106 1021.5h1.25M1056.5 1022.5h1.25M1080.5 1034h1.25M1044 1030h1.25M1067.5 1026.5h1.25M1046.5 1021.5h1.25M1056 1029h1.25M1055 1035h1.25M1049.5 1012.5h1.25M1052 1040.5h1.25M1054 1049.5h1.25M1067 1019h1.25M1051 1030.5h1.25M1047 1049h1.25M1049 1034h1.25M1078.5 1029.5h1.25M1049 1025.5h1.25M1065.5 1037h1.25M1061.5 1016.5h1.25M1061.5 1023h1.25M1035 1021h1.25M1044 1033h1.25M1084.5 1047.5h1.25M1054 1024.5h1.25M1069.5 1039h1.25M1056 1027.5h1.25M1087.5 1030h1.25M1055 1029.5h1.25M1068 1020.5h1.25M1058 1018.5h1.25M1057.5 1045.5h1.25M1070 1029h1.25M1050 1025.5h1.25M1073.5 1025h1.25M1078.5 1018h1.25M1057.5 1044.5h1.25M1037 1038h1.25M1039 1026.5h1.25M1059 1036h1.25M1070 1038.5h1.25M1052.5 1037.5h1.25M1048.5 1025.5h1.25M1057.5 1034h1.25M1056 1017.5h1.25M1063 1044.5h1.25M1080 1034.5h1.25M1055 1013h1.25M1047.5 1036.5h1.25M1075 1032.5h1.25M1040.5 1018h1.25M1070 1023h1.25M1048 1026.5h1.25M1059 1020h1.25M1057 1024.5h1.25M1030 1031h1.25M1051.5 1040h1.25M1047 1014h1.25M1075.5 1016h1.25M1053.5 1034h1.25M1057 1014h1.25M1063.5 1027.5h1.25M1076.5 1035.5h1.25M1097.5 1017h1.25M1060.5 1019.5h1.25M1075 1037.5h1.25M1070 1022.5h1.25M1052 1010h1.25M1081.5 1035h1.25M1058 1037h1.25M1070 1038.5h1.25M1041.5 1021h1.25M1063.5 1032.5h1.25M1072.5 1021h1.25M1062.5 1049h1.25M1069.5 1037.5h1.25M1061 1036h1.25M1082.5 1031.5h1.25M1075.5 1022.5h1.25M1068 1037.5h1.25M1052 1038h1.25M1053 1021h1.25M1061 1046.5h1.25M1064.5 1037.5h1.25M1052 1029h1.25M1047 1023h1.25M1071 1029.5h1.25M1078.5 1028.5h1.25M1058.5 1040.5h1.25M1053 1015h1.25M1076.5 1034h1.25M1035 1027.5h1.25M1056 1044.5h1.25M1052.5 1023h1.25M1050 1018.5h1.25M1052.5 1015.5h1.25M1048.5 1013.5h1.25M1043 1013.5h1.25M1054.5 1022.5h1.25M1046.5 1032h1.25M1060.5 1025h1.25M1055.5 1043h1.25M1064 1033.5h1.25M1030 1021h1.25M1035 1023h1.25M1065.5 1023.5h1.25M1067 1020.5h1.25M1068 1015.5h1.25M1058 1032.5h1.25M1067.5 1028.5h1.25M1084.5 1027h1.25M1055.5 1004h1.25M1065 1021h1.25M1061.5 1027.5h1.25M1048 1026h1.25M1052.5 1016.5h1.25M1042 1019h1.25M1066.5 1028h1.25M1061.5 1031h1.25M1072.5 1022h1.25M1068.5 1026.5h1.25M1081.5 1037h1.25M1069.5 1025.5h1.25M1055.5 1031.5h1.25M1070.5 1027h1.25M1055.5 1029h1.25M1066 1026h1.25M1044 1031.5h1.25M1060.5 1024h1.25M1056.5 1030.5h1.25M1048.5 1028.5h1.25M1064 1028.5h1.25M1052 1035.5h1.25M1083.5 1025.5h1.25M1076 1038h1.25M1029 1020h1.25M1053.5 1035.5h1.25M1063.5 1033.5h1.25M1068.5 1021.5h1.25M1052 1017.5h1.25M1059 1028h1.25M1063 1022.5h1.25M1072 1038h1.25M1079.5 1037h1.25M1063 1035h1.25M1068.5 1023.5h1.25M1076.5 1045.5h1.25M1084.5 1031h1.25M1065 1033h1.25M1061 1034.5h1.25M1059.5 1027h1.25M1082 1032h1.25M1062 1037h1.25M1063 1031.5h1.25M1060 1018h1.25M1060.5 1019h1.25M1063.5 1018.5h1.25M1072 1036.5h1.25M1064.5 1028.5h1.25M1066 1012h1.25M1024.5 1029.5h1.25M1045 1030.5h1.25M1026 1032h1.25M1033.5 1022h1.25M1044.5 1029h1.25M1057 1036.5h1.25M1050.5 1033.5h1.25M1028 1023h1.25M1019.5 1055.5h1.25M1025 1029h1.25M1035 1028.5h1.25M1032 1015h1.25M1026 1019h1.25M1038 1025h1.25M1030.5 1033h1.25M1032 1039h1.25M1034.5 1033h1.25M1021.5 1036.5h1.25M1034.5 1034.5h1.25M1044.5 1029.5h1.25M1043 1027.5h1.25M1059 1039h1.25M1047 1021h1.25M1024.5 1025.5h1.25M1036.5 1035h1.25M1027.5 1041h1.25M1040 1014h1.25M1033.5 1009h1.25M1029.5 1026.5h1.25M1031.5 1028h1.25M1034.5 1026h1.25M1061 1041.5h1.25M1024 1041.5h1.25M1017.5 1024h1.25M1061.5 1012h1.25M1048 1020.5h1.25M1038 1029.5h1.25M1064 1024h1.25M1039 1036.5h1.25M1036.5 1024h1.25M1039 1032h1.25M1052.5 1023h1.25M1033.5 1033.5h1.25M1037.5 1029.5h1.25M1040 1025h1.25M1029 1034.5h1.25M1024.5 1041h1.25M1043 1020h1.25M1044 1032.5h1.25M1050.5 1041h1.25M1035 1025h1.25M1031.5 1022.5h1.25M1029.5 1033.5h1.25M1040 1027h1.25M1029.5 1034h1.25M1033 1022h1.25M1038 1029h1.25M1025 1038h1.25M1052 1031.5h1.25M1042 1035.5h1.25M1039.5 1038.5h1.25M1063 1031.5h1.25M1046 1038.5h1.25M1035.5 1021.5h1.25M1052.5 1017.5h1.25M1065 1038.5h1.25M1042.5 1031.5h1.25M1064.5 1023h1.25M1024 1026h1.25M1036.5 1022.5h1.25M1042 1032h1.25M1028.5 1044.5h1.25M1020.5 1020h1.25M1045.5 1029h1.25M1046 1025.5h1.25M1025.5 1025.5h1.25M1030.5 1035.5h1.25M1033.5 1037.5h1.25M1048 1040h1.25M1052.5 1037.5h1.25M1051 1026.5h1.25M1036.5 1015.5h1.25M1044 1025.5h1.25M1045.5 1035.5h1.25M1021 1022.5h1.25M1035 1026.5h1.25M1042.5 1021h1.25M1040.5 1016.5h1.25M1010 1037h1.25M1021.5 1026h1.25M1020 1019h1.25M1034.5 1027.5h1.25M1054 1035h1.25M1036.5 1037.5h1.25M1055.5 1034.5h1.25M1034.5 1039.5h1.25M1065 1036.5h1.25M1065 1039h1.25M1052 1021.5h1.25M1024.5 1030.5h1.25M1016.5 1026h1.25M1052 1025.5h1.25M1047.5 1019.5h1.25M1033 1039.5h1.25M1043 1033.5h1.25M1064 1042h1.25M1027.5 1042h1.25M1031.5 1031h1.25M1040 1040h1.25M1024 1035h1.25M1047.5 1038h1.25M1037 1039.5h1.25M1030 1040.5h1.25M1045 1019h1.25M1045.5 1032.5h1.25M1035 1024.5h1.25M1036.5 1018.5h1.25M1063.5 1021.5h1.25M1030.5 1040.5h1.25M1048 1037h1.25M1061 1028.5h1.25M1025.5 1038h1.25M1051 1028h1.25M1022.5 1041.5h1.25M1048 1019.5h1.25M1051 1019h1.25M1033 1021.5h1.25M1031 1024h1.25M1031.5 1037h1.25M1044 1036.5h1.25M1055.5 1028h1.25M1041 1035.5h1.25M1064 1038.5h1.25M1059.5 1039.5h1.25M1055 1016h1.25M1052.5 1033h1.25M1041 1026.5h1.25M1034 1034.5h1.25M1052 1018.5h1.25M1043 1026h1.25M1026.5 1034.5h1.25M1035.5 1025.5h1.25M1029 1033.5h1.25M1040 1021.5h1.25M1028 1029.5h1.25M1045.5 1022h1.25M1047 1024h1.25M1078 1023h1.25M1029 1032.5h1.25M1027.5 1038h1.25M1065 1027.5h1.25M1042.5 1026.5h1.25M1040 1043h1.25M1052.5 1023.5h1.25M1061.5 1041h1.25M1047 1025.5h1.25M1041 1024h1.25M1046.5 1028.5h1.25M1008.5 1039h1.25M1042.5 1040h1.25M1038 1032.5h1.25M1055.5 1034.5h1.25M1044 1058.5h1.25M1037.5 1032.5h1.25M1064.5 1024h1.25M1025.5 1019h1.25M1047.5 1036.5h1.25M1050.5 1019.5h1.25M1054 1041h1.25M1038.5 1031.5h1.25M1049.5 1034h1.25M1049 1022h1.25M1037.5 1020.5h1.25M1049 1035.5h1.25M1038.5 1033.5h1.25M1018 1038.5h1.25M1033.5 1032h1.25M1055.5 1024.5h1.25M1057 1032h1.25M1040.5 1035.5h1.25M1022.5 1036h1.25M1041 1040h1.25M1037 1028h1.25M1045 1030.5h1.25M1023.5 1029.5h1.25M1057.5 1030h1.25M1028 1037h1.25M1014 1013h1.25M1040 1032.5h1.25M1043 1023.5h1.25M1038 1019h1.25M1043 1017.5h1.25M1038 1033h1.25M1015.5 1026.5h1.25M1051 1044h1.25M1019 1034h1.25M1022.5 1019.5h1.25M1062.5 1036.5h1.25M1028.5 1033h1.25M1049 1032.5h1.25M1071.5 1036h1.25M1029.5 1029.5h1.25M1040 1025.5h1.25M1025 1042.5h1.25M1048.5 1025.5h1.25M1049.5 1036.5h1.25M1057.5 1022h1.25M1051 1026h1.25M1056 1029.5h1.25M1015 1029h1.25M1039 1027.5h1.25M1019 1021.5h1.25M1028 1029h1.25M1058 1037h1.25M1033.5 1042h1.25M1021 1037h1.25M1037.5 1033h1.25M1049 1025h1.25M1051 1031h1.25M1074 1028.5h1.25M1058 1036.5h1.25M1023.5 1042.5h1.25M1025 1012h1.25M1052 1040h1.25M1040.5 1029h1.25M1062 1037h1.25M1031 1037h1.25M1022.5 1026h1.25M1025.5 1012.5h1.25M1023.5 1041.5h1.25M1024.5 1026.5h1.25M1023.5 1038.5h1.25M1040 1035h1.25M1038.5 1021h1.25M1026.5 1038h1.25M1039 1037.5h1.25M1033 1049.5h1.25M1033 1031h1.25M1049 1023.5h1.25M1052 1025.5h1.25M1058 1037.5h1.25M1047 1025h1.25M1037 1033.5h1.25M1011.5 1026.5h1.25M1053 1020h1.25M1058 1025.5h1.25M1044.5 1021h1.25M1047 1035h1.25M1056 1042.5h1.25M1057.5 1033h1.25M1023 1042.5h1.25M1021.5 1027.5h1.25M1050.5 1035h1.25M1062.5 1031h1.25M1016.5 1028.5h1.25M1042.5 1028h1.25M1060 1029h1.25M1041.5 1045.5h1.25M1044.5 1054h1.25M1058.5 1032h1.25M1067 1058.5h1.25M1036 1048.5h1.25M1061 1043h1.25M1059.5 1045.5h1.25M1049 1052h1.25M1042.5 1055.5h1.25M1071.5 1033.5h1.25M1056 1052h1.25M1051 1041h1.25M1052 1050h1.25M1050 1042h1.25M1061.5 1040.5h1.25M1047.5 1032.5h1.25M1041 1033.5h1.25M1039 1037h1.25M1059 1042.5h1.25M1047.5 1035h1.25M1046 1032.5h1.25M1043.5 1047h1.25M1042 1042h1.25M1050 1059h1.25M1038 1043.5h1.25M1052.5 1036.5h1.25M1059 1043h1.25M1045.5 1045h1.25M1060 1051h1.25M1050 1052.5h1.25M1054 1028h1.25M1061 1041.5h1.25M1047 1048.5h1.25M1051.5 1049h1.25M1055 1047.5h1.25M1063 1045.5h1.25M1045.5 1048.5h1.25M1056 1056h1.25M1061 1047.5h1.25M1048.5 1039h1.25M1057 1034h1.25M1044.5 1041h1.25M1055 1043.5h1.25M1067 1039h1.25M1063 1041h1.25M1054 1044h1.25M1035.5 1042.5h1.25M1049.5 1035.5h1.25M1037 1039h1.25M1037 1048h1.25M1053.5 1030h1.25M1049.5 1047.5h1.25M1050 1040h1.25M1052.5 1041h1.25M1039 1041.5h1.25M1050.5 1062.5h1.25M1054 1039h1.25M1066 1041h1.25M1058.5 1036h1.25M1071.5 1037.5h1.25M1060 1050h1.25M1053 1042h1.25M1062 1047h1.25M1045 1043.5h1.25M1046.5 1037h1.25M1049.5 1050.5h1.25M1072 1060h1.25M1055.5 1036h1.25M1046.5 1053.5h1.25M1040.5 1040h1.25M1050.5 1054h1.25M1046 1049.5h1.25M1069 1041h1.25M1060.5 1031h1.25M1055 1040.5h1.25M1030 1045h1.25M1059.5 1030h1.25M1042 1037h1.25M1050.5 1040h1.25M1046.5 1035h1.25M1059 1038.5h1.25M1055 1040.5h1.25M1060.5 1041h1.25M1064.5 1042.5h1.25M1065 1050.5h1.25M1041.5 1048.5h1.25M1074 1035h1.25M1055.5 1039.5h1.25M1060.5 1045.5h1.25M1049.5 1051h1.25M1047.5 1041h1.25M1066 1055.5h1.25M1051 1047.5h1.25M1058 1031h1.25M1046.5 1033.5h1.25M1051 1039h1.25M1056.5 1051h1.25M1060 1060.5h1.25M1053.5 1047.5h1.25M1060 1052.5h1.25M1052 1048h1.25M1072.5 1037h1.25M1055.5 1045.5h1.25M1051.5 1036h1.25M1074.5 1040.5h1.25M1073.5 1038.5h1.25M1054 1047.5h1.25M1054 1035.5h1.25M1049 1044h1.25M1049.5 1042.5h1.25M1033.5 1038h1.25M1054 1038.5h1.25M1046 1036h1.25M1056.5 1052.5h1.25M1042 1040h1.25M1066 1044.5h1.25M1055 1039h1.25M1056 1041.5h1.25M1034 1037h1.25M1036.5 1051h1.25M1064 1036.5h1.25M1064 1059h1.25M1050 1051h1.25M1059.5 1040.5h1.25M1045 1038h1.25M1052 1026h1.25M1061.5 1039.5h1.25M1060.5 1039h1.25M1086 1030.5h1.25M1046.5 1047h1.25M1079.5 1035h1.25M1074.5 1035.5h1.25M1069 1042.5h1.25M1078.5 1054.5h1.25M1049.5 1062.5h1.25M1045 1040h1.25M1074 1037h1.25M1049.5 1043h1.25M1060.5 1044.5h1.25M1048.5 1043.5h1.25M1062.5 1052.5h1.25M1059.5 1033h1.25M1056.5 1037.5h1.25M1069 1030.5h1.25M1061.5 1034.5h1.25M1068.5 1047.5h1.25M1058 1045.5h1.25M1052.5 1046.5h1.25M1055.5 1047h1.25M1056.5 1024.5h1.25" stroke="#000" stroke-opacity="0.62" stroke-width="1.25" fill="none"/><path d="M1061.5 1038h1.2M1047.5 1043.5h1.2M1021.5 1017h1.2M1017 1037.5h1.2M1054 1035.5h1.2M1013 1049.5h1.2M1008.5 1028.5h1.2M1026.5 1037h1.2M1054.5 1017.5h1.2M1030.5 1037.5h1.2M1016 1033h1.2M1039 1019.5h1.2M1014 1033.5h1.2M1032 1036.5h1.2M1073.5 1044h1.2M1043.5 1026h1.2M1052 1025.5h1.2M1062.5 1047h1.2M1032.5 1029.5h1.2M1014.5 1020.5h1.2M1048.5 1028h1.2M1010 1031h1.2M1052.5 1052.5h1.2M1037 1030.5h1.2M1022.5 1028.5h1.2M1045 1048h1.2M1057 1031.5h1.2M1051 1042.5h1.2M1079 1041.5h1.2M1030.5 1031.5h1.2M1041 1037.5h1.2M1031 1028.5h1.2M1039 1029h1.2M1018 1031.5h1.2M1037 1034h1.2M1074.5 1017h1.2M1055.5 1046.5h1.2M1072.5 1032.5h1.2M1047.5 1027.5h1.2M1032 1021.5h1.2M1060.5 1027.5h1.2M1054.5 1016h1.2M1016 1045.5h1.2M1045.5 1038h1.2M1052 1029.5h1.2M1027 1021h1.2M1034.5 1048.5h1.2M1049 1029h1.2M1030 1040h1.2M1050 1052.5h1.2M1047.5 1032h1.2M1040.5 1041h1.2M1039 1046h1.2M1039.5 1035h1.2M1013.5 1029.5h1.2M1063 1013.5h1.2M1024.5 1030h1.2M1056 1047.5h1.2M1037 1035h1.2M1033.5 1028.5h1.2M1028 1029h1.2M1033.5 1035h1.2M1025 1041h1.2M1035.5 1040h1.2M1013 1026.5h1.2M1037.5 1037h1.2M1033 1051h1.2M1032.5 1049.5h1.2M1059.5 1041.5h1.2M1043.5 1040h1.2M1033.5 1021.5h1.2M1027 1027h1.2M1029 1026h1.2M1017.5 1035.5h1.2M1060 1024.5h1.2M1015 1022.5h1.2M1014 1032.5h1.2M1045 1059h1.2M1016 1018.5h1.2M1033 1032.5h1.2M1063.5 1048.5h1.2M1024.5 1011.5h1.2M1045.5 1029h1.2M1059 1032.5h1.2M1033.5 1021h1.2M1035 1046.5h1.2M1022 1036h1.2M1026 1044h1.2M1035 1040h1.2M1041.5 1024h1.2M1016.5 1048.5h1.2M1030 1022.5h1.2M1025 1052.5h1.2M1037.5 1046h1.2M1037.5 1048.5h1.2M1030.5 1033.5h1.2M1051 1055h1.2M1039 1026.5h1.2M1053.5 1057.5h1.2M1013 1025h1.2M1047 1029.5h1.2M1041 1042h1.2M1060 1019.5h1.2M1027 1033.5h1.2M1043.5 1026h1.2M1036.5 1025.5h1.2M1051 1048h1.2M1023 1040.5h1.2M1018.5 1038.5h1.2M1012 1037h1.2M1056 1044h1.2M1030 1050h1.2M1043.5 1050.5h1.2M1027 1021.5h1.2M1031.5 1037.5h1.2M1033.5 1037h1.2M1061 1021h1.2M1045.5 1048h1.2M1045.5 1055h1.2M1031 1036h1.2M1031.5 1030.5h1.2M1066.5 1018.5h1.2M1026.5 1028.5h1.2M1036.5 1031h1.2M1047 1040h1.2M1067 1044h1.2M1021 1016.5h1.2M1029.5 1027.5h1.2M1032 1049h1.2M1042 1019h1.2M1023 1052h1.2M1016 1042.5h1.2M1050.5 1021h1.2M1014 1037.5h1.2M1041 1045.5h1.2M1045.5 1023h1.2M1067 1036h1.2M1038.5 1036.5h1.2M1010.5 1025h1.2M1050 1041.5h1.2M1064 1055h1.2M1064 1049h1.2M1064.5 1044h1.2M1062.5 1053h1.2M1068 1052.5h1.2M1066.5 1058h1.2M1069 1054.5h1.2M1065 1053.5h1.2M1074.5 1060.5h1.2M1065.5 1048.5h1.2M1062.5 1044.5h1.2M1081 1046.5h1.2M1075.5 1053.5h1.2M1073.5 1049h1.2M1066.5 1063.5h1.2M1080.5 1056h1.2M1077.5 1060.5h1.2M1076 1057.5h1.2M1067.5 1075.5h1.2M1065.5 1062h1.2M1066.5 1058.5h1.2M1064 1048h1.2M1067 1061.5h1.2M1059.5 1067h1.2M1069 1058.5h1.2M1063 1064h1.2M1067 1058h1.2M1055.5 1072h1.2M1075 1048h1.2M1063.5 1056.5h1.2M1062 1041.5h1.2M1067.5 1066.5h1.2M1073.5 1058.5h1.2M1064.5 1069.5h1.2M1061 1046.5h1.2M1058.5 1058.5h1.2M1062 1055h1.2M1075 1040h1.2M1062 1060h1.2M1069.5 1053h1.2M1068.5 1048.5h1.2M1070.5 1062h1.2M1063 1048.5h1.2M1058.5 1053h1.2M1077 1048.5h1.2M1066.5 1066.5h1.2M1061.5 1051.5h1.2M1068 1053h1.2M1084 1052.5h1.2M1079.5 1059.5h1.2M1084.5 1074h1.2M1055.5 1058.5h1.2M1067.5 1067h1.2M1082 1057h1.2M1067.5 1059.5h1.2M1059 1058h1.2M1072.5 1055.5h1.2M1060.5 1061.5h1.2M1066.5 1049.5h1.2M1071.5 1046.5h1.2M1075.5 1053.5h1.2M1061 1056.5h1.2M1084 1064h1.2M1056.5 1046h1.2M1073 1062.5h1.2M1066.5 1061h1.2M1059 1062h1.2M1056 1057.5h1.2M1078.5 1053h1.2M1074 1033h1.2M1075.5 1052.5h1.2M1074.5 1042h1.2M1082.5 1056h1.2M1081.5 1042.5h1.2M1061.5 1066.5h1.2M1072 1045.5h1.2M1063 1047.5h1.2M1076.5 1049h1.2M1068.5 1063.5h1.2M1061.5 1049.5h1.2M1062.5 1065h1.2M1064 1063.5h1.2M1074 1058h1.2M1075 1061h1.2M1064.5 1061.5h1.2M1092 1059h1.2M1068.5 1055h1.2M1066 1052.5h1.2M1052 1045.5h1.2M1076.5 1057.5h1.2M1073.5 1069.5h1.2M1072.5 1078.5h1.2M1067 1060h1.2M1065 1080h1.2M1076.5 1075h1.2M1075 1058.5h1.2M1059.5 1081h1.2M1070.5 1062h1.2M1076.5 1063.5h1.2M1075.5 1069h1.2M1065.5 1079.5h1.2M1073.5 1067.5h1.2M1063 1082.5h1.2M1082.5 1086h1.2M1069.5 1074h1.2M1076 1080.5h1.2M1059.5 1083.5h1.2M1074.5 1060.5h1.2M1070 1064h1.2M1076.5 1081h1.2M1071 1073.5h1.2M1071 1078h1.2M1068 1084h1.2M1066.5 1077h1.2M1067.5 1074.5h1.2M1074 1057.5h1.2M1058.5 1087h1.2M1066.5 1065h1.2M1066 1068h1.2M1064.5 1084.5h1.2M1066 1069.5h1.2M1084.5 1075h1.2M1066 1082h1.2M1083.5 1060.5h1.2M1068.5 1080h1.2M1063.5 1073.5h1.2M1062 1081h1.2M1080 1077h1.2M1067.5 1064.5h1.2M1080 1076h1.2M1080 1068.5h1.2M1064 1075h1.2M1072.5 1087h1.2M1075 1074.5h1.2M1065 1067.5h1.2M1075.5 1080h1.2M1071 1080.5h1.2M1082 1086.5h1.2M1062.5 1077h1.2M1069.5 1076.5h1.2M1074 1078.5h1.2M1075.5 1061.5h1.2M1081.5 1072.5h1.2M1072.5 1089h1.2M1068 1069h1.2M1110.5 1007h1.2M1136 997h1.2M1146.5 988h1.2M1101.5 986.5h1.2M1139 1000.5h1.2M1128.5 1002h1.2M1131.5 995.5h1.2M1155 963h1.2M1138.5 1003h1.2M1117.5 1007.5h1.2M1107.5 1008.5h1.2M1147 991h1.2M1151 1000h1.2M1150.5 996h1.2M1145 1008.5h1.2M1110 1008.5h1.2M1113 991h1.2M1121 984.5h1.2M1132.5 980h1.2M1127.5 999.5h1.2M1138.5 1010h1.2M1155 1001.5h1.2M1137.5 995h1.2M1132.5 981.5h1.2M1138.5 986.5h1.2M1124.5 984h1.2M1136 999h1.2M1147.5 995.5h1.2M1137 988.5h1.2M1146.5 982.5h1.2M1147.5 991h1.2M1162.5 988h1.2M1147 995h1.2M1146 998.5h1.2M1098.5 989.5h1.2M1144 987.5h1.2M1118.5 992.5h1.2M1148 993.5h1.2M1116 998h1.2M1132 988.5h1.2M1170.5 987h1.2M1132.5 1000h1.2M1137.5 1002.5h1.2M1118 999h1.2M1115 990h1.2M1143.5 994h1.2M1117.5 1002h1.2M1134.5 981h1.2M1118 1006h1.2M1129.5 1006h1.2M1149 981h1.2M1160.5 992.5h1.2M1105 991.5h1.2M1135.5 995h1.2M1121 1020h1.2M1123.5 1006h1.2M1139 1004.5h1.2M1136 987.5h1.2M1154 997.5h1.2M1138.5 995.5h1.2M1143 1000h1.2M1156 1010.5h1.2M1124 983.5h1.2M1129.5 989h1.2M1137.5 995h1.2M1144.5 1000h1.2M1108.5 997h1.2M1162.5 983.5h1.2M1114.5 990.5h1.2M1171.5 983.5h1.2M1109.5 1015h1.2M1146 998h1.2M1106.5 1025h1.2M1141.5 1016h1.2M1098 1061h1.2M1105 1027h1.2M1126.5 1023.5h1.2M1101 1020.5h1.2M1120 1026.5h1.2M1132.5 1022.5h1.2M1143 1006h1.2M1137.5 999.5h1.2M1149 1018.5h1.2M1135.5 1027.5h1.2M1136.5 1031.5h1.2M1124.5 1027h1.2M1139 999h1.2M1094 1025h1.2M1118 1023.5h1.2M1135.5 1007h1.2M1122.5 1027h1.2M1135 1012.5h1.2M1140 1017.5h1.2M1124 1038.5h1.2M1116 1001.5h1.2M1125.5 1027.5h1.2M1135 1011h1.2M1139 1025h1.2M1125.5 1025h1.2M1160.5 1011.5h1.2M1111 1022.5h1.2M1149 1019h1.2M1111.5 1043.5h1.2M1135.5 1027.5h1.2M1130 988h1.2M1113 1024h1.2M1110.5 1000h1.2M1139 1020h1.2M1143 1028h1.2M1136 1011.5h1.2M1129.5 1020h1.2M1138 1023h1.2M1140.5 1006h1.2M1152.5 1021.5h1.2M1141 1010h1.2M1093 1034h1.2M1133 1029h1.2M1134.5 1013h1.2M1128.5 1017.5h1.2M1133 1032h1.2M1114 1025h1.2M1134 1022.5h1.2M1135.5 1012h1.2M1111.5 1042h1.2M1121 1013h1.2M1128 1034h1.2M1141 1006h1.2M1126.5 1032.5h1.2M1123 1000h1.2M1121.5 1034.5h1.2M1130 1035.5h1.2M1100 1025.5h1.2M1152.5 1001h1.2M1146 1011h1.2M1152.5 1026.5h1.2M1135.5 1021.5h1.2M1114.5 1011h1.2M1132 1012.5h1.2M1126.5 1010.5h1.2M1155.5 1016.5h1.2M1119.5 1015.5h1.2M1120 1027h1.2M1132.5 1013h1.2M1134.5 1039h1.2M1110.5 1037.5h1.2M1108.5 1026h1.2M1113.5 1018h1.2M1146 1023h1.2M1125 1022.5h1.2M1174.5 1009.5h1.2M1124 1028h1.2M1143 1024.5h1.2M1151 1001.5h1.2M1100 1030.5h1.2M1116 1009h1.2M1140.5 1012h1.2M1100.5 1030.5h1.2M1127.5 1001.5h1.2M1150.5 1023.5h1.2M1131 1006h1.2M1116 1020h1.2M1120.5 1030.5h1.2M1134.5 1020.5h1.2M1181 1023.5h1.2M1089.5 1027.5h1.2M1103.5 1032.5h1.2M1127.5 1018.5h1.2M1122 1020.5h1.2M1139.5 1023h1.2M1149.5 1003.5h1.2M1071 1002h1.2M1059.5 1001.5h1.2M1059 1002.5h1.2M1070.5 992.5h1.2M1070.5 1004.5h1.2M1075 1007.5h1.2M1075.5 996.5h1.2M1064.5 997.5h1.2M1081.5 1001.5h1.2M1091 1001h1.2M1086.5 999.5h1.2M1066.5 1001.5h1.2M1059 993.5h1.2M1060.5 996.5h1.2" stroke="#000" stroke-opacity="0.5" stroke-width="1.2" fill="none"/><path d="M1089.8 877V1091.8M1006.7 1006H1235.9" stroke="#d8213c" stroke-width="2" fill="none"/><path d="M1006.7 877H1235.9V1091.8H1006.7Z" fill="none" stroke="#2239a0" stroke-width="2.2"/><path d="M1006.7 1091.8v8.8M1017.8 1091.8v8M1024.3 1091.8v8M1029 1091.8v8M1032.5 1091.8v8M1035.5 1091.8v8M1037.9 1091.8v8M1040.1 1091.8v8M1042 1091.8v8M1043.7 1091.8v8.8M1054.8 1091.8v8M1061.3 1091.8v8M1065.9 1091.8v8M1069.5 1091.8v8M1072.4 1091.8v8M1074.9 1091.8v8M1077.1 1091.8v8M1078.9 1091.8v8M1080.6 1091.8v8.8M1091.8 1091.8v8M1098.3 1091.8v8M1102.9 1091.8v8M1106.5 1091.8v8M1109.4 1091.8v8M1111.9 1091.8v8M1114 1091.8v8M1115.9 1091.8v8M1117.6 1091.8v8.8M1128.7 1091.8v8M1135.2 1091.8v8M1139.9 1091.8v8M1143.4 1091.8v8M1146.4 1091.8v8M1148.8 1091.8v8M1151 1091.8v8M1152.9 1091.8v8M1154.6 1091.8v8.8M1165.7 1091.8v8M1172.2 1091.8v8M1176.8 1091.8v8M1180.4 1091.8v8M1183.3 1091.8v8M1185.8 1091.8v8M1188 1091.8v8M1189.8 1091.8v8M1191.5 1091.8v8.8M1202.7 1091.8v8M1209.2 1091.8v8M1213.8 1091.8v8M1217.4 1091.8v8M1220.3 1091.8v8M1222.8 1091.8v8M1224.9 1091.8v8M1226.8 1091.8v8M1228.5 1091.8v8.8M1235.9 1091.8v8.8M1006.7 1091.8h-9.2M1006.7 1081.4h-8.6M1006.7 1075.3h-8.6M1006.7 1070.9h-8.6M1006.7 1067.6h-8.6M1006.7 1064.8h-8.6M1006.7 1062.5h-8.6M1006.7 1060.5h-8.6M1006.7 1058.7h-8.6M1006.7 1057.2h-9.2M1006.7 1046.7h-8.6M1006.7 1040.6h-8.6M1006.7 1036.3h-8.6M1006.7 1032.9h-8.6M1006.7 1030.2h-8.6M1006.7 1027.9h-8.6M1006.7 1025.9h-8.6M1006.7 1024.1h-8.6M1006.7 1022.5h-9.2M1006.7 1012.1h-8.6M1006.7 1006h-8.6M1006.7 1001.7h-8.6M1006.7 998.3h-8.6M1006.7 995.6h-8.6M1006.7 993.2h-8.6M1006.7 991.2h-8.6M1006.7 989.4h-8.6M1006.7 987.9h-9.2M1006.7 977.4h-8.6M1006.7 971.3h-8.6M1006.7 967h-8.6M1006.7 963.6h-8.6M1006.7 960.9h-8.6M1006.7 958.6h-8.6M1006.7 956.6h-8.6M1006.7 954.8h-8.6M1006.7 953.2h-9.2M1006.7 942.8h-8.6M1006.7 936.7h-8.6M1006.7 932.4h-8.6M1006.7 929h-8.6M1006.7 926.3h-8.6M1006.7 923.9h-8.6M1006.7 921.9h-8.6M1006.7 920.2h-8.6M1006.7 918.6h-9.2M1006.7 908.1h-8.6M1006.7 902h-8.6M1006.7 897.7h-8.6M1006.7 894.4h-8.6M1006.7 891.6h-8.6M1006.7 889.3h-8.6M1006.7 887.3h-8.6M1006.7 885.5h-8.6M1006.7 883.9h-9.2M1006.7 877h-9.2" fill="none" stroke="#2239a0" stroke-width="2.05"/><g fill="#2239a0" stroke="#2239a0" stroke-width="0.25"><text transform="translate(995.8 1116.8) scale(1.28 1)" font-size="7" font-weight="bold">10</text><text x="1005.3" y="1114" font-size="14.2">1</text><text transform="translate(1032.8 1116.8) scale(1.28 1)" font-size="7" font-weight="bold">10</text><text x="1042.3" y="1114" font-size="14.2">2</text><text transform="translate(1069.7 1116.8) scale(1.28 1)" font-size="7" font-weight="bold">10</text><text x="1079.2" y="1114" font-size="14.2">3</text><text transform="translate(1106.7 1116.8) scale(1.28 1)" font-size="7" font-weight="bold">10</text><text x="1116.2" y="1114" font-size="14.2">4</text><text transform="translate(1143.7 1116.8) scale(1.28 1)" font-size="7" font-weight="bold">10</text><text x="1153.2" y="1114" font-size="14.2">5</text><text transform="translate(1180.6 1116.8) scale(1.28 1)" font-size="7" font-weight="bold">10</text><text x="1190.1" y="1114" font-size="14.2">6</text><text transform="translate(1219.6 1116.8) scale(1.28 1)" font-size="7" font-weight="bold">10</text><text x="1229.1" y="1114" font-size="14.2">7.2</text></g><g fill="#2239a0" stroke="#2239a0" stroke-width="0.25"><text transform="translate(990.5 1101.1) rotate(-90) scale(1.08 1)" font-size="7.6" font-weight="bold">10</text><text transform="translate(987.6 1091.4) rotate(-90) scale(0.9 1)" font-size="14.8">1</text><text transform="translate(990.5 1066.5) rotate(-90) scale(1.08 1)" font-size="7.6" font-weight="bold">10</text><text transform="translate(987.6 1056.8) rotate(-90) scale(0.9 1)" font-size="14.8">2</text><text transform="translate(990.5 1031.8) rotate(-90) scale(1.08 1)" font-size="7.6" font-weight="bold">10</text><text transform="translate(987.6 1022.1) rotate(-90) scale(0.9 1)" font-size="14.8">3</text><text transform="translate(990.5 997.2) rotate(-90) scale(1.08 1)" font-size="7.6" font-weight="bold">10</text><text transform="translate(987.6 987.5) rotate(-90) scale(0.9 1)" font-size="14.8">4</text><text transform="translate(990.5 962.5) rotate(-90) scale(1.08 1)" font-size="7.6" font-weight="bold">10</text><text transform="translate(987.6 952.8) rotate(-90) scale(0.9 1)" font-size="14.8">5</text><text transform="translate(990.5 927.9) rotate(-90) scale(1.08 1)" font-size="7.6" font-weight="bold">10</text><text transform="translate(987.6 918.2) rotate(-90) scale(0.9 1)" font-size="14.8">6</text><text transform="translate(990.5 890.5) rotate(-90) scale(1.08 1)" font-size="7.6" font-weight="bold">10</text><text transform="translate(987.6 880.8) rotate(-90) scale(0.9 1)" font-size="14.8">7.2</text></g><text x="1006.8" y="874" font-size="18.2" fill="#1d1d1d">Gate: (P1 in all)</text><text transform="translate(971.6 1012) rotate(-90)" text-anchor="middle" font-size="13.8" letter-spacing="0.9" fill="#1d1d1d" stroke="#1d1d1d" stroke-width="0.3">PI-A</text><text x="1121.8" y="1133.3" text-anchor="middle" font-size="13.5" letter-spacing="0.95" fill="#1d1d1d" stroke="#1d1d1d" stroke-width="0.3">FITC-A</text><text font-size="18.1" fill="#d8213c"><tspan x="1007.6" y="893.8">Q1-UL</tspan><tspan x="1007.6" y="910.2">0.5%</tspan></text><text font-size="18.1" fill="#d8213c"><tspan x="1178.8" y="893.8">Q1-UR</tspan><tspan x="1178.8" y="910.2">2.1%</tspan></text><text font-size="18.1" fill="#d8213c"><tspan x="1007.6" y="1074.4">Q1-LL</tspan><tspan x="1007.6" y="1090.6">93.1%</tspan></text><text font-size="18.1" fill="#d8213c"><tspan x="1182" y="1074.4">Q1-LR</tspan><tspan x="1182" y="1090.6">4.3%</tspan></text></g>
<text x="1104.2" y="1180.6" text-anchor="middle" font-size="26.5" fill="#000">APBBR</text>
<defs><pattern id="p1" x="0" y="0" width="4.2" height="4.2" patternUnits="userSpaceOnUse"><rect width="4.2" height="4.2" fill="#fff"/><rect width="2.1" height="2.1"/><rect x="2.1" y="2.1" width="2.1" height="2.1"/></pattern><pattern id="p2" x="0" y="0" width="8.4" height="8.4" patternUnits="userSpaceOnUse"><rect width="8.4" height="8.4" fill="#fff"/><rect width="4.2" height="4.2"/><rect x="4.2" y="4.2" width="4.2" height="4.2"/></pattern><pattern id="p3" y="5.62" width="8" height="6.55" patternUnits="userSpaceOnUse"><rect width="8" height="6.55" fill="#fff"/><rect width="8" height="1.25"/></pattern><pattern id="p4" x="213.78" width="6.6" height="8" patternUnits="userSpaceOnUse"><rect width="6.6" height="8" fill="#fff"/><rect width="1.25" height="8"/></pattern><pattern id="p5" x="0" y="0" width="8" height="3.9" patternUnits="userSpaceOnUse" patternTransform="rotate(-45)"><rect width="8" height="3.9" fill="#fff"/><rect width="8" height="1.38"/></pattern><pattern id="p6" x="0" y="0" width="8" height="3.9" patternUnits="userSpaceOnUse" patternTransform="rotate(45)"><rect width="8" height="3.9" fill="#fff"/><rect width="8" height="1.38"/></pattern><pattern id="p7" x="335.05" y="208.55" width="6.53" height="6.53" patternUnits="userSpaceOnUse"><rect width="6.53" height="6.53" fill="#fff"/><rect width="1.3" height="6.53"/><rect width="6.53" height="1.3"/></pattern><pattern id="p8" x="0" y="0" width="7.92" height="7.92" patternUnits="userSpaceOnUse" patternTransform="rotate(-45)"><rect width="7.92" height="7.92" fill="#fff"/><path d="M0 0.65H7.92M0 4.61H7.92" stroke="#000" stroke-width="1.3"/><path d="M0.55 0V3.96M4.51 3.96V7.92" stroke="#000" stroke-width="1.1"/></pattern><pattern id="p9" y="201.72" width="8" height="6.55" patternUnits="userSpaceOnUse"><rect width="8" height="6.55" fill="#fff"/><rect width="8" height="1.25"/></pattern><pattern id="p10" x="1189.67" width="6.6" height="8" patternUnits="userSpaceOnUse"><rect width="6.6" height="8" fill="#fff"/><rect width="1.25" height="8"/></pattern><pattern id="p11" x="1329.55" y="152.85" width="6.53" height="6.53" patternUnits="userSpaceOnUse"><rect width="6.53" height="6.53" fill="#fff"/><rect width="1.3" height="6.53"/><rect width="6.53" height="1.3"/></pattern><pattern id="p12" y="1048.08" width="8" height="6.55" patternUnits="userSpaceOnUse"><rect width="8" height="6.55" fill="#fff"/><rect width="8" height="1.25"/></pattern><pattern id="p13" y="-0.62" width="8" height="6.55" patternUnits="userSpaceOnUse"><rect width="8" height="6.55" fill="#fff"/><rect width="8" height="1.25"/></pattern></defs>
</svg>
</body></html>
